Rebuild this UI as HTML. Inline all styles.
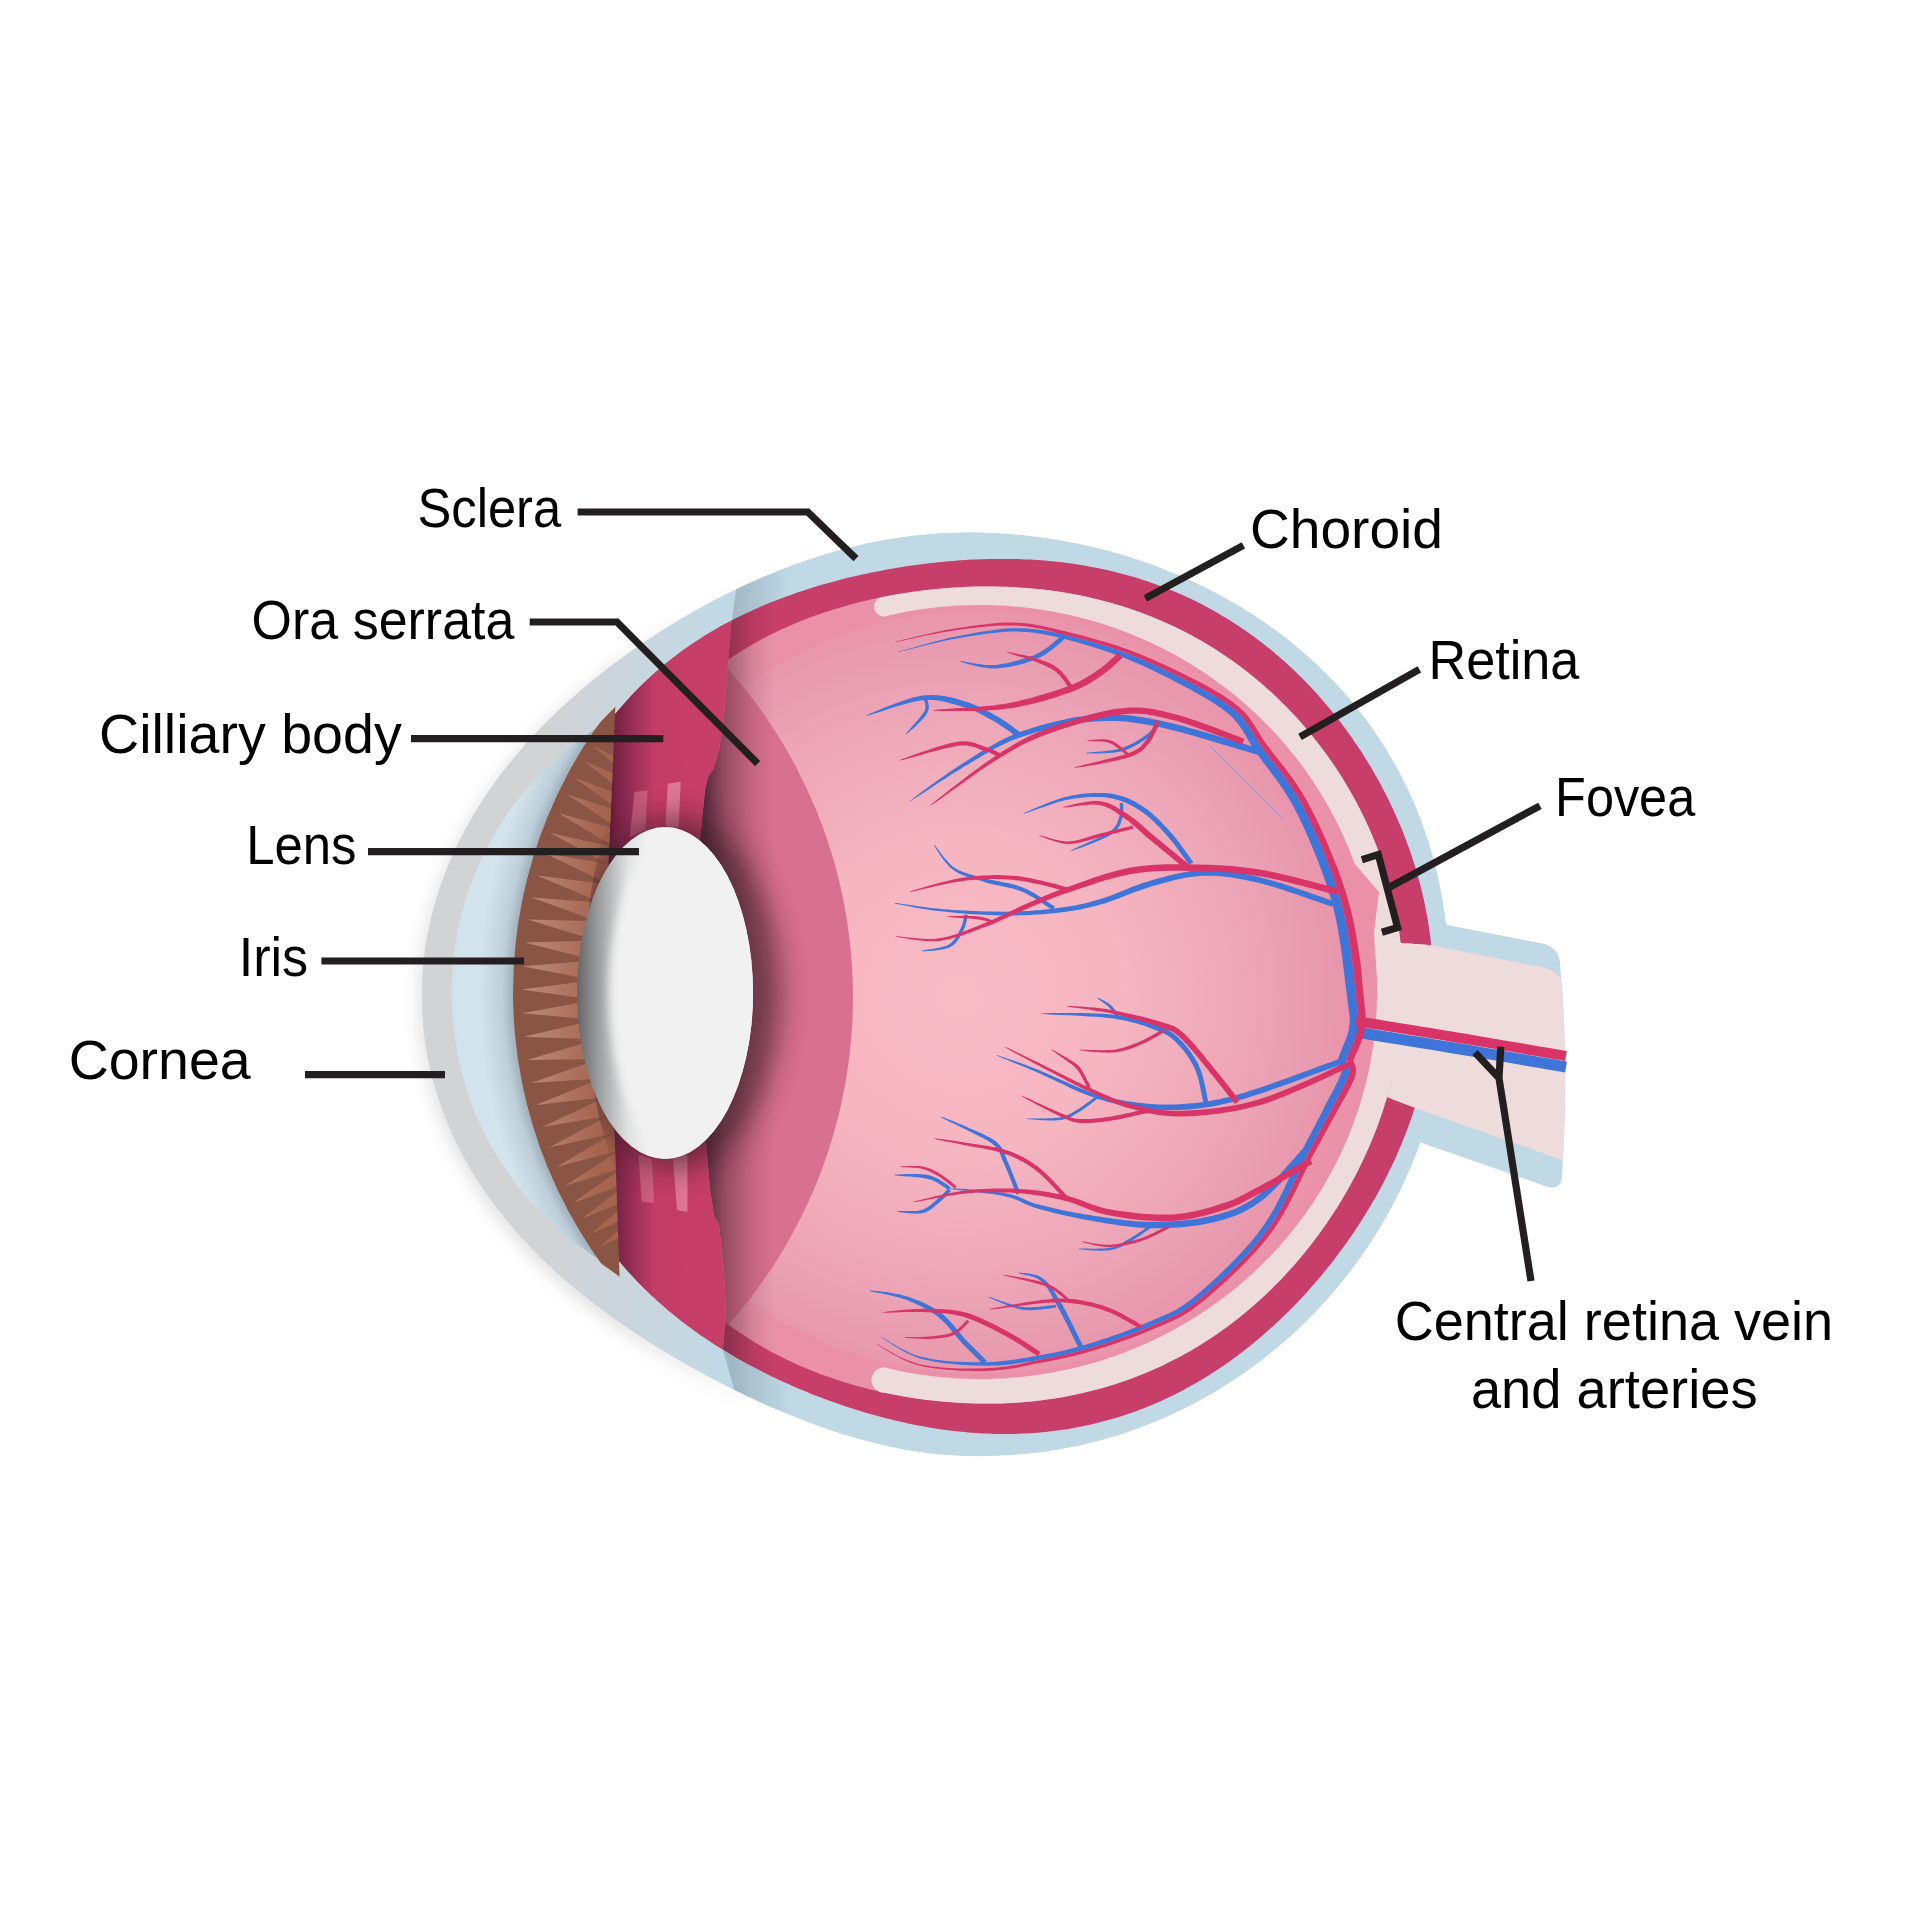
<!DOCTYPE html>
<html><head><meta charset="utf-8">
<style>
html,body{margin:0;padding:0;background:#fff;width:1920px;height:1920px;overflow:hidden}
svg{display:block}
text{font-family:"Liberation Sans",sans-serif;fill:#000}
</style></head>
<body>
<svg width="1920" height="1920" viewBox="0 0 1920 1920" xmlns="http://www.w3.org/2000/svg">
<defs>
<filter id="blur14" x="-40%" y="-40%" width="180%" height="180%"><feGaussianBlur stdDeviation="14"/></filter>
<filter id="blur8" x="-30%" y="-30%" width="160%" height="160%"><feGaussianBlur stdDeviation="9"/></filter>
<filter id="blur5" x="-30%" y="-30%" width="160%" height="160%"><feGaussianBlur stdDeviation="5"/></filter>
<filter id="blur3" x="-30%" y="-30%" width="160%" height="160%"><feGaussianBlur stdDeviation="3"/></filter>
<linearGradient id="corneaG" x1="400" y1="0" x2="760" y2="0" gradientUnits="userSpaceOnUse">
  <stop offset="0" stop-color="#D2D3D5"/><stop offset="0.4" stop-color="#D2D3D5"/><stop offset="0.55" stop-color="#CDD4DA"/><stop offset="0.9" stop-color="#C1D9E5"/><stop offset="1" stop-color="#C1D9E5"/>
</linearGradient>
<radialGradient id="acG" cx="975" cy="992" r="540" gradientUnits="userSpaceOnUse">
  <stop offset="0.855" stop-color="#9EB0BC"/><stop offset="0.875" stop-color="#BFCFDA"/><stop offset="0.92" stop-color="#D4E4EC"/><stop offset="0.96" stop-color="#D2E3EC"/><stop offset="1" stop-color="#C3D9E5"/>
</radialGradient>
<radialGradient id="vitG" cx="960" cy="997" r="400" gradientUnits="userSpaceOnUse">
  <stop offset="0" stop-color="#F8BBC6"/><stop offset="0.4" stop-color="#F5B5C1"/><stop offset="0.72" stop-color="#EDA6B7"/><stop offset="0.9" stop-color="#E89AAF"/><stop offset="1" stop-color="#EA92A9"/>
</radialGradient>
<linearGradient id="ciliG" x1="606" y1="0" x2="720" y2="0" gradientUnits="userSpaceOnUse">
  <stop offset="0" stop-color="#5A1530"/><stop offset="0.1" stop-color="#7A2446"/><stop offset="0.42" stop-color="#C23C67"/><stop offset="1" stop-color="#C83E6A"/>
</linearGradient>
<linearGradient id="shadR" x1="705" y1="0" x2="775" y2="0" gradientUnits="userSpaceOnUse">
  <stop offset="0" stop-color="#3A1A28" stop-opacity="0.8"/><stop offset="0.3" stop-color="#4A2030" stop-opacity="0.45"/><stop offset="0.7" stop-color="#4A2030" stop-opacity="0.12"/><stop offset="1" stop-color="#4A2030" stop-opacity="0"/>
</linearGradient>
<linearGradient id="shadS" x1="733" y1="0" x2="790" y2="0" gradientUnits="userSpaceOnUse">
  <stop offset="0" stop-color="#50606C" stop-opacity="0.28"/><stop offset="1" stop-color="#50606C" stop-opacity="0"/>
</linearGradient>
<linearGradient id="lensG" x1="577" y1="0" x2="650" y2="0" gradientUnits="userSpaceOnUse">
  <stop offset="0" stop-color="#666668"/><stop offset="0.35" stop-color="#A5A6A8"/><stop offset="0.7" stop-color="#E0E1E1"/><stop offset="1" stop-color="#F0F1F0"/>
</linearGradient>
<clipPath id="clipScl"><path d="M1448.8 994.0 L1448.7 998.1 L1448.5 1002.2 L1448.3 1006.3 L1448.0 1010.3 L1447.7 1014.4 L1447.4 1018.5 L1447.0 1022.6 L1446.6 1026.6 L1446.2 1030.7 L1445.7 1034.7 L1445.2 1038.8 L1444.7 1042.8 L1444.1 1046.9 L1443.5 1050.9 L1442.9 1054.9 L1442.2 1059.0 L1441.5 1063.0 L1440.8 1067.0 L1440.0 1071.0 L1439.2 1075.0 L1438.4 1079.0 L1437.6 1082.9 L1436.7 1086.9 L1435.7 1090.9 L1434.8 1094.8 L1433.8 1098.8 L1432.7 1102.7 L1431.7 1106.6 L1430.6 1110.5 L1429.5 1114.4 L1428.3 1118.3 L1427.1 1122.2 L1425.9 1126.1 L1424.7 1129.9 L1423.4 1133.8 L1422.1 1137.6 L1420.7 1141.5 L1419.3 1145.3 L1417.9 1149.1 L1416.5 1152.9 L1415.0 1156.6 L1413.5 1160.4 L1412.0 1164.2 L1410.4 1167.9 L1408.8 1171.6 L1407.2 1175.3 L1405.5 1179.0 L1403.8 1182.7 L1402.1 1186.4 L1400.4 1190.0 L1398.6 1193.7 L1396.8 1197.3 L1394.9 1200.9 L1393.1 1204.5 L1391.2 1208.0 L1389.2 1211.6 L1387.3 1215.1 L1385.3 1218.6 L1383.3 1222.1 L1381.2 1225.6 L1379.1 1229.1 L1377.0 1232.5 L1374.9 1236.0 L1372.7 1239.4 L1370.5 1242.8 L1368.3 1246.2 L1366.0 1249.5 L1363.8 1252.8 L1361.4 1256.2 L1359.1 1259.5 L1356.7 1262.7 L1354.4 1266.0 L1351.9 1269.2 L1349.5 1272.4 L1347.0 1275.6 L1344.5 1278.8 L1342.0 1281.9 L1339.4 1285.1 L1336.8 1288.2 L1334.2 1291.2 L1331.6 1294.3 L1329.0 1297.3 L1326.3 1300.4 L1323.6 1303.3 L1320.8 1306.3 L1318.1 1309.3 L1315.3 1312.2 L1312.5 1315.1 L1309.6 1317.9 L1306.8 1320.8 L1303.9 1323.6 L1301.0 1326.4 L1298.1 1329.2 L1295.1 1331.9 L1292.2 1334.7 L1289.2 1337.4 L1286.1 1340.0 L1283.1 1342.7 L1280.0 1345.3 L1277.0 1347.9 L1273.8 1350.5 L1270.7 1353.0 L1267.6 1355.5 L1264.4 1358.0 L1261.2 1360.5 L1258.0 1362.9 L1254.8 1365.3 L1251.5 1367.7 L1248.2 1370.0 L1244.9 1372.4 L1241.6 1374.7 L1238.3 1376.9 L1234.9 1379.2 L1231.6 1381.4 L1228.2 1383.6 L1224.8 1385.7 L1221.4 1387.9 L1217.9 1390.0 L1214.5 1392.0 L1211.0 1394.1 L1207.5 1396.1 L1204.0 1398.1 L1200.4 1400.0 L1196.9 1401.9 L1193.3 1403.8 L1189.8 1405.7 L1186.2 1407.5 L1182.6 1409.3 L1178.9 1411.1 L1175.3 1412.8 L1171.6 1414.5 L1168.0 1416.2 L1164.3 1417.8 L1160.6 1419.4 L1156.9 1421.0 L1153.1 1422.5 L1149.4 1424.0 L1145.6 1425.5 L1141.9 1426.9 L1138.1 1428.4 L1134.3 1429.7 L1130.5 1431.1 L1126.7 1432.4 L1122.9 1433.7 L1119.0 1434.9 L1115.2 1436.1 L1111.3 1437.3 L1107.4 1438.4 L1103.5 1439.5 L1099.7 1440.6 L1095.8 1441.6 L1091.8 1442.6 L1087.9 1443.6 L1084.0 1444.5 L1080.1 1445.4 L1076.1 1446.2 L1072.2 1447.0 L1068.2 1447.8 L1064.2 1448.6 L1060.3 1449.3 L1056.3 1449.9 L1052.3 1450.6 L1048.3 1451.2 L1044.3 1451.7 L1040.3 1452.3 L1036.3 1452.8 L1032.3 1453.2 L1028.3 1453.6 L1024.3 1454.0 L1020.3 1454.3 L1016.3 1454.6 L1012.2 1454.9 L1008.2 1455.1 L1004.2 1455.3 L1000.1 1455.5 L996.1 1455.6 L992.1 1455.7 L988.1 1455.7 L984.0 1455.7 L980.0 1455.7 L976.0 1455.6 L971.9 1455.5 L967.9 1455.4 L963.9 1455.2 L959.9 1455.0 L955.9 1454.7 L951.8 1454.5 L947.8 1454.1 L943.8 1453.8 L939.8 1453.4 L935.8 1453.0 L931.8 1452.5 L927.8 1452.0 L923.8 1451.5 L919.8 1451.0 L915.9 1450.4 L911.9 1449.7 L907.9 1449.1 L904.0 1448.4 L900.0 1447.7 L896.1 1446.9 L892.1 1446.1 L888.2 1445.3 L884.3 1444.5 L880.3 1443.6 L876.4 1442.7 L872.5 1441.7 L868.6 1440.8 L864.7 1439.8 L860.8 1438.7 L857.0 1437.7 L853.1 1436.6 L849.2 1435.5 L845.4 1434.3 L841.5 1433.2 L837.7 1432.0 L833.9 1430.8 L830.0 1429.5 L826.2 1428.3 L822.4 1427.0 L818.6 1425.7 L814.8 1424.3 L811.0 1422.9 L807.3 1421.6 L803.5 1420.1 L799.7 1418.7 L796.0 1417.3 L792.2 1415.8 L788.5 1414.3 L784.7 1412.7 L781.0 1411.2 L777.3 1409.6 L773.6 1408.0 L769.9 1406.4 L766.1 1404.8 L762.4 1403.2 L758.8 1401.5 L755.1 1399.8 L751.4 1398.1 L747.7 1396.4 L744.0 1394.6 L740.3 1392.8 L736.7 1391.1 L733.0 1389.3 L729.4 1387.4 L725.7 1385.6 L722.1 1383.7 L718.4 1381.8 L714.8 1379.9 L711.1 1378.0 L707.5 1376.1 L703.8 1374.1 L700.2 1372.1 L696.6 1370.1 L693.0 1368.1 L689.3 1366.0 L685.7 1364.0 L682.1 1361.9 L678.5 1359.8 L674.8 1357.7 L671.2 1355.5 L667.6 1353.4 L664.0 1351.2 L660.4 1349.0 L656.8 1346.7 L653.2 1344.5 L649.6 1342.2 L646.0 1339.9 L642.4 1337.5 L638.8 1335.2 L635.2 1332.8 L631.6 1330.4 L628.1 1328.0 L624.5 1325.5 L620.9 1323.0 L617.4 1320.5 L613.8 1318.0 L610.2 1315.4 L606.7 1312.8 L603.2 1310.2 L599.6 1307.6 L596.1 1304.9 L592.6 1302.2 L589.1 1299.4 L585.6 1296.7 L582.1 1293.8 L578.6 1291.0 L575.1 1288.1 L571.7 1285.2 L568.3 1282.3 L564.8 1279.3 L561.4 1276.3 L558.0 1273.3 L554.7 1270.2 L551.3 1267.1 L548.0 1264.0 L544.6 1260.8 L541.3 1257.6 L538.1 1254.3 L534.8 1251.0 L531.6 1247.7 L528.4 1244.4 L525.2 1241.0 L522.0 1237.5 L518.9 1234.0 L515.8 1230.5 L512.7 1227.0 L509.7 1223.4 L506.7 1219.8 L503.7 1216.1 L500.8 1212.4 L497.9 1208.7 L495.0 1204.9 L492.2 1201.1 L489.4 1197.2 L486.6 1193.3 L483.9 1189.4 L481.3 1185.4 L478.7 1181.4 L476.1 1177.4 L473.6 1173.3 L471.1 1169.2 L468.6 1165.1 L466.3 1160.9 L463.9 1156.7 L461.7 1152.5 L459.4 1148.2 L457.3 1143.9 L455.2 1139.5 L453.1 1135.2 L451.1 1130.8 L449.2 1126.3 L447.3 1121.9 L445.5 1117.4 L443.7 1112.9 L442.0 1108.3 L440.4 1103.8 L438.8 1099.2 L437.3 1094.6 L435.9 1089.9 L434.5 1085.3 L433.2 1080.6 L432.0 1075.9 L430.8 1071.2 L429.7 1066.4 L428.7 1061.7 L427.8 1056.9 L426.9 1052.1 L426.1 1047.3 L425.3 1042.5 L424.6 1037.7 L424.0 1032.9 L423.5 1028.0 L423.1 1023.2 L422.7 1018.3 L422.4 1013.5 L422.1 1008.6 L422.0 1003.7 L421.9 998.9 L421.9 994.0 L421.9 989.1 L422.1 984.3 L422.3 979.4 L422.6 974.5 L422.9 969.7 L423.3 964.8 L423.8 960.0 L424.4 955.1 L425.0 950.3 L425.7 945.5 L426.5 940.7 L427.4 935.9 L428.3 931.1 L429.3 926.4 L430.3 921.6 L431.5 916.9 L432.6 912.2 L433.9 907.5 L435.2 902.8 L436.6 898.2 L438.0 893.6 L439.6 888.9 L441.1 884.4 L442.8 879.8 L444.4 875.3 L446.2 870.8 L448.0 866.3 L449.9 861.8 L451.8 857.4 L453.8 853.0 L455.8 848.6 L457.9 844.3 L460.0 840.0 L462.2 835.7 L464.4 831.4 L466.7 827.2 L469.1 823.0 L471.4 818.9 L473.9 814.8 L476.3 810.7 L478.8 806.6 L481.4 802.6 L484.0 798.6 L486.6 794.7 L489.3 790.7 L492.0 786.9 L494.8 783.0 L497.5 779.2 L500.4 775.4 L503.2 771.7 L506.1 768.0 L509.0 764.3 L512.0 760.6 L514.9 757.0 L517.9 753.5 L521.0 749.9 L524.0 746.4 L527.1 743.0 L530.2 739.5 L533.3 736.1 L536.5 732.8 L539.7 729.4 L542.9 726.1 L546.1 722.9 L549.3 719.6 L552.6 716.4 L555.9 713.3 L559.1 710.1 L562.4 707.0 L565.8 704.0 L569.1 700.9 L572.5 697.9 L575.8 694.9 L579.2 692.0 L582.6 689.1 L586.0 686.2 L589.4 683.3 L592.9 680.5 L596.3 677.7 L599.8 674.9 L603.2 672.2 L606.7 669.5 L610.2 666.8 L613.7 664.1 L617.2 661.5 L620.7 658.9 L624.2 656.3 L627.7 653.8 L631.2 651.3 L634.8 648.8 L638.3 646.3 L641.9 643.9 L645.4 641.4 L649.0 639.1 L652.6 636.7 L656.2 634.3 L659.8 632.0 L663.4 629.7 L667.0 627.5 L670.6 625.2 L674.2 623.0 L677.8 620.8 L681.4 618.7 L685.1 616.5 L688.7 614.4 L692.4 612.3 L696.0 610.2 L699.7 608.2 L703.4 606.2 L707.0 604.2 L710.7 602.2 L714.4 600.2 L718.1 598.3 L721.8 596.4 L725.5 594.5 L729.2 592.7 L732.9 590.9 L736.7 589.0 L740.4 587.3 L744.2 585.5 L747.9 583.8 L751.7 582.1 L755.4 580.4 L759.2 578.8 L763.0 577.1 L766.8 575.5 L770.6 574.0 L774.4 572.4 L778.2 570.9 L782.0 569.4 L785.8 567.9 L789.7 566.5 L793.5 565.1 L797.4 563.7 L801.2 562.4 L805.1 561.0 L808.9 559.7 L812.8 558.5 L816.7 557.2 L820.6 556.0 L824.5 554.8 L828.4 553.7 L832.3 552.5 L836.2 551.4 L840.1 550.4 L844.1 549.3 L848.0 548.3 L851.9 547.4 L855.9 546.4 L859.8 545.5 L863.8 544.6 L867.7 543.8 L871.7 542.9 L875.7 542.1 L879.7 541.4 L883.6 540.7 L887.6 540.0 L891.6 539.3 L895.6 538.7 L899.6 538.1 L903.6 537.5 L907.6 536.9 L911.6 536.4 L915.6 536.0 L919.6 535.5 L923.7 535.1 L927.7 534.7 L931.7 534.4 L935.7 534.1 L939.7 533.8 L943.8 533.6 L947.8 533.3 L951.8 533.2 L955.8 533.0 L959.9 532.9 L963.9 532.8 L967.9 532.8 L971.9 532.7 L976.0 532.7 L980.0 532.8 L984.0 532.9 L988.0 533.0 L992.1 533.1 L996.1 533.3 L1000.1 533.5 L1004.1 533.7 L1008.1 534.0 L1012.1 534.3 L1016.2 534.6 L1020.2 535.0 L1024.2 535.3 L1028.2 535.8 L1032.2 536.2 L1036.2 536.7 L1040.1 537.2 L1044.1 537.8 L1048.1 538.3 L1052.1 538.9 L1056.0 539.6 L1060.0 540.2 L1064.0 540.9 L1067.9 541.7 L1071.9 542.4 L1075.8 543.2 L1079.8 544.0 L1083.7 544.9 L1087.6 545.7 L1091.5 546.6 L1095.5 547.6 L1099.4 548.5 L1103.3 549.5 L1107.2 550.6 L1111.0 551.6 L1114.9 552.7 L1118.8 553.8 L1122.7 554.9 L1126.5 556.1 L1130.4 557.3 L1134.2 558.5 L1138.0 559.8 L1141.9 561.1 L1145.7 562.4 L1149.5 563.8 L1153.3 565.1 L1157.1 566.5 L1160.8 568.0 L1164.6 569.4 L1168.4 570.9 L1172.1 572.5 L1175.8 574.0 L1179.6 575.6 L1183.3 577.2 L1187.0 578.9 L1190.7 580.5 L1194.3 582.2 L1198.0 584.0 L1201.7 585.7 L1205.3 587.5 L1208.9 589.3 L1212.6 591.2 L1216.2 593.1 L1219.7 595.0 L1223.3 596.9 L1226.9 598.9 L1230.4 600.9 L1233.9 603.0 L1237.5 605.0 L1241.0 607.1 L1244.4 609.2 L1247.9 611.4 L1251.3 613.6 L1254.8 615.8 L1258.2 618.1 L1261.6 620.3 L1265.0 622.6 L1268.3 625.0 L1271.6 627.4 L1275.0 629.8 L1278.3 632.2 L1281.5 634.7 L1284.8 637.1 L1288.0 639.7 L1291.2 642.2 L1294.4 644.8 L1297.6 647.4 L1300.7 650.1 L1303.8 652.8 L1306.9 655.5 L1310.0 658.2 L1313.0 661.0 L1316.1 663.8 L1319.1 666.6 L1322.0 669.4 L1325.0 672.3 L1327.9 675.2 L1330.8 678.2 L1333.6 681.1 L1336.4 684.1 L1339.2 687.2 L1342.0 690.2 L1344.8 693.3 L1347.5 696.4 L1350.1 699.6 L1352.8 702.7 L1355.4 705.9 L1358.0 709.2 L1360.6 712.4 L1363.1 715.7 L1365.6 719.0 L1368.0 722.3 L1370.5 725.6 L1372.9 729.0 L1375.2 732.4 L1377.5 735.8 L1379.8 739.3 L1382.1 742.8 L1384.3 746.2 L1386.5 749.8 L1388.6 753.3 L1390.7 756.9 L1392.8 760.4 L1394.9 764.0 L1396.9 767.7 L1398.8 771.3 L1400.8 775.0 L1402.7 778.6 L1404.5 782.3 L1406.3 786.1 L1408.1 789.8 L1409.9 793.6 L1411.6 797.3 L1413.2 801.1 L1414.9 804.9 L1416.5 808.7 L1418.0 812.6 L1419.5 816.4 L1421.0 820.3 L1422.4 824.2 L1423.8 828.1 L1425.2 832.0 L1426.5 835.9 L1427.8 839.8 L1429.1 843.7 L1430.3 847.7 L1431.5 851.7 L1432.6 855.6 L1433.7 859.6 L1434.7 863.6 L1435.8 867.6 L1436.7 871.6 L1437.7 875.6 L1438.6 879.7 L1439.4 883.7 L1440.3 887.7 L1441.1 891.8 L1441.8 895.8 L1442.5 899.9 L1443.2 904.0 L1443.8 908.0 L1444.4 912.1 L1445.0 916.2 L1445.5 920.3 L1446.0 924.4 L1446.5 928.4 L1446.9 932.5 L1447.3 936.6 L1447.6 940.7 L1447.9 944.8 L1448.2 948.9 L1448.4 953.0 L1448.6 957.1 L1448.8 961.2 L1448.9 965.3 L1449.0 969.4 L1449.1 973.5 L1449.1 977.6 L1449.1 981.7 L1449.0 985.8 L1448.9 989.9 L1448.8 994.0 Z" fill="#000" /></clipPath><clipPath id="clipCho"><path d="M1433.4 994.0 L1433.3 998.0 L1433.1 1001.9 L1433.0 1005.9 L1432.8 1009.8 L1432.5 1013.8 L1432.2 1017.7 L1431.9 1021.6 L1431.5 1025.6 L1431.1 1029.5 L1430.7 1033.4 L1430.2 1037.3 L1429.7 1041.3 L1429.1 1045.2 L1428.5 1049.1 L1427.9 1053.0 L1427.2 1056.8 L1426.5 1060.7 L1425.7 1064.6 L1424.9 1068.5 L1424.1 1072.3 L1423.3 1076.2 L1422.4 1080.0 L1421.4 1083.8 L1420.4 1087.6 L1419.4 1091.4 L1418.4 1095.2 L1417.3 1099.0 L1416.2 1102.8 L1415.1 1106.5 L1413.9 1110.3 L1412.7 1114.0 L1411.4 1117.7 L1410.1 1121.4 L1408.8 1125.1 L1407.5 1128.8 L1406.1 1132.4 L1404.7 1136.1 L1403.2 1139.7 L1401.8 1143.4 L1400.3 1147.0 L1398.7 1150.6 L1397.2 1154.1 L1395.6 1157.7 L1394.0 1161.3 L1392.3 1164.8 L1390.6 1168.3 L1388.9 1171.8 L1387.2 1175.3 L1385.5 1178.8 L1383.7 1182.2 L1381.9 1185.7 L1380.0 1189.1 L1378.1 1192.5 L1376.3 1195.9 L1374.3 1199.3 L1372.4 1202.6 L1370.4 1206.0 L1368.4 1209.3 L1366.4 1212.6 L1364.4 1215.9 L1362.3 1219.2 L1360.2 1222.5 L1358.1 1225.7 L1356.0 1229.0 L1353.9 1232.2 L1351.7 1235.4 L1349.5 1238.6 L1347.3 1241.7 L1345.0 1244.9 L1342.7 1248.0 L1340.5 1251.1 L1338.1 1254.2 L1335.8 1257.3 L1333.5 1260.4 L1331.1 1263.4 L1328.7 1266.4 L1326.3 1269.4 L1323.8 1272.4 L1321.4 1275.4 L1318.9 1278.4 L1316.4 1281.3 L1313.9 1284.2 L1311.3 1287.1 L1308.8 1290.0 L1306.2 1292.9 L1303.6 1295.7 L1300.9 1298.6 L1298.3 1301.4 L1295.6 1304.2 L1292.9 1306.9 L1290.2 1309.7 L1287.5 1312.4 L1284.7 1315.1 L1281.9 1317.8 L1279.1 1320.5 L1276.3 1323.1 L1273.5 1325.7 L1270.6 1328.3 L1267.7 1330.9 L1264.8 1333.5 L1261.9 1336.0 L1259.0 1338.5 L1256.0 1341.0 L1253.0 1343.5 L1250.0 1345.9 L1247.0 1348.3 L1243.9 1350.7 L1240.9 1353.1 L1237.8 1355.4 L1234.7 1357.7 L1231.5 1360.0 L1228.4 1362.2 L1225.2 1364.5 L1222.0 1366.7 L1218.8 1368.8 L1215.6 1371.0 L1212.3 1373.1 L1209.0 1375.2 L1205.7 1377.2 L1202.4 1379.2 L1199.1 1381.2 L1195.7 1383.2 L1192.3 1385.1 L1188.9 1387.0 L1185.5 1388.8 L1182.1 1390.7 L1178.7 1392.4 L1175.2 1394.2 L1171.7 1395.9 L1168.2 1397.6 L1164.7 1399.3 L1161.2 1400.9 L1157.6 1402.5 L1154.0 1404.0 L1150.5 1405.5 L1146.9 1407.0 L1143.2 1408.4 L1139.6 1409.8 L1136.0 1411.2 L1132.3 1412.5 L1128.6 1413.8 L1125.0 1415.0 L1121.3 1416.2 L1117.6 1417.4 L1113.8 1418.5 L1110.1 1419.6 L1106.4 1420.6 L1102.6 1421.6 L1098.9 1422.6 L1095.1 1423.5 L1091.3 1424.4 L1087.5 1425.3 L1083.7 1426.1 L1079.9 1426.8 L1076.1 1427.6 L1072.3 1428.2 L1068.5 1428.9 L1064.7 1429.5 L1060.8 1430.1 L1057.0 1430.6 L1053.1 1431.1 L1049.3 1431.5 L1045.5 1432.0 L1041.6 1432.3 L1037.8 1432.7 L1033.9 1433.0 L1030.0 1433.2 L1026.2 1433.4 L1022.3 1433.6 L1018.5 1433.8 L1014.6 1433.9 L1010.8 1434.0 L1006.9 1434.0 L1003.1 1434.0 L999.2 1434.0 L995.4 1433.9 L991.5 1433.8 L987.7 1433.6 L983.8 1433.5 L980.0 1433.3 L976.2 1433.0 L972.3 1432.7 L968.5 1432.4 L964.7 1432.1 L960.9 1431.7 L957.1 1431.3 L953.3 1430.9 L949.5 1430.4 L945.7 1429.9 L941.9 1429.4 L938.1 1428.9 L934.4 1428.3 L930.6 1427.7 L926.8 1427.0 L923.1 1426.3 L919.3 1425.7 L915.6 1424.9 L911.9 1424.2 L908.1 1423.4 L904.4 1422.6 L900.7 1421.8 L897.0 1420.9 L893.3 1420.1 L889.6 1419.1 L886.0 1418.2 L882.3 1417.3 L878.6 1416.3 L875.0 1415.3 L871.3 1414.3 L867.7 1413.2 L864.0 1412.2 L860.4 1411.1 L856.8 1410.0 L853.2 1408.8 L849.6 1407.7 L846.0 1406.5 L842.4 1405.3 L838.8 1404.1 L835.2 1402.8 L831.7 1401.6 L828.1 1400.3 L824.6 1399.0 L821.0 1397.6 L817.5 1396.3 L813.9 1394.9 L810.4 1393.5 L806.9 1392.1 L803.4 1390.6 L799.9 1389.2 L796.4 1387.7 L792.9 1386.2 L789.5 1384.6 L786.0 1383.1 L782.5 1381.5 L779.1 1379.9 L775.7 1378.3 L772.2 1376.7 L768.8 1375.0 L765.4 1373.3 L762.0 1371.6 L758.6 1369.8 L755.2 1368.1 L751.9 1366.3 L748.5 1364.5 L745.1 1362.7 L741.8 1360.8 L738.5 1358.9 L735.1 1357.0 L731.8 1355.1 L728.5 1353.1 L725.3 1351.1 L722.0 1349.1 L718.7 1347.1 L715.5 1345.0 L712.3 1342.9 L709.1 1340.8 L705.9 1338.6 L702.7 1336.5 L699.5 1334.3 L696.4 1332.0 L693.2 1329.8 L690.1 1327.5 L687.0 1325.2 L683.9 1322.8 L680.8 1320.5 L677.8 1318.1 L674.8 1315.6 L671.8 1313.2 L668.8 1310.7 L665.8 1308.2 L662.9 1305.6 L659.9 1303.1 L657.0 1300.5 L654.2 1297.8 L651.3 1295.2 L648.5 1292.5 L645.7 1289.8 L642.9 1287.0 L640.2 1284.3 L637.4 1281.5 L634.7 1278.6 L632.1 1275.8 L629.4 1272.9 L626.8 1270.0 L624.2 1267.0 L621.6 1264.0 L619.1 1261.0 L616.6 1258.0 L614.1 1255.0 L611.7 1251.9 L609.3 1248.8 L606.9 1245.6 L604.6 1242.5 L602.3 1239.3 L600.0 1236.1 L597.7 1232.9 L595.5 1229.6 L593.3 1226.3 L591.2 1223.0 L589.1 1219.7 L587.0 1216.3 L585.0 1213.0 L583.0 1209.6 L581.0 1206.2 L579.0 1202.7 L577.1 1199.3 L575.3 1195.8 L573.4 1192.3 L571.6 1188.8 L569.9 1185.2 L568.2 1181.7 L566.5 1178.1 L564.8 1174.5 L563.2 1170.9 L561.6 1167.3 L560.1 1163.6 L558.6 1160.0 L557.1 1156.3 L555.7 1152.6 L554.3 1148.9 L552.9 1145.2 L551.6 1141.5 L550.3 1137.8 L549.1 1134.0 L547.9 1130.3 L546.7 1126.5 L545.5 1122.7 L544.4 1118.9 L543.4 1115.1 L542.3 1111.3 L541.3 1107.5 L540.3 1103.6 L539.4 1099.8 L538.5 1095.9 L537.6 1092.1 L536.8 1088.2 L536.0 1084.3 L535.3 1080.5 L534.5 1076.6 L533.8 1072.7 L533.2 1068.8 L532.5 1064.9 L531.9 1061.0 L531.4 1057.1 L530.8 1053.1 L530.3 1049.2 L529.8 1045.3 L529.4 1041.4 L529.0 1037.4 L528.6 1033.5 L528.3 1029.6 L528.0 1025.6 L527.7 1021.7 L527.4 1017.7 L527.2 1013.8 L527.0 1009.8 L526.8 1005.9 L526.7 1001.9 L526.6 998.0 L526.5 994.0 L526.5 990.0 L526.5 986.1 L526.5 982.1 L526.5 978.2 L526.6 974.2 L526.7 970.2 L526.9 966.3 L527.0 962.3 L527.2 958.4 L527.5 954.4 L527.7 950.5 L528.0 946.5 L528.3 942.5 L528.7 938.6 L529.1 934.6 L529.5 930.7 L529.9 926.7 L530.4 922.8 L530.9 918.8 L531.4 914.9 L532.0 911.0 L532.6 907.0 L533.2 903.1 L533.9 899.2 L534.6 895.3 L535.3 891.3 L536.1 887.4 L536.9 883.5 L537.7 879.6 L538.6 875.7 L539.5 871.8 L540.4 868.0 L541.4 864.1 L542.4 860.2 L543.4 856.3 L544.5 852.5 L545.6 848.6 L546.7 844.8 L547.9 841.0 L549.1 837.2 L550.4 833.4 L551.7 829.6 L553.0 825.8 L554.3 822.0 L555.7 818.3 L557.2 814.5 L558.6 810.8 L560.1 807.1 L561.7 803.4 L563.3 799.7 L564.9 796.0 L566.5 792.3 L568.2 788.7 L570.0 785.1 L571.8 781.5 L573.6 777.9 L575.4 774.3 L577.3 770.8 L579.2 767.3 L581.2 763.7 L583.2 760.3 L585.2 756.8 L587.3 753.4 L589.4 749.9 L591.6 746.6 L593.8 743.2 L596.0 739.8 L598.3 736.5 L600.6 733.2 L602.9 730.0 L605.3 726.7 L607.7 723.5 L610.2 720.3 L612.7 717.2 L615.2 714.1 L617.7 711.0 L620.3 707.9 L623.0 704.9 L625.6 701.9 L628.3 698.9 L631.0 696.0 L633.8 693.0 L636.6 690.2 L639.4 687.3 L642.3 684.5 L645.1 681.7 L648.1 679.0 L651.0 676.3 L654.0 673.6 L657.0 671.0 L660.0 668.4 L663.1 665.8 L666.1 663.3 L669.3 660.8 L672.4 658.3 L675.6 655.9 L678.7 653.5 L681.9 651.1 L685.2 648.8 L688.4 646.5 L691.7 644.3 L695.0 642.1 L698.3 639.9 L701.7 637.7 L705.0 635.6 L708.4 633.6 L711.8 631.5 L715.2 629.5 L718.6 627.6 L722.1 625.6 L725.5 623.7 L729.0 621.9 L732.5 620.0 L736.0 618.2 L739.5 616.5 L743.0 614.8 L746.6 613.1 L750.1 611.4 L753.7 609.8 L757.2 608.2 L760.8 606.6 L764.4 605.1 L768.0 603.6 L771.6 602.1 L775.2 600.7 L778.9 599.2 L782.5 597.9 L786.1 596.5 L789.8 595.2 L793.4 593.9 L797.1 592.6 L800.7 591.4 L804.4 590.2 L808.1 589.0 L811.8 587.8 L815.4 586.7 L819.1 585.6 L822.8 584.5 L826.5 583.5 L830.2 582.4 L833.9 581.4 L837.6 580.4 L841.3 579.5 L845.0 578.5 L848.7 577.6 L852.4 576.7 L856.1 575.9 L859.9 575.0 L863.6 574.2 L867.3 573.4 L871.0 572.6 L874.8 571.9 L878.5 571.2 L882.2 570.4 L885.9 569.7 L889.7 569.1 L893.4 568.4 L897.2 567.8 L900.9 567.2 L904.6 566.6 L908.4 566.0 L912.1 565.5 L915.9 565.0 L919.6 564.5 L923.4 564.0 L927.1 563.5 L930.9 563.1 L934.7 562.7 L938.4 562.3 L942.2 561.9 L946.0 561.5 L949.7 561.2 L953.5 560.9 L957.3 560.6 L961.1 560.3 L964.8 560.1 L968.6 559.8 L972.4 559.6 L976.2 559.5 L980.0 559.3 L983.8 559.2 L987.6 559.1 L991.4 559.0 L995.2 558.9 L999.0 558.9 L1002.8 558.9 L1006.6 558.9 L1010.4 559.0 L1014.2 559.0 L1018.0 559.1 L1021.9 559.3 L1025.7 559.4 L1029.5 559.6 L1033.3 559.8 L1037.1 560.1 L1040.9 560.3 L1044.8 560.6 L1048.6 561.0 L1052.4 561.3 L1056.2 561.7 L1060.0 562.1 L1063.9 562.6 L1067.7 563.1 L1071.5 563.6 L1075.3 564.1 L1079.1 564.7 L1082.9 565.3 L1086.7 566.0 L1090.5 566.7 L1094.3 567.4 L1098.1 568.1 L1101.9 568.9 L1105.7 569.7 L1109.4 570.6 L1113.2 571.5 L1117.0 572.4 L1120.7 573.4 L1124.5 574.4 L1128.2 575.4 L1132.0 576.5 L1135.7 577.6 L1139.4 578.7 L1143.1 579.9 L1146.8 581.1 L1150.5 582.4 L1154.2 583.7 L1157.8 585.0 L1161.5 586.4 L1165.1 587.8 L1168.8 589.2 L1172.4 590.7 L1176.0 592.2 L1179.6 593.8 L1183.1 595.3 L1186.7 597.0 L1190.2 598.6 L1193.8 600.3 L1197.3 602.0 L1200.8 603.8 L1204.2 605.6 L1207.7 607.5 L1211.1 609.3 L1214.6 611.2 L1218.0 613.2 L1221.3 615.2 L1224.7 617.2 L1228.1 619.2 L1231.4 621.3 L1234.7 623.4 L1238.0 625.6 L1241.2 627.8 L1244.5 630.0 L1247.7 632.2 L1250.9 634.5 L1254.1 636.8 L1257.2 639.2 L1260.4 641.5 L1263.5 643.9 L1266.6 646.4 L1269.6 648.8 L1272.7 651.3 L1275.7 653.9 L1278.7 656.4 L1281.6 659.0 L1284.6 661.6 L1287.5 664.2 L1290.4 666.9 L1293.3 669.6 L1296.1 672.3 L1298.9 675.1 L1301.7 677.8 L1304.5 680.6 L1307.2 683.5 L1310.0 686.3 L1312.7 689.2 L1315.3 692.1 L1318.0 695.0 L1320.6 697.9 L1323.2 700.9 L1325.7 703.9 L1328.3 706.9 L1330.8 709.9 L1333.3 713.0 L1335.7 716.1 L1338.2 719.2 L1340.6 722.3 L1342.9 725.4 L1345.3 728.6 L1347.6 731.8 L1349.9 735.0 L1352.2 738.2 L1354.4 741.4 L1356.6 744.7 L1358.8 748.0 L1361.0 751.3 L1363.1 754.6 L1365.2 757.9 L1367.3 761.3 L1369.4 764.7 L1371.4 768.0 L1373.4 771.4 L1375.3 774.9 L1377.3 778.3 L1379.2 781.8 L1381.1 785.2 L1382.9 788.7 L1384.7 792.2 L1386.5 795.7 L1388.3 799.3 L1390.0 802.8 L1391.7 806.4 L1393.4 810.0 L1395.0 813.5 L1396.6 817.2 L1398.2 820.8 L1399.8 824.4 L1401.3 828.1 L1402.8 831.7 L1404.2 835.4 L1405.6 839.1 L1407.0 842.8 L1408.4 846.5 L1409.7 850.2 L1411.0 854.0 L1412.2 857.7 L1413.5 861.5 L1414.7 865.3 L1415.8 869.0 L1416.9 872.8 L1418.0 876.6 L1419.1 880.5 L1420.1 884.3 L1421.1 888.1 L1422.0 892.0 L1422.9 895.8 L1423.8 899.7 L1424.6 903.5 L1425.4 907.4 L1426.2 911.3 L1426.9 915.2 L1427.6 919.1 L1428.3 923.0 L1428.9 926.9 L1429.4 930.8 L1430.0 934.8 L1430.5 938.7 L1430.9 942.6 L1431.4 946.6 L1431.7 950.5 L1432.1 954.4 L1432.4 958.4 L1432.7 962.3 L1432.9 966.3 L1433.1 970.3 L1433.2 974.2 L1433.3 978.2 L1433.4 982.1 L1433.4 986.1 L1433.4 990.0 L1433.4 994.0 Z" fill="#000" /></clipPath><clipPath id="clipChi"><path d="M1403.0 994.0 L1402.9 997.7 L1402.8 1001.4 L1402.7 1005.1 L1402.5 1008.8 L1402.2 1012.4 L1402.0 1016.1 L1401.7 1019.8 L1401.3 1023.5 L1400.9 1027.1 L1400.5 1030.8 L1400.1 1034.5 L1399.6 1038.1 L1399.1 1041.8 L1398.6 1045.4 L1398.0 1049.0 L1397.4 1052.7 L1396.7 1056.3 L1396.1 1059.9 L1395.3 1063.5 L1394.6 1067.1 L1393.8 1070.7 L1393.0 1074.3 L1392.2 1077.9 L1391.3 1081.4 L1390.4 1085.0 L1389.5 1088.5 L1388.5 1092.1 L1387.5 1095.6 L1386.5 1099.1 L1385.4 1102.6 L1384.3 1106.1 L1383.2 1109.6 L1382.0 1113.1 L1380.8 1116.5 L1379.6 1120.0 L1378.4 1123.4 L1377.1 1126.9 L1375.8 1130.3 L1374.5 1133.7 L1373.1 1137.1 L1371.7 1140.5 L1370.3 1143.8 L1368.9 1147.2 L1367.4 1150.5 L1365.9 1153.9 L1364.4 1157.2 L1362.9 1160.5 L1361.3 1163.8 L1359.7 1167.0 L1358.1 1170.3 L1356.4 1173.5 L1354.7 1176.8 L1353.0 1180.0 L1351.3 1183.2 L1349.5 1186.4 L1347.8 1189.5 L1345.9 1192.7 L1344.1 1195.8 L1342.3 1199.0 L1340.4 1202.1 L1338.5 1205.2 L1336.6 1208.2 L1334.6 1211.3 L1332.6 1214.3 L1330.6 1217.4 L1328.6 1220.4 L1326.6 1223.4 L1324.5 1226.4 L1322.4 1229.3 L1320.3 1232.3 L1318.1 1235.2 L1316.0 1238.1 L1313.8 1241.0 L1311.6 1243.9 L1309.4 1246.7 L1307.1 1249.6 L1304.8 1252.4 L1302.5 1255.2 L1300.2 1258.0 L1297.9 1260.7 L1295.5 1263.5 L1293.1 1266.2 L1290.7 1268.9 L1288.3 1271.6 L1285.8 1274.2 L1283.3 1276.9 L1280.9 1279.5 L1278.3 1282.1 L1275.8 1284.7 L1273.2 1287.2 L1270.7 1289.8 L1268.1 1292.3 L1265.4 1294.8 L1262.8 1297.3 L1260.1 1299.7 L1257.4 1302.1 L1254.7 1304.5 L1252.0 1306.9 L1249.3 1309.3 L1246.5 1311.6 L1243.7 1313.9 L1240.9 1316.2 L1238.1 1318.4 L1235.2 1320.7 L1232.3 1322.9 L1229.5 1325.0 L1226.5 1327.2 L1223.6 1329.3 L1220.7 1331.4 L1217.7 1333.5 L1214.7 1335.5 L1211.7 1337.6 L1208.7 1339.5 L1205.7 1341.5 L1202.6 1343.4 L1199.6 1345.4 L1196.5 1347.2 L1193.4 1349.1 L1190.2 1350.9 L1187.1 1352.7 L1183.9 1354.5 L1180.8 1356.2 L1177.6 1357.9 L1174.4 1359.6 L1171.2 1361.2 L1167.9 1362.8 L1164.7 1364.4 L1161.4 1365.9 L1158.1 1367.5 L1154.8 1369.0 L1151.5 1370.4 L1148.2 1371.8 L1144.9 1373.2 L1141.6 1374.6 L1138.2 1375.9 L1134.8 1377.2 L1131.5 1378.5 L1128.1 1379.7 L1124.7 1380.9 L1121.3 1382.1 L1117.8 1383.3 L1114.4 1384.4 L1111.0 1385.4 L1107.5 1386.5 L1104.1 1387.5 L1100.6 1388.5 L1097.1 1389.4 L1093.7 1390.3 L1090.2 1391.2 L1086.7 1392.1 L1083.2 1392.9 L1079.7 1393.7 L1076.1 1394.5 L1072.6 1395.2 L1069.1 1395.9 L1065.6 1396.6 L1062.0 1397.2 L1058.5 1397.8 L1054.9 1398.4 L1051.4 1398.9 L1047.8 1399.4 L1044.3 1399.9 L1040.7 1400.4 L1037.2 1400.8 L1033.6 1401.2 L1030.0 1401.5 L1026.5 1401.9 L1022.9 1402.2 L1019.3 1402.4 L1015.8 1402.7 L1012.2 1402.9 L1008.6 1403.1 L1005.0 1403.2 L1001.5 1403.4 L997.9 1403.5 L994.3 1403.6 L990.7 1403.6 L987.1 1403.6 L983.6 1403.6 L980.0 1403.6 L976.4 1403.5 L972.9 1403.4 L969.3 1403.3 L965.7 1403.2 L962.1 1403.0 L958.6 1402.8 L955.0 1402.6 L951.4 1402.3 L947.9 1402.0 L944.3 1401.7 L940.8 1401.4 L937.2 1401.1 L933.7 1400.7 L930.1 1400.3 L926.6 1399.8 L923.0 1399.4 L919.5 1398.9 L916.0 1398.4 L912.4 1397.9 L908.9 1397.3 L905.4 1396.7 L901.8 1396.1 L898.3 1395.5 L894.8 1394.8 L891.3 1394.1 L887.8 1393.4 L884.3 1392.6 L880.8 1391.9 L877.3 1391.1 L873.8 1390.3 L870.3 1389.4 L866.9 1388.5 L863.4 1387.6 L859.9 1386.7 L856.5 1385.8 L853.0 1384.8 L849.6 1383.8 L846.1 1382.7 L842.7 1381.7 L839.3 1380.6 L835.9 1379.5 L832.5 1378.3 L829.1 1377.1 L825.7 1375.9 L822.3 1374.7 L818.9 1373.4 L815.6 1372.1 L812.2 1370.8 L808.9 1369.5 L805.6 1368.1 L802.2 1366.7 L798.9 1365.3 L795.6 1363.8 L792.3 1362.3 L789.1 1360.8 L785.8 1359.2 L782.6 1357.6 L779.3 1356.0 L776.1 1354.3 L772.9 1352.7 L769.7 1350.9 L766.6 1349.2 L763.4 1347.4 L760.3 1345.6 L757.2 1343.8 L754.1 1341.9 L751.0 1340.0 L747.9 1338.1 L744.9 1336.1 L741.9 1334.1 L738.9 1332.1 L735.9 1330.0 L732.9 1327.9 L730.0 1325.8 L727.1 1323.6 L724.2 1321.5 L721.3 1319.2 L718.4 1317.0 L715.6 1314.7 L712.8 1312.4 L710.1 1310.1 L707.3 1307.7 L704.6 1305.3 L701.9 1302.8 L699.3 1300.4 L696.6 1297.9 L694.0 1295.4 L691.4 1292.8 L688.9 1290.2 L686.4 1287.6 L683.9 1285.0 L681.4 1282.3 L679.0 1279.6 L676.6 1276.9 L674.2 1274.2 L671.9 1271.4 L669.6 1268.6 L667.3 1265.8 L665.1 1262.9 L662.9 1260.1 L660.7 1257.2 L658.6 1254.3 L656.5 1251.3 L654.4 1248.4 L652.4 1245.4 L650.4 1242.4 L648.5 1239.3 L646.5 1236.3 L644.6 1233.2 L642.8 1230.1 L640.9 1227.0 L639.2 1223.9 L637.4 1220.8 L635.7 1217.6 L634.0 1214.4 L632.4 1211.2 L630.7 1208.0 L629.2 1204.8 L627.6 1201.6 L626.1 1198.3 L624.6 1195.1 L623.2 1191.8 L621.8 1188.5 L620.4 1185.2 L619.0 1181.9 L617.7 1178.6 L616.5 1175.3 L615.2 1171.9 L614.0 1168.6 L612.8 1165.2 L611.7 1161.9 L610.5 1158.5 L609.4 1155.1 L608.4 1151.7 L607.4 1148.4 L606.4 1145.0 L605.4 1141.6 L604.4 1138.2 L603.5 1134.8 L602.6 1131.3 L601.8 1127.9 L601.0 1124.5 L600.2 1121.1 L599.4 1117.7 L598.6 1114.2 L597.9 1110.8 L597.2 1107.4 L596.5 1104.0 L595.9 1100.5 L595.2 1097.1 L594.6 1093.7 L594.0 1090.2 L593.5 1086.8 L592.9 1083.4 L592.4 1079.9 L591.9 1076.5 L591.4 1073.1 L591.0 1069.6 L590.5 1066.2 L590.1 1062.7 L589.7 1059.3 L589.3 1055.9 L589.0 1052.4 L588.6 1049.0 L588.3 1045.6 L588.0 1042.1 L587.7 1038.7 L587.4 1035.3 L587.2 1031.8 L586.9 1028.4 L586.7 1025.0 L586.5 1021.5 L586.3 1018.1 L586.1 1014.6 L586.0 1011.2 L585.8 1007.8 L585.7 1004.3 L585.6 1000.9 L585.5 997.4 L585.4 994.0 L585.4 990.6 L585.3 987.1 L585.3 983.7 L585.3 980.2 L585.3 976.8 L585.3 973.3 L585.3 969.9 L585.4 966.4 L585.5 962.9 L585.5 959.5 L585.6 956.0 L585.8 952.6 L585.9 949.1 L586.1 945.6 L586.3 942.2 L586.5 938.7 L586.7 935.2 L586.9 931.7 L587.2 928.3 L587.5 924.8 L587.8 921.3 L588.1 917.8 L588.5 914.3 L588.8 910.9 L589.2 907.4 L589.6 903.9 L590.1 900.4 L590.5 896.9 L591.0 893.4 L591.6 889.9 L592.1 886.4 L592.7 882.9 L593.3 879.4 L593.9 876.0 L594.5 872.5 L595.2 869.0 L595.9 865.5 L596.7 862.0 L597.5 858.5 L598.3 855.1 L599.1 851.6 L599.9 848.1 L600.8 844.6 L601.8 841.2 L602.7 837.7 L603.7 834.3 L604.8 830.8 L605.8 827.4 L606.9 824.0 L608.0 820.6 L609.2 817.1 L610.4 813.7 L611.6 810.3 L612.9 807.0 L614.2 803.6 L615.6 800.2 L616.9 796.9 L618.4 793.5 L619.8 790.2 L621.3 786.9 L622.8 783.6 L624.4 780.3 L626.0 777.1 L627.6 773.8 L629.3 770.6 L631.0 767.4 L632.8 764.2 L634.6 761.0 L636.4 757.9 L638.3 754.7 L640.2 751.6 L642.1 748.5 L644.1 745.5 L646.1 742.4 L648.2 739.4 L650.3 736.4 L652.4 733.4 L654.6 730.5 L656.8 727.5 L659.0 724.6 L661.3 721.8 L663.6 718.9 L665.9 716.1 L668.3 713.3 L670.7 710.6 L673.1 707.8 L675.6 705.1 L678.1 702.4 L680.6 699.8 L683.2 697.2 L685.8 694.6 L688.4 692.1 L691.1 689.5 L693.8 687.1 L696.5 684.6 L699.2 682.2 L702.0 679.8 L704.8 677.4 L707.6 675.1 L710.5 672.8 L713.4 670.5 L716.3 668.3 L719.2 666.1 L722.1 664.0 L725.1 661.8 L728.1 659.7 L731.1 657.7 L734.2 655.6 L737.2 653.7 L740.3 651.7 L743.4 649.8 L746.5 647.9 L749.7 646.0 L752.8 644.2 L756.0 642.4 L759.2 640.6 L762.4 638.9 L765.6 637.2 L768.9 635.5 L772.1 633.9 L775.4 632.3 L778.6 630.7 L781.9 629.2 L785.2 627.7 L788.6 626.2 L791.9 624.8 L795.2 623.4 L798.6 622.0 L801.9 620.6 L805.3 619.3 L808.7 618.0 L812.0 616.8 L815.4 615.5 L818.8 614.3 L822.3 613.2 L825.7 612.0 L829.1 610.9 L832.5 609.8 L836.0 608.7 L839.4 607.7 L842.8 606.7 L846.3 605.7 L849.8 604.8 L853.2 603.8 L856.7 602.9 L860.2 602.0 L863.6 601.2 L867.1 600.4 L870.6 599.6 L874.1 598.8 L877.6 598.0 L881.1 597.3 L884.6 596.6 L888.1 595.9 L891.6 595.3 L895.1 594.6 L898.6 594.0 L902.1 593.5 L905.7 592.9 L909.2 592.4 L912.7 591.9 L916.2 591.4 L919.8 590.9 L923.3 590.5 L926.8 590.0 L930.4 589.6 L933.9 589.3 L937.4 588.9 L941.0 588.6 L944.5 588.3 L948.0 588.0 L951.6 587.8 L955.1 587.5 L958.7 587.3 L962.2 587.1 L965.8 587.0 L969.3 586.8 L972.9 586.7 L976.4 586.6 L980.0 586.6 L983.6 586.5 L987.1 586.5 L990.7 586.5 L994.2 586.5 L997.8 586.6 L1001.3 586.7 L1004.9 586.8 L1008.5 586.9 L1012.0 587.1 L1015.6 587.3 L1019.1 587.5 L1022.7 587.7 L1026.3 588.0 L1029.8 588.3 L1033.4 588.6 L1036.9 588.9 L1040.5 589.3 L1044.0 589.7 L1047.6 590.2 L1051.1 590.6 L1054.7 591.1 L1058.2 591.6 L1061.8 592.2 L1065.3 592.7 L1068.8 593.3 L1072.4 594.0 L1075.9 594.6 L1079.4 595.3 L1082.9 596.0 L1086.4 596.8 L1089.9 597.5 L1093.5 598.4 L1096.9 599.2 L1100.4 600.1 L1103.9 601.0 L1107.4 601.9 L1110.9 602.9 L1114.3 603.8 L1117.8 604.9 L1121.2 605.9 L1124.7 607.0 L1128.1 608.1 L1131.5 609.3 L1135.0 610.5 L1138.4 611.7 L1141.8 612.9 L1145.2 614.2 L1148.5 615.5 L1151.9 616.8 L1155.2 618.2 L1158.6 619.6 L1161.9 621.0 L1165.2 622.5 L1168.5 624.0 L1171.8 625.5 L1175.1 627.0 L1178.4 628.6 L1181.6 630.2 L1184.9 631.9 L1188.1 633.6 L1191.3 635.3 L1194.5 637.0 L1197.7 638.8 L1200.8 640.6 L1204.0 642.4 L1207.1 644.3 L1210.2 646.2 L1213.3 648.1 L1216.4 650.0 L1219.5 652.0 L1222.5 654.0 L1225.5 656.1 L1228.5 658.1 L1231.5 660.2 L1234.5 662.3 L1237.5 664.5 L1240.4 666.6 L1243.3 668.9 L1246.2 671.1 L1249.1 673.3 L1251.9 675.6 L1254.8 677.9 L1257.6 680.3 L1260.4 682.6 L1263.1 685.0 L1265.9 687.4 L1268.6 689.9 L1271.3 692.3 L1274.0 694.8 L1276.7 697.3 L1279.3 699.9 L1281.9 702.4 L1284.5 705.0 L1287.1 707.6 L1289.6 710.3 L1292.2 712.9 L1294.7 715.6 L1297.1 718.3 L1299.6 721.0 L1302.0 723.8 L1304.4 726.5 L1306.8 729.3 L1309.2 732.2 L1311.5 735.0 L1313.8 737.8 L1316.1 740.7 L1318.4 743.6 L1320.6 746.5 L1322.8 749.5 L1325.0 752.4 L1327.2 755.4 L1329.3 758.4 L1331.4 761.4 L1333.5 764.4 L1335.5 767.5 L1337.6 770.6 L1339.6 773.7 L1341.5 776.8 L1343.5 779.9 L1345.4 783.0 L1347.3 786.2 L1349.2 789.4 L1351.0 792.6 L1352.8 795.8 L1354.6 799.0 L1356.3 802.3 L1358.0 805.5 L1359.7 808.8 L1361.4 812.1 L1363.0 815.4 L1364.6 818.7 L1366.2 822.0 L1367.8 825.4 L1369.3 828.8 L1370.7 832.1 L1372.2 835.5 L1373.6 838.9 L1375.0 842.4 L1376.4 845.8 L1377.7 849.3 L1379.0 852.7 L1380.3 856.2 L1381.5 859.7 L1382.7 863.2 L1383.9 866.7 L1385.0 870.2 L1386.1 873.7 L1387.2 877.2 L1388.2 880.8 L1389.2 884.4 L1390.2 887.9 L1391.1 891.5 L1392.0 895.1 L1392.9 898.7 L1393.7 902.3 L1394.5 905.9 L1395.3 909.5 L1396.0 913.1 L1396.7 916.8 L1397.3 920.4 L1398.0 924.1 L1398.5 927.7 L1399.1 931.4 L1399.6 935.0 L1400.1 938.7 L1400.5 942.4 L1400.9 946.0 L1401.3 949.7 L1401.7 953.4 L1402.0 957.1 L1402.2 960.8 L1402.5 964.5 L1402.7 968.1 L1402.8 971.8 L1402.9 975.5 L1403.0 979.2 L1403.1 982.9 L1403.1 986.6 L1403.1 990.3 L1403.0 994.0 Z" fill="#000" /></clipPath><clipPath id="clipLens"><ellipse cx="665" cy="993" rx="88" ry="166" transform="rotate(0.00 665 993)" fill="#000" /></clipPath><clipPath id="clipIris"><circle cx="975" cy="992" r="462"/></clipPath><clipPath id="clipAC"><circle cx="766" cy="993" r="314.6"/></clipPath><clipPath id="clipCor"><rect x="0" y="0" width="700" height="1920"/></clipPath><clipPath id="clipLeft"><rect x="0" y="0" width="640" height="1920"/></clipPath><linearGradient id="shMaskG" x1="400" y1="0" x2="760" y2="0" gradientUnits="userSpaceOnUse"><stop offset="0" stop-color="#fff"/><stop offset="0.6" stop-color="#fff"/><stop offset="1" stop-color="#000"/></linearGradient><mask id="shMask"><rect x="0" y="0" width="1920" height="1920" fill="url(#shMaskG)"/></mask><linearGradient id="sclG" x1="540" y1="0" x2="720" y2="0" gradientUnits="userSpaceOnUse"><stop offset="0" stop-color="#CDD4DA"/><stop offset="1" stop-color="#C1D9E5"/></linearGradient><mask id="mBand"><rect x="0" y="0" width="1920" height="1920" fill="#fff"/><path d="M1433.4 994.0 L1433.3 998.0 L1433.1 1001.9 L1433.0 1005.9 L1432.8 1009.8 L1432.5 1013.8 L1432.2 1017.7 L1431.9 1021.6 L1431.5 1025.6 L1431.1 1029.5 L1430.7 1033.4 L1430.2 1037.3 L1429.7 1041.3 L1429.1 1045.2 L1428.5 1049.1 L1427.9 1053.0 L1427.2 1056.8 L1426.5 1060.7 L1425.7 1064.6 L1424.9 1068.5 L1424.1 1072.3 L1423.3 1076.2 L1422.4 1080.0 L1421.4 1083.8 L1420.4 1087.6 L1419.4 1091.4 L1418.4 1095.2 L1417.3 1099.0 L1416.2 1102.8 L1415.1 1106.5 L1413.9 1110.3 L1412.7 1114.0 L1411.4 1117.7 L1410.1 1121.4 L1408.8 1125.1 L1407.5 1128.8 L1406.1 1132.4 L1404.7 1136.1 L1403.2 1139.7 L1401.8 1143.4 L1400.3 1147.0 L1398.7 1150.6 L1397.2 1154.1 L1395.6 1157.7 L1394.0 1161.3 L1392.3 1164.8 L1390.6 1168.3 L1388.9 1171.8 L1387.2 1175.3 L1385.5 1178.8 L1383.7 1182.2 L1381.9 1185.7 L1380.0 1189.1 L1378.1 1192.5 L1376.3 1195.9 L1374.3 1199.3 L1372.4 1202.6 L1370.4 1206.0 L1368.4 1209.3 L1366.4 1212.6 L1364.4 1215.9 L1362.3 1219.2 L1360.2 1222.5 L1358.1 1225.7 L1356.0 1229.0 L1353.9 1232.2 L1351.7 1235.4 L1349.5 1238.6 L1347.3 1241.7 L1345.0 1244.9 L1342.7 1248.0 L1340.5 1251.1 L1338.1 1254.2 L1335.8 1257.3 L1333.5 1260.4 L1331.1 1263.4 L1328.7 1266.4 L1326.3 1269.4 L1323.8 1272.4 L1321.4 1275.4 L1318.9 1278.4 L1316.4 1281.3 L1313.9 1284.2 L1311.3 1287.1 L1308.8 1290.0 L1306.2 1292.9 L1303.6 1295.7 L1300.9 1298.6 L1298.3 1301.4 L1295.6 1304.2 L1292.9 1306.9 L1290.2 1309.7 L1287.5 1312.4 L1284.7 1315.1 L1281.9 1317.8 L1279.1 1320.5 L1276.3 1323.1 L1273.5 1325.7 L1270.6 1328.3 L1267.7 1330.9 L1264.8 1333.5 L1261.9 1336.0 L1259.0 1338.5 L1256.0 1341.0 L1253.0 1343.5 L1250.0 1345.9 L1247.0 1348.3 L1243.9 1350.7 L1240.9 1353.1 L1237.8 1355.4 L1234.7 1357.7 L1231.5 1360.0 L1228.4 1362.2 L1225.2 1364.5 L1222.0 1366.7 L1218.8 1368.8 L1215.6 1371.0 L1212.3 1373.1 L1209.0 1375.2 L1205.7 1377.2 L1202.4 1379.2 L1199.1 1381.2 L1195.7 1383.2 L1192.3 1385.1 L1188.9 1387.0 L1185.5 1388.8 L1182.1 1390.7 L1178.7 1392.4 L1175.2 1394.2 L1171.7 1395.9 L1168.2 1397.6 L1164.7 1399.3 L1161.2 1400.9 L1157.6 1402.5 L1154.0 1404.0 L1150.5 1405.5 L1146.9 1407.0 L1143.2 1408.4 L1139.6 1409.8 L1136.0 1411.2 L1132.3 1412.5 L1128.6 1413.8 L1125.0 1415.0 L1121.3 1416.2 L1117.6 1417.4 L1113.8 1418.5 L1110.1 1419.6 L1106.4 1420.6 L1102.6 1421.6 L1098.9 1422.6 L1095.1 1423.5 L1091.3 1424.4 L1087.5 1425.3 L1083.7 1426.1 L1079.9 1426.8 L1076.1 1427.6 L1072.3 1428.2 L1068.5 1428.9 L1064.7 1429.5 L1060.8 1430.1 L1057.0 1430.6 L1053.1 1431.1 L1049.3 1431.5 L1045.5 1432.0 L1041.6 1432.3 L1037.8 1432.7 L1033.9 1433.0 L1030.0 1433.2 L1026.2 1433.4 L1022.3 1433.6 L1018.5 1433.8 L1014.6 1433.9 L1010.8 1434.0 L1006.9 1434.0 L1003.1 1434.0 L999.2 1434.0 L995.4 1433.9 L991.5 1433.8 L987.7 1433.6 L983.8 1433.5 L980.0 1433.3 L976.2 1433.0 L972.3 1432.7 L968.5 1432.4 L964.7 1432.1 L960.9 1431.7 L957.1 1431.3 L953.3 1430.9 L949.5 1430.4 L945.7 1429.9 L941.9 1429.4 L938.1 1428.9 L934.4 1428.3 L930.6 1427.7 L926.8 1427.0 L923.1 1426.3 L919.3 1425.7 L915.6 1424.9 L911.9 1424.2 L908.1 1423.4 L904.4 1422.6 L900.7 1421.8 L897.0 1420.9 L893.3 1420.1 L889.6 1419.1 L886.0 1418.2 L882.3 1417.3 L878.6 1416.3 L875.0 1415.3 L871.3 1414.3 L867.7 1413.2 L864.0 1412.2 L860.4 1411.1 L856.8 1410.0 L853.2 1408.8 L849.6 1407.7 L846.0 1406.5 L842.4 1405.3 L838.8 1404.1 L835.2 1402.8 L831.7 1401.6 L828.1 1400.3 L824.6 1399.0 L821.0 1397.6 L817.5 1396.3 L813.9 1394.9 L810.4 1393.5 L806.9 1392.1 L803.4 1390.6 L799.9 1389.2 L796.4 1387.7 L792.9 1386.2 L789.5 1384.6 L786.0 1383.1 L782.5 1381.5 L779.1 1379.9 L775.7 1378.3 L772.2 1376.7 L768.8 1375.0 L765.4 1373.3 L762.0 1371.6 L758.6 1369.8 L755.2 1368.1 L751.9 1366.3 L748.5 1364.5 L745.1 1362.7 L741.8 1360.8 L738.5 1358.9 L735.1 1357.0 L731.8 1355.1 L728.5 1353.1 L725.3 1351.1 L722.0 1349.1 L718.7 1347.1 L715.5 1345.0 L712.3 1342.9 L709.1 1340.8 L705.9 1338.6 L702.7 1336.5 L699.5 1334.3 L696.4 1332.0 L693.2 1329.8 L690.1 1327.5 L687.0 1325.2 L683.9 1322.8 L680.8 1320.5 L677.8 1318.1 L674.8 1315.6 L671.8 1313.2 L668.8 1310.7 L665.8 1308.2 L662.9 1305.6 L659.9 1303.1 L657.0 1300.5 L654.2 1297.8 L651.3 1295.2 L648.5 1292.5 L645.7 1289.8 L642.9 1287.0 L640.2 1284.3 L637.4 1281.5 L634.7 1278.6 L632.1 1275.8 L629.4 1272.9 L626.8 1270.0 L624.2 1267.0 L621.6 1264.0 L619.1 1261.0 L616.6 1258.0 L614.1 1255.0 L611.7 1251.9 L609.3 1248.8 L606.9 1245.6 L604.6 1242.5 L602.3 1239.3 L600.0 1236.1 L597.7 1232.9 L595.5 1229.6 L593.3 1226.3 L591.2 1223.0 L589.1 1219.7 L587.0 1216.3 L585.0 1213.0 L583.0 1209.6 L581.0 1206.2 L579.0 1202.7 L577.1 1199.3 L575.3 1195.8 L573.4 1192.3 L571.6 1188.8 L569.9 1185.2 L568.2 1181.7 L566.5 1178.1 L564.8 1174.5 L563.2 1170.9 L561.6 1167.3 L560.1 1163.6 L558.6 1160.0 L557.1 1156.3 L555.7 1152.6 L554.3 1148.9 L552.9 1145.2 L551.6 1141.5 L550.3 1137.8 L549.1 1134.0 L547.9 1130.3 L546.7 1126.5 L545.5 1122.7 L544.4 1118.9 L543.4 1115.1 L542.3 1111.3 L541.3 1107.5 L540.3 1103.6 L539.4 1099.8 L538.5 1095.9 L537.6 1092.1 L536.8 1088.2 L536.0 1084.3 L535.3 1080.5 L534.5 1076.6 L533.8 1072.7 L533.2 1068.8 L532.5 1064.9 L531.9 1061.0 L531.4 1057.1 L530.8 1053.1 L530.3 1049.2 L529.8 1045.3 L529.4 1041.4 L529.0 1037.4 L528.6 1033.5 L528.3 1029.6 L528.0 1025.6 L527.7 1021.7 L527.4 1017.7 L527.2 1013.8 L527.0 1009.8 L526.8 1005.9 L526.7 1001.9 L526.6 998.0 L526.5 994.0 L526.5 990.0 L526.5 986.1 L526.5 982.1 L526.5 978.2 L526.6 974.2 L526.7 970.2 L526.9 966.3 L527.0 962.3 L527.2 958.4 L527.5 954.4 L527.7 950.5 L528.0 946.5 L528.3 942.5 L528.7 938.6 L529.1 934.6 L529.5 930.7 L529.9 926.7 L530.4 922.8 L530.9 918.8 L531.4 914.9 L532.0 911.0 L532.6 907.0 L533.2 903.1 L533.9 899.2 L534.6 895.3 L535.3 891.3 L536.1 887.4 L536.9 883.5 L537.7 879.6 L538.6 875.7 L539.5 871.8 L540.4 868.0 L541.4 864.1 L542.4 860.2 L543.4 856.3 L544.5 852.5 L545.6 848.6 L546.7 844.8 L547.9 841.0 L549.1 837.2 L550.4 833.4 L551.7 829.6 L553.0 825.8 L554.3 822.0 L555.7 818.3 L557.2 814.5 L558.6 810.8 L560.1 807.1 L561.7 803.4 L563.3 799.7 L564.9 796.0 L566.5 792.3 L568.2 788.7 L570.0 785.1 L571.8 781.5 L573.6 777.9 L575.4 774.3 L577.3 770.8 L579.2 767.3 L581.2 763.7 L583.2 760.3 L585.2 756.8 L587.3 753.4 L589.4 749.9 L591.6 746.6 L593.8 743.2 L596.0 739.8 L598.3 736.5 L600.6 733.2 L602.9 730.0 L605.3 726.7 L607.7 723.5 L610.2 720.3 L612.7 717.2 L615.2 714.1 L617.7 711.0 L620.3 707.9 L623.0 704.9 L625.6 701.9 L628.3 698.9 L631.0 696.0 L633.8 693.0 L636.6 690.2 L639.4 687.3 L642.3 684.5 L645.1 681.7 L648.1 679.0 L651.0 676.3 L654.0 673.6 L657.0 671.0 L660.0 668.4 L663.1 665.8 L666.1 663.3 L669.3 660.8 L672.4 658.3 L675.6 655.9 L678.7 653.5 L681.9 651.1 L685.2 648.8 L688.4 646.5 L691.7 644.3 L695.0 642.1 L698.3 639.9 L701.7 637.7 L705.0 635.6 L708.4 633.6 L711.8 631.5 L715.2 629.5 L718.6 627.6 L722.1 625.6 L725.5 623.7 L729.0 621.9 L732.5 620.0 L736.0 618.2 L739.5 616.5 L743.0 614.8 L746.6 613.1 L750.1 611.4 L753.7 609.8 L757.2 608.2 L760.8 606.6 L764.4 605.1 L768.0 603.6 L771.6 602.1 L775.2 600.7 L778.9 599.2 L782.5 597.9 L786.1 596.5 L789.8 595.2 L793.4 593.9 L797.1 592.6 L800.7 591.4 L804.4 590.2 L808.1 589.0 L811.8 587.8 L815.4 586.7 L819.1 585.6 L822.8 584.5 L826.5 583.5 L830.2 582.4 L833.9 581.4 L837.6 580.4 L841.3 579.5 L845.0 578.5 L848.7 577.6 L852.4 576.7 L856.1 575.9 L859.9 575.0 L863.6 574.2 L867.3 573.4 L871.0 572.6 L874.8 571.9 L878.5 571.2 L882.2 570.4 L885.9 569.7 L889.7 569.1 L893.4 568.4 L897.2 567.8 L900.9 567.2 L904.6 566.6 L908.4 566.0 L912.1 565.5 L915.9 565.0 L919.6 564.5 L923.4 564.0 L927.1 563.5 L930.9 563.1 L934.7 562.7 L938.4 562.3 L942.2 561.9 L946.0 561.5 L949.7 561.2 L953.5 560.9 L957.3 560.6 L961.1 560.3 L964.8 560.1 L968.6 559.8 L972.4 559.6 L976.2 559.5 L980.0 559.3 L983.8 559.2 L987.6 559.1 L991.4 559.0 L995.2 558.9 L999.0 558.9 L1002.8 558.9 L1006.6 558.9 L1010.4 559.0 L1014.2 559.0 L1018.0 559.1 L1021.9 559.3 L1025.7 559.4 L1029.5 559.6 L1033.3 559.8 L1037.1 560.1 L1040.9 560.3 L1044.8 560.6 L1048.6 561.0 L1052.4 561.3 L1056.2 561.7 L1060.0 562.1 L1063.9 562.6 L1067.7 563.1 L1071.5 563.6 L1075.3 564.1 L1079.1 564.7 L1082.9 565.3 L1086.7 566.0 L1090.5 566.7 L1094.3 567.4 L1098.1 568.1 L1101.9 568.9 L1105.7 569.7 L1109.4 570.6 L1113.2 571.5 L1117.0 572.4 L1120.7 573.4 L1124.5 574.4 L1128.2 575.4 L1132.0 576.5 L1135.7 577.6 L1139.4 578.7 L1143.1 579.9 L1146.8 581.1 L1150.5 582.4 L1154.2 583.7 L1157.8 585.0 L1161.5 586.4 L1165.1 587.8 L1168.8 589.2 L1172.4 590.7 L1176.0 592.2 L1179.6 593.8 L1183.1 595.3 L1186.7 597.0 L1190.2 598.6 L1193.8 600.3 L1197.3 602.0 L1200.8 603.8 L1204.2 605.6 L1207.7 607.5 L1211.1 609.3 L1214.6 611.2 L1218.0 613.2 L1221.3 615.2 L1224.7 617.2 L1228.1 619.2 L1231.4 621.3 L1234.7 623.4 L1238.0 625.6 L1241.2 627.8 L1244.5 630.0 L1247.7 632.2 L1250.9 634.5 L1254.1 636.8 L1257.2 639.2 L1260.4 641.5 L1263.5 643.9 L1266.6 646.4 L1269.6 648.8 L1272.7 651.3 L1275.7 653.9 L1278.7 656.4 L1281.6 659.0 L1284.6 661.6 L1287.5 664.2 L1290.4 666.9 L1293.3 669.6 L1296.1 672.3 L1298.9 675.1 L1301.7 677.8 L1304.5 680.6 L1307.2 683.5 L1310.0 686.3 L1312.7 689.2 L1315.3 692.1 L1318.0 695.0 L1320.6 697.9 L1323.2 700.9 L1325.7 703.9 L1328.3 706.9 L1330.8 709.9 L1333.3 713.0 L1335.7 716.1 L1338.2 719.2 L1340.6 722.3 L1342.9 725.4 L1345.3 728.6 L1347.6 731.8 L1349.9 735.0 L1352.2 738.2 L1354.4 741.4 L1356.6 744.7 L1358.8 748.0 L1361.0 751.3 L1363.1 754.6 L1365.2 757.9 L1367.3 761.3 L1369.4 764.7 L1371.4 768.0 L1373.4 771.4 L1375.3 774.9 L1377.3 778.3 L1379.2 781.8 L1381.1 785.2 L1382.9 788.7 L1384.7 792.2 L1386.5 795.7 L1388.3 799.3 L1390.0 802.8 L1391.7 806.4 L1393.4 810.0 L1395.0 813.5 L1396.6 817.2 L1398.2 820.8 L1399.8 824.4 L1401.3 828.1 L1402.8 831.7 L1404.2 835.4 L1405.6 839.1 L1407.0 842.8 L1408.4 846.5 L1409.7 850.2 L1411.0 854.0 L1412.2 857.7 L1413.5 861.5 L1414.7 865.3 L1415.8 869.0 L1416.9 872.8 L1418.0 876.6 L1419.1 880.5 L1420.1 884.3 L1421.1 888.1 L1422.0 892.0 L1422.9 895.8 L1423.8 899.7 L1424.6 903.5 L1425.4 907.4 L1426.2 911.3 L1426.9 915.2 L1427.6 919.1 L1428.3 923.0 L1428.9 926.9 L1429.4 930.8 L1430.0 934.8 L1430.5 938.7 L1430.9 942.6 L1431.4 946.6 L1431.7 950.5 L1432.1 954.4 L1432.4 958.4 L1432.7 962.3 L1432.9 966.3 L1433.1 970.3 L1433.2 974.2 L1433.3 978.2 L1433.4 982.1 L1433.4 986.1 L1433.4 990.0 L1433.4 994.0 Z" fill="#000" /></mask><mask id="mNoIris"><rect x="0" y="0" width="1920" height="1920" fill="#fff"/><circle cx="975" cy="992" r="462" fill="#000"/></mask><clipPath id="clipIrisR"><path d="M400 690 L616 690 L614 740 L608.6 860 L596 990 L614.6 1135 L620 1290 L400 1290 Z"/></clipPath><clipPath id="clipIrisTop"><path d="M400 742 L590 733 Q610 712 622 700 L650 690 L650 1300 L624 1280 Q608 1268 590 1256 L400 1256 Z"/></clipPath><linearGradient id="spG" x1="0" y1="0" x2="1" y2="0"><stop offset="0" stop-color="#C99A8A"/><stop offset="1" stop-color="#A0604A" stop-opacity="0.6"/></linearGradient><linearGradient id="spG2" x1="515" y1="0" x2="600" y2="0" gradientUnits="userSpaceOnUse"><stop offset="0" stop-color="#BF8F80"/><stop offset="1" stop-color="#A5644E"/></linearGradient></defs>
<rect width="1920" height="1920" fill="#fff"/>
<g mask="url(#shMask)"><g filter="url(#blur8)" opacity="0.14"><path d="M1000.1 533.5 L992.7 533.1 L985.2 532.8 L977.8 532.6 L970.3 532.5 L962.9 532.5 L955.4 532.7 L948.0 532.9 L940.5 533.3 L933.1 533.8 L925.6 534.4 L918.2 535.2 L910.7 536.0 L903.3 537.0 L895.9 538.1 L888.5 539.3 L881.1 540.6 L873.8 542.0 L866.4 543.6 L859.1 545.2 L851.8 547.0 L844.5 548.9 L837.3 550.8 L830.1 552.9 L822.9 555.1 L815.7 557.4 L808.5 559.8 L801.4 562.2 L794.3 564.8 L787.2 567.5 L780.1 570.2 L773.1 573.0 L766.1 576.0 L759.1 579.0 L752.1 582.1 L745.2 585.3 L738.3 588.5 L731.4 591.9 L724.5 595.3 L717.7 598.8 L710.9 602.4 L704.1 606.1 L697.3 609.8 L690.5 613.7 L683.8 617.6 L677.1 621.6 L670.4 625.6 L663.7 629.8 L657.0 634.0 L650.4 638.4 L643.8 642.8 L637.2 647.3 L630.6 651.8 L624.1 656.5 L617.5 661.3 L611.1 666.1 L604.6 671.1 L598.2 676.2 L591.8 681.3 L585.4 686.6 L579.1 691.9 L572.9 697.4 L566.7 703.0 L560.5 708.6 L554.4 714.4 L548.3 720.3 L542.4 726.3 L536.5 732.5 L530.6 738.7 L524.9 745.1 L519.3 751.6 L513.7 758.2 L508.2 764.9 L502.9 771.8 L497.7 778.7 L492.5 785.8 L487.5 793.0 L482.7 800.4 L478.0 807.8 L473.4 815.4 L469.0 823.0 L464.7 830.8 L460.6 838.7 L456.7 846.7 L453.0 854.8 L449.4 862.9 L446.1 871.2 L442.9 879.6 L440.0 888.1 L437.2 896.6 L434.7 905.2 L432.4 913.9 L430.3 922.6 L428.5 931.4 L426.8 940.2 L425.5 949.1 L424.3 958.1 L423.4 967.0 L422.7 976.0 L422.3 985.0 L422.1 994.0 L422.2 1003.0 L422.5 1012.0 L423.1 1021.0 L423.9 1030.0 L425.0 1038.9 L426.3 1047.8 L427.9 1056.7 L429.7 1065.5 L431.7 1074.2 L433.9 1082.9 L436.4 1091.6 L439.2 1100.1 L442.1 1108.6 L445.3 1117.0 L448.6 1125.3 L452.2 1133.5 L456.0 1141.5 L459.9 1149.5 L464.1 1157.4 L468.4 1165.2 L472.9 1172.8 L477.6 1180.3 L482.4 1187.7 L487.4 1195.0 L492.6 1202.2 L497.8 1209.2 L503.2 1216.1 L508.7 1222.8 L514.4 1229.5 L520.1 1236.0 L526.0 1242.3 L531.9 1248.6 L537.9 1254.7 L544.0 1260.7 L550.2 1266.5 L556.4 1272.2 L562.7 1277.8 L569.1 1283.3 L575.5 1288.7 L581.9 1294.0 L588.4 1299.1 L595.0 1304.1 L601.5 1309.1 L608.1 1313.9 L614.7 1318.6 L621.3 1323.2 L628.0 1327.8 L634.6 1332.2 L641.3 1336.6 L648.0 1340.9 L654.6 1345.1 L661.3 1349.2 L668.0 1353.2 L674.7 1357.2 L681.4 1361.1 L688.1 1364.9 L694.8 1368.7 L701.6 1372.4 L708.3 1376.0 L715.0 1379.6 L721.7 1383.1 L728.5 1386.5 L735.2 1389.9 L742.0 1393.2 L748.8 1396.5 L755.6 1399.7 L762.4 1402.9 L769.2 1405.9 L776.0 1409.0 L782.9 1411.9 L789.8 1414.8 L796.7 1417.6 L803.6 1420.3 L810.6 1423.0 L817.6 1425.6 L824.6 1428.1 L831.6 1430.5 L838.7 1432.9 L845.8 1435.1 L852.9 1437.2 L860.1 1439.3 L867.2 1441.3 L874.5 1443.1 L881.7 1444.8 L889.0 1446.5 L896.3 1448.0 L903.6 1449.4 L910.9 1450.7 L918.3 1451.8 L925.7 1452.8 L933.1 1453.7 L940.5 1454.5 L948.0 1455.1 L955.4 1455.6 L962.9 1455.9 L970.3 1456.1 L977.8 1456.2 L985.2 1456.1 L992.7 1455.8 L1000.1 1455.5 Z" fill="#222" transform="translate(-3,5)"/></g></g>
<path d="M1425 860 L1447 925 L1545 944 Q1558 948 1560 962 Q1568 1070 1562 1178 Q1560 1190 1548 1187 L1422 1143 L1370 1130 Z" fill="#C1D9E5"/>
<path d="M1000.1 533.5 L992.7 533.1 L985.2 532.8 L977.8 532.6 L970.3 532.5 L962.9 532.5 L955.4 532.7 L948.0 532.9 L940.5 533.3 L933.1 533.8 L925.6 534.4 L918.2 535.2 L910.7 536.0 L903.3 537.0 L895.9 538.1 L888.5 539.3 L881.1 540.6 L873.8 542.0 L866.4 543.6 L859.1 545.2 L851.8 547.0 L844.5 548.9 L837.3 550.8 L830.1 552.9 L822.9 555.1 L815.7 557.4 L808.5 559.8 L801.4 562.2 L794.3 564.8 L787.2 567.5 L780.1 570.2 L773.1 573.0 L766.1 576.0 L759.1 579.0 L752.1 582.1 L745.2 585.3 L738.3 588.5 L731.4 591.9 L724.5 595.3 L717.7 598.8 L710.9 602.4 L704.1 606.1 L697.3 609.8 L690.5 613.7 L683.8 617.6 L677.1 621.6 L670.4 625.6 L663.7 629.8 L657.0 634.0 L650.4 638.4 L643.8 642.8 L637.2 647.3 L630.6 651.8 L624.1 656.5 L617.5 661.3 L611.1 666.1 L604.6 671.1 L598.2 676.2 L591.8 681.3 L585.4 686.6 L579.1 691.9 L572.9 697.4 L566.7 703.0 L560.5 708.6 L554.4 714.4 L548.3 720.3 L542.4 726.3 L536.5 732.5 L530.6 738.7 L524.9 745.1 L519.3 751.6 L513.7 758.2 L508.2 764.9 L502.9 771.8 L497.7 778.7 L492.5 785.8 L487.5 793.0 L482.7 800.4 L478.0 807.8 L473.4 815.4 L469.0 823.0 L464.7 830.8 L460.6 838.7 L456.7 846.7 L453.0 854.8 L449.4 862.9 L446.1 871.2 L442.9 879.6 L440.0 888.1 L437.2 896.6 L434.7 905.2 L432.4 913.9 L430.3 922.6 L428.5 931.4 L426.8 940.2 L425.5 949.1 L424.3 958.1 L423.4 967.0 L422.7 976.0 L422.3 985.0 L422.1 994.0 L422.2 1003.0 L422.5 1012.0 L423.1 1021.0 L423.9 1030.0 L425.0 1038.9 L426.3 1047.8 L427.9 1056.7 L429.7 1065.5 L431.7 1074.2 L433.9 1082.9 L436.4 1091.6 L439.2 1100.1 L442.1 1108.6 L445.3 1117.0 L448.6 1125.3 L452.2 1133.5 L456.0 1141.5 L459.9 1149.5 L464.1 1157.4 L468.4 1165.2 L472.9 1172.8 L477.6 1180.3 L482.4 1187.7 L487.4 1195.0 L492.6 1202.2 L497.8 1209.2 L503.2 1216.1 L508.7 1222.8 L514.4 1229.5 L520.1 1236.0 L526.0 1242.3 L531.9 1248.6 L537.9 1254.7 L544.0 1260.7 L550.2 1266.5 L556.4 1272.2 L562.7 1277.8 L569.1 1283.3 L575.5 1288.7 L581.9 1294.0 L588.4 1299.1 L595.0 1304.1 L601.5 1309.1 L608.1 1313.9 L614.7 1318.6 L621.3 1323.2 L628.0 1327.8 L634.6 1332.2 L641.3 1336.6 L648.0 1340.9 L654.6 1345.1 L661.3 1349.2 L668.0 1353.2 L674.7 1357.2 L681.4 1361.1 L688.1 1364.9 L694.8 1368.7 L701.6 1372.4 L708.3 1376.0 L715.0 1379.6 L721.7 1383.1 L728.5 1386.5 L735.2 1389.9 L742.0 1393.2 L748.8 1396.5 L755.6 1399.7 L762.4 1402.9 L769.2 1405.9 L776.0 1409.0 L782.9 1411.9 L789.8 1414.8 L796.7 1417.6 L803.6 1420.3 L810.6 1423.0 L817.6 1425.6 L824.6 1428.1 L831.6 1430.5 L838.7 1432.9 L845.8 1435.1 L852.9 1437.2 L860.1 1439.3 L867.2 1441.3 L874.5 1443.1 L881.7 1444.8 L889.0 1446.5 L896.3 1448.0 L903.6 1449.4 L910.9 1450.7 L918.3 1451.8 L925.7 1452.8 L933.1 1453.7 L940.5 1454.5 L948.0 1455.1 L955.4 1455.6 L962.9 1455.9 L970.3 1456.1 L977.8 1456.2 L985.2 1456.1 L992.7 1455.8 L1000.1 1455.5 Z" fill="url(#corneaG)"/>
<path d="M1448.8 994.0 L1448.7 998.1 L1448.5 1002.2 L1448.3 1006.3 L1448.0 1010.3 L1447.7 1014.4 L1447.4 1018.5 L1447.0 1022.6 L1446.6 1026.6 L1446.2 1030.7 L1445.7 1034.7 L1445.2 1038.8 L1444.7 1042.8 L1444.1 1046.9 L1443.5 1050.9 L1442.9 1054.9 L1442.2 1059.0 L1441.5 1063.0 L1440.8 1067.0 L1440.0 1071.0 L1439.2 1075.0 L1438.4 1079.0 L1437.6 1082.9 L1436.7 1086.9 L1435.7 1090.9 L1434.8 1094.8 L1433.8 1098.8 L1432.7 1102.7 L1431.7 1106.6 L1430.6 1110.5 L1429.5 1114.4 L1428.3 1118.3 L1427.1 1122.2 L1425.9 1126.1 L1424.7 1129.9 L1423.4 1133.8 L1422.1 1137.6 L1420.7 1141.5 L1419.3 1145.3 L1417.9 1149.1 L1416.5 1152.9 L1415.0 1156.6 L1413.5 1160.4 L1412.0 1164.2 L1410.4 1167.9 L1408.8 1171.6 L1407.2 1175.3 L1405.5 1179.0 L1403.8 1182.7 L1402.1 1186.4 L1400.4 1190.0 L1398.6 1193.7 L1396.8 1197.3 L1394.9 1200.9 L1393.1 1204.5 L1391.2 1208.0 L1389.2 1211.6 L1387.3 1215.1 L1385.3 1218.6 L1383.3 1222.1 L1381.2 1225.6 L1379.1 1229.1 L1377.0 1232.5 L1374.9 1236.0 L1372.7 1239.4 L1370.5 1242.8 L1368.3 1246.2 L1366.0 1249.5 L1363.8 1252.8 L1361.4 1256.2 L1359.1 1259.5 L1356.7 1262.7 L1354.4 1266.0 L1351.9 1269.2 L1349.5 1272.4 L1347.0 1275.6 L1344.5 1278.8 L1342.0 1281.9 L1339.4 1285.1 L1336.8 1288.2 L1334.2 1291.2 L1331.6 1294.3 L1329.0 1297.3 L1326.3 1300.4 L1323.6 1303.3 L1320.8 1306.3 L1318.1 1309.3 L1315.3 1312.2 L1312.5 1315.1 L1309.6 1317.9 L1306.8 1320.8 L1303.9 1323.6 L1301.0 1326.4 L1298.1 1329.2 L1295.1 1331.9 L1292.2 1334.7 L1289.2 1337.4 L1286.1 1340.0 L1283.1 1342.7 L1280.0 1345.3 L1277.0 1347.9 L1273.8 1350.5 L1270.7 1353.0 L1267.6 1355.5 L1264.4 1358.0 L1261.2 1360.5 L1258.0 1362.9 L1254.8 1365.3 L1251.5 1367.7 L1248.2 1370.0 L1244.9 1372.4 L1241.6 1374.7 L1238.3 1376.9 L1234.9 1379.2 L1231.6 1381.4 L1228.2 1383.6 L1224.8 1385.7 L1221.4 1387.9 L1217.9 1390.0 L1214.5 1392.0 L1211.0 1394.1 L1207.5 1396.1 L1204.0 1398.1 L1200.4 1400.0 L1196.9 1401.9 L1193.3 1403.8 L1189.8 1405.7 L1186.2 1407.5 L1182.6 1409.3 L1178.9 1411.1 L1175.3 1412.8 L1171.6 1414.5 L1168.0 1416.2 L1164.3 1417.8 L1160.6 1419.4 L1156.9 1421.0 L1153.1 1422.5 L1149.4 1424.0 L1145.6 1425.5 L1141.9 1426.9 L1138.1 1428.4 L1134.3 1429.7 L1130.5 1431.1 L1126.7 1432.4 L1122.9 1433.7 L1119.0 1434.9 L1115.2 1436.1 L1111.3 1437.3 L1107.4 1438.4 L1103.5 1439.5 L1099.7 1440.6 L1095.8 1441.6 L1091.8 1442.6 L1087.9 1443.6 L1084.0 1444.5 L1080.1 1445.4 L1076.1 1446.2 L1072.2 1447.0 L1068.2 1447.8 L1064.2 1448.6 L1060.3 1449.3 L1056.3 1449.9 L1052.3 1450.6 L1048.3 1451.2 L1044.3 1451.7 L1040.3 1452.3 L1036.3 1452.8 L1032.3 1453.2 L1028.3 1453.6 L1024.3 1454.0 L1020.3 1454.3 L1016.3 1454.6 L1012.2 1454.9 L1008.2 1455.1 L1004.2 1455.3 L1000.1 1455.5 L996.1 1455.6 L992.1 1455.7 L988.1 1455.7 L984.0 1455.7 L980.0 1455.7 L976.0 1455.6 L971.9 1455.5 L967.9 1455.4 L963.9 1455.2 L959.9 1455.0 L955.9 1454.7 L951.8 1454.5 L947.8 1454.1 L943.8 1453.8 L939.8 1453.4 L935.8 1453.0 L931.8 1452.5 L927.8 1452.0 L923.8 1451.5 L919.8 1451.0 L915.9 1450.4 L911.9 1449.7 L907.9 1449.1 L904.0 1448.4 L900.0 1447.7 L896.1 1446.9 L892.1 1446.1 L888.2 1445.3 L884.3 1444.5 L880.3 1443.6 L876.4 1442.7 L872.5 1441.7 L868.6 1440.8 L864.7 1439.8 L860.8 1438.7 L857.0 1437.7 L853.1 1436.6 L849.2 1435.5 L845.4 1434.3 L841.5 1433.2 L837.7 1432.0 L833.9 1430.8 L830.0 1429.5 L826.2 1428.3 L822.4 1427.0 L818.6 1425.7 L814.8 1424.3 L811.0 1422.9 L807.3 1421.6 L803.5 1420.1 L799.7 1418.7 L796.0 1417.3 L792.2 1415.8 L788.5 1414.3 L784.7 1412.7 L781.0 1411.2 L777.3 1409.6 L773.6 1408.0 L769.9 1406.4 L766.1 1404.8 L762.4 1403.2 L758.8 1401.5 L755.1 1399.8 L751.4 1398.1 L747.7 1396.4 L744.0 1394.6 L740.3 1392.8 L736.7 1391.1 L733.0 1389.3 L729.4 1387.4 L725.7 1385.6 L722.1 1383.7 L718.4 1381.8 L714.8 1379.9 L711.1 1378.0 L707.5 1376.1 L703.8 1374.1 L700.2 1372.1 L696.6 1370.1 L693.0 1368.1 L689.3 1366.0 L685.7 1364.0 L682.1 1361.9 L678.5 1359.8 L674.8 1357.7 L671.2 1355.5 L667.6 1353.4 L664.0 1351.2 L660.4 1349.0 L656.8 1346.7 L653.2 1344.5 L649.6 1342.2 L646.0 1339.9 L642.4 1337.5 L638.8 1335.2 L635.2 1332.8 L631.6 1330.4 L628.1 1328.0 L624.5 1325.5 L620.9 1323.0 L617.4 1320.5 L613.8 1318.0 L610.2 1315.4 L606.7 1312.8 L603.2 1310.2 L599.6 1307.6 L596.1 1304.9 L592.6 1302.2 L589.1 1299.4 L585.6 1296.7 L582.1 1293.8 L578.6 1291.0 L575.1 1288.1 L571.7 1285.2 L568.3 1282.3 L564.8 1279.3 L561.4 1276.3 L558.0 1273.3 L554.7 1270.2 L551.3 1267.1 L548.0 1264.0 L544.6 1260.8 L541.3 1257.6 L538.1 1254.3 L534.8 1251.0 L531.6 1247.7 L528.4 1244.4 L525.2 1241.0 L522.0 1237.5 L518.9 1234.0 L515.8 1230.5 L512.7 1227.0 L509.7 1223.4 L506.7 1219.8 L503.7 1216.1 L500.8 1212.4 L497.9 1208.7 L495.0 1204.9 L492.2 1201.1 L489.4 1197.2 L486.6 1193.3 L483.9 1189.4 L481.3 1185.4 L478.7 1181.4 L476.1 1177.4 L473.6 1173.3 L471.1 1169.2 L468.6 1165.1 L466.3 1160.9 L463.9 1156.7 L461.7 1152.5 L459.4 1148.2 L457.3 1143.9 L455.2 1139.5 L453.1 1135.2 L451.1 1130.8 L449.2 1126.3 L447.3 1121.9 L445.5 1117.4 L443.7 1112.9 L442.0 1108.3 L440.4 1103.8 L438.8 1099.2 L437.3 1094.6 L435.9 1089.9 L434.5 1085.3 L433.2 1080.6 L432.0 1075.9 L430.8 1071.2 L429.7 1066.4 L428.7 1061.7 L427.8 1056.9 L426.9 1052.1 L426.1 1047.3 L425.3 1042.5 L424.6 1037.7 L424.0 1032.9 L423.5 1028.0 L423.1 1023.2 L422.7 1018.3 L422.4 1013.5 L422.1 1008.6 L422.0 1003.7 L421.9 998.9 L421.9 994.0 L421.9 989.1 L422.1 984.3 L422.3 979.4 L422.6 974.5 L422.9 969.7 L423.3 964.8 L423.8 960.0 L424.4 955.1 L425.0 950.3 L425.7 945.5 L426.5 940.7 L427.4 935.9 L428.3 931.1 L429.3 926.4 L430.3 921.6 L431.5 916.9 L432.6 912.2 L433.9 907.5 L435.2 902.8 L436.6 898.2 L438.0 893.6 L439.6 888.9 L441.1 884.4 L442.8 879.8 L444.4 875.3 L446.2 870.8 L448.0 866.3 L449.9 861.8 L451.8 857.4 L453.8 853.0 L455.8 848.6 L457.9 844.3 L460.0 840.0 L462.2 835.7 L464.4 831.4 L466.7 827.2 L469.1 823.0 L471.4 818.9 L473.9 814.8 L476.3 810.7 L478.8 806.6 L481.4 802.6 L484.0 798.6 L486.6 794.7 L489.3 790.7 L492.0 786.9 L494.8 783.0 L497.5 779.2 L500.4 775.4 L503.2 771.7 L506.1 768.0 L509.0 764.3 L512.0 760.6 L514.9 757.0 L517.9 753.5 L521.0 749.9 L524.0 746.4 L527.1 743.0 L530.2 739.5 L533.3 736.1 L536.5 732.8 L539.7 729.4 L542.9 726.1 L546.1 722.9 L549.3 719.6 L552.6 716.4 L555.9 713.3 L559.1 710.1 L562.4 707.0 L565.8 704.0 L569.1 700.9 L572.5 697.9 L575.8 694.9 L579.2 692.0 L582.6 689.1 L586.0 686.2 L589.4 683.3 L592.9 680.5 L596.3 677.7 L599.8 674.9 L603.2 672.2 L606.7 669.5 L610.2 666.8 L613.7 664.1 L617.2 661.5 L620.7 658.9 L624.2 656.3 L627.7 653.8 L631.2 651.3 L634.8 648.8 L638.3 646.3 L641.9 643.9 L645.4 641.4 L649.0 639.1 L652.6 636.7 L656.2 634.3 L659.8 632.0 L663.4 629.7 L667.0 627.5 L670.6 625.2 L674.2 623.0 L677.8 620.8 L681.4 618.7 L685.1 616.5 L688.7 614.4 L692.4 612.3 L696.0 610.2 L699.7 608.2 L703.4 606.2 L707.0 604.2 L710.7 602.2 L714.4 600.2 L718.1 598.3 L721.8 596.4 L725.5 594.5 L729.2 592.7 L732.9 590.9 L736.7 589.0 L740.4 587.3 L744.2 585.5 L747.9 583.8 L751.7 582.1 L755.4 580.4 L759.2 578.8 L763.0 577.1 L766.8 575.5 L770.6 574.0 L774.4 572.4 L778.2 570.9 L782.0 569.4 L785.8 567.9 L789.7 566.5 L793.5 565.1 L797.4 563.7 L801.2 562.4 L805.1 561.0 L808.9 559.7 L812.8 558.5 L816.7 557.2 L820.6 556.0 L824.5 554.8 L828.4 553.7 L832.3 552.5 L836.2 551.4 L840.1 550.4 L844.1 549.3 L848.0 548.3 L851.9 547.4 L855.9 546.4 L859.8 545.5 L863.8 544.6 L867.7 543.8 L871.7 542.9 L875.7 542.1 L879.7 541.4 L883.6 540.7 L887.6 540.0 L891.6 539.3 L895.6 538.7 L899.6 538.1 L903.6 537.5 L907.6 536.9 L911.6 536.4 L915.6 536.0 L919.6 535.5 L923.7 535.1 L927.7 534.7 L931.7 534.4 L935.7 534.1 L939.7 533.8 L943.8 533.6 L947.8 533.3 L951.8 533.2 L955.8 533.0 L959.9 532.9 L963.9 532.8 L967.9 532.8 L971.9 532.7 L976.0 532.7 L980.0 532.8 L984.0 532.9 L988.0 533.0 L992.1 533.1 L996.1 533.3 L1000.1 533.5 L1004.1 533.7 L1008.1 534.0 L1012.1 534.3 L1016.2 534.6 L1020.2 535.0 L1024.2 535.3 L1028.2 535.8 L1032.2 536.2 L1036.2 536.7 L1040.1 537.2 L1044.1 537.8 L1048.1 538.3 L1052.1 538.9 L1056.0 539.6 L1060.0 540.2 L1064.0 540.9 L1067.9 541.7 L1071.9 542.4 L1075.8 543.2 L1079.8 544.0 L1083.7 544.9 L1087.6 545.7 L1091.5 546.6 L1095.5 547.6 L1099.4 548.5 L1103.3 549.5 L1107.2 550.6 L1111.0 551.6 L1114.9 552.7 L1118.8 553.8 L1122.7 554.9 L1126.5 556.1 L1130.4 557.3 L1134.2 558.5 L1138.0 559.8 L1141.9 561.1 L1145.7 562.4 L1149.5 563.8 L1153.3 565.1 L1157.1 566.5 L1160.8 568.0 L1164.6 569.4 L1168.4 570.9 L1172.1 572.5 L1175.8 574.0 L1179.6 575.6 L1183.3 577.2 L1187.0 578.9 L1190.7 580.5 L1194.3 582.2 L1198.0 584.0 L1201.7 585.7 L1205.3 587.5 L1208.9 589.3 L1212.6 591.2 L1216.2 593.1 L1219.7 595.0 L1223.3 596.9 L1226.9 598.9 L1230.4 600.9 L1233.9 603.0 L1237.5 605.0 L1241.0 607.1 L1244.4 609.2 L1247.9 611.4 L1251.3 613.6 L1254.8 615.8 L1258.2 618.1 L1261.6 620.3 L1265.0 622.6 L1268.3 625.0 L1271.6 627.4 L1275.0 629.8 L1278.3 632.2 L1281.5 634.7 L1284.8 637.1 L1288.0 639.7 L1291.2 642.2 L1294.4 644.8 L1297.6 647.4 L1300.7 650.1 L1303.8 652.8 L1306.9 655.5 L1310.0 658.2 L1313.0 661.0 L1316.1 663.8 L1319.1 666.6 L1322.0 669.4 L1325.0 672.3 L1327.9 675.2 L1330.8 678.2 L1333.6 681.1 L1336.4 684.1 L1339.2 687.2 L1342.0 690.2 L1344.8 693.3 L1347.5 696.4 L1350.1 699.6 L1352.8 702.7 L1355.4 705.9 L1358.0 709.2 L1360.6 712.4 L1363.1 715.7 L1365.6 719.0 L1368.0 722.3 L1370.5 725.6 L1372.9 729.0 L1375.2 732.4 L1377.5 735.8 L1379.8 739.3 L1382.1 742.8 L1384.3 746.2 L1386.5 749.8 L1388.6 753.3 L1390.7 756.9 L1392.8 760.4 L1394.9 764.0 L1396.9 767.7 L1398.8 771.3 L1400.8 775.0 L1402.7 778.6 L1404.5 782.3 L1406.3 786.1 L1408.1 789.8 L1409.9 793.6 L1411.6 797.3 L1413.2 801.1 L1414.9 804.9 L1416.5 808.7 L1418.0 812.6 L1419.5 816.4 L1421.0 820.3 L1422.4 824.2 L1423.8 828.1 L1425.2 832.0 L1426.5 835.9 L1427.8 839.8 L1429.1 843.7 L1430.3 847.7 L1431.5 851.7 L1432.6 855.6 L1433.7 859.6 L1434.7 863.6 L1435.8 867.6 L1436.7 871.6 L1437.7 875.6 L1438.6 879.7 L1439.4 883.7 L1440.3 887.7 L1441.1 891.8 L1441.8 895.8 L1442.5 899.9 L1443.2 904.0 L1443.8 908.0 L1444.4 912.1 L1445.0 916.2 L1445.5 920.3 L1446.0 924.4 L1446.5 928.4 L1446.9 932.5 L1447.3 936.6 L1447.6 940.7 L1447.9 944.8 L1448.2 948.9 L1448.4 953.0 L1448.6 957.1 L1448.8 961.2 L1448.9 965.3 L1449.0 969.4 L1449.1 973.5 L1449.1 977.6 L1449.1 981.7 L1449.0 985.8 L1448.9 989.9 L1448.8 994.0 Z" fill="url(#corneaG)" />
<path d="M1433.4 994.0 L1433.3 998.0 L1433.1 1001.9 L1433.0 1005.9 L1432.8 1009.8 L1432.5 1013.8 L1432.2 1017.7 L1431.9 1021.6 L1431.5 1025.6 L1431.1 1029.5 L1430.7 1033.4 L1430.2 1037.3 L1429.7 1041.3 L1429.1 1045.2 L1428.5 1049.1 L1427.9 1053.0 L1427.2 1056.8 L1426.5 1060.7 L1425.7 1064.6 L1424.9 1068.5 L1424.1 1072.3 L1423.3 1076.2 L1422.4 1080.0 L1421.4 1083.8 L1420.4 1087.6 L1419.4 1091.4 L1418.4 1095.2 L1417.3 1099.0 L1416.2 1102.8 L1415.1 1106.5 L1413.9 1110.3 L1412.7 1114.0 L1411.4 1117.7 L1410.1 1121.4 L1408.8 1125.1 L1407.5 1128.8 L1406.1 1132.4 L1404.7 1136.1 L1403.2 1139.7 L1401.8 1143.4 L1400.3 1147.0 L1398.7 1150.6 L1397.2 1154.1 L1395.6 1157.7 L1394.0 1161.3 L1392.3 1164.8 L1390.6 1168.3 L1388.9 1171.8 L1387.2 1175.3 L1385.5 1178.8 L1383.7 1182.2 L1381.9 1185.7 L1380.0 1189.1 L1378.1 1192.5 L1376.3 1195.9 L1374.3 1199.3 L1372.4 1202.6 L1370.4 1206.0 L1368.4 1209.3 L1366.4 1212.6 L1364.4 1215.9 L1362.3 1219.2 L1360.2 1222.5 L1358.1 1225.7 L1356.0 1229.0 L1353.9 1232.2 L1351.7 1235.4 L1349.5 1238.6 L1347.3 1241.7 L1345.0 1244.9 L1342.7 1248.0 L1340.5 1251.1 L1338.1 1254.2 L1335.8 1257.3 L1333.5 1260.4 L1331.1 1263.4 L1328.7 1266.4 L1326.3 1269.4 L1323.8 1272.4 L1321.4 1275.4 L1318.9 1278.4 L1316.4 1281.3 L1313.9 1284.2 L1311.3 1287.1 L1308.8 1290.0 L1306.2 1292.9 L1303.6 1295.7 L1300.9 1298.6 L1298.3 1301.4 L1295.6 1304.2 L1292.9 1306.9 L1290.2 1309.7 L1287.5 1312.4 L1284.7 1315.1 L1281.9 1317.8 L1279.1 1320.5 L1276.3 1323.1 L1273.5 1325.7 L1270.6 1328.3 L1267.7 1330.9 L1264.8 1333.5 L1261.9 1336.0 L1259.0 1338.5 L1256.0 1341.0 L1253.0 1343.5 L1250.0 1345.9 L1247.0 1348.3 L1243.9 1350.7 L1240.9 1353.1 L1237.8 1355.4 L1234.7 1357.7 L1231.5 1360.0 L1228.4 1362.2 L1225.2 1364.5 L1222.0 1366.7 L1218.8 1368.8 L1215.6 1371.0 L1212.3 1373.1 L1209.0 1375.2 L1205.7 1377.2 L1202.4 1379.2 L1199.1 1381.2 L1195.7 1383.2 L1192.3 1385.1 L1188.9 1387.0 L1185.5 1388.8 L1182.1 1390.7 L1178.7 1392.4 L1175.2 1394.2 L1171.7 1395.9 L1168.2 1397.6 L1164.7 1399.3 L1161.2 1400.9 L1157.6 1402.5 L1154.0 1404.0 L1150.5 1405.5 L1146.9 1407.0 L1143.2 1408.4 L1139.6 1409.8 L1136.0 1411.2 L1132.3 1412.5 L1128.6 1413.8 L1125.0 1415.0 L1121.3 1416.2 L1117.6 1417.4 L1113.8 1418.5 L1110.1 1419.6 L1106.4 1420.6 L1102.6 1421.6 L1098.9 1422.6 L1095.1 1423.5 L1091.3 1424.4 L1087.5 1425.3 L1083.7 1426.1 L1079.9 1426.8 L1076.1 1427.6 L1072.3 1428.2 L1068.5 1428.9 L1064.7 1429.5 L1060.8 1430.1 L1057.0 1430.6 L1053.1 1431.1 L1049.3 1431.5 L1045.5 1432.0 L1041.6 1432.3 L1037.8 1432.7 L1033.9 1433.0 L1030.0 1433.2 L1026.2 1433.4 L1022.3 1433.6 L1018.5 1433.8 L1014.6 1433.9 L1010.8 1434.0 L1006.9 1434.0 L1003.1 1434.0 L999.2 1434.0 L995.4 1433.9 L991.5 1433.8 L987.7 1433.6 L983.8 1433.5 L980.0 1433.3 L976.2 1433.0 L972.3 1432.7 L968.5 1432.4 L964.7 1432.1 L960.9 1431.7 L957.1 1431.3 L953.3 1430.9 L949.5 1430.4 L945.7 1429.9 L941.9 1429.4 L938.1 1428.9 L934.4 1428.3 L930.6 1427.7 L926.8 1427.0 L923.1 1426.3 L919.3 1425.7 L915.6 1424.9 L911.9 1424.2 L908.1 1423.4 L904.4 1422.6 L900.7 1421.8 L897.0 1420.9 L893.3 1420.1 L889.6 1419.1 L886.0 1418.2 L882.3 1417.3 L878.6 1416.3 L875.0 1415.3 L871.3 1414.3 L867.7 1413.2 L864.0 1412.2 L860.4 1411.1 L856.8 1410.0 L853.2 1408.8 L849.6 1407.7 L846.0 1406.5 L842.4 1405.3 L838.8 1404.1 L835.2 1402.8 L831.7 1401.6 L828.1 1400.3 L824.6 1399.0 L821.0 1397.6 L817.5 1396.3 L813.9 1394.9 L810.4 1393.5 L806.9 1392.1 L803.4 1390.6 L799.9 1389.2 L796.4 1387.7 L792.9 1386.2 L789.5 1384.6 L786.0 1383.1 L782.5 1381.5 L779.1 1379.9 L775.7 1378.3 L772.2 1376.7 L768.8 1375.0 L765.4 1373.3 L762.0 1371.6 L758.6 1369.8 L755.2 1368.1 L751.9 1366.3 L748.5 1364.5 L745.1 1362.7 L741.8 1360.8 L738.5 1358.9 L735.1 1357.0 L731.8 1355.1 L728.5 1353.1 L725.3 1351.1 L722.0 1349.1 L718.7 1347.1 L715.5 1345.0 L712.3 1342.9 L709.1 1340.8 L705.9 1338.6 L702.7 1336.5 L699.5 1334.3 L696.4 1332.0 L693.2 1329.8 L690.1 1327.5 L687.0 1325.2 L683.9 1322.8 L680.8 1320.5 L677.8 1318.1 L674.8 1315.6 L671.8 1313.2 L668.8 1310.7 L665.8 1308.2 L662.9 1305.6 L659.9 1303.1 L657.0 1300.5 L654.2 1297.8 L651.3 1295.2 L648.5 1292.5 L645.7 1289.8 L642.9 1287.0 L640.2 1284.3 L637.4 1281.5 L634.7 1278.6 L632.1 1275.8 L629.4 1272.9 L626.8 1270.0 L624.2 1267.0 L621.6 1264.0 L619.1 1261.0 L616.6 1258.0 L614.1 1255.0 L611.7 1251.9 L609.3 1248.8 L606.9 1245.6 L604.6 1242.5 L602.3 1239.3 L600.0 1236.1 L597.7 1232.9 L595.5 1229.6 L593.3 1226.3 L591.2 1223.0 L589.1 1219.7 L587.0 1216.3 L585.0 1213.0 L583.0 1209.6 L581.0 1206.2 L579.0 1202.7 L577.1 1199.3 L575.3 1195.8 L573.4 1192.3 L571.6 1188.8 L569.9 1185.2 L568.2 1181.7 L566.5 1178.1 L564.8 1174.5 L563.2 1170.9 L561.6 1167.3 L560.1 1163.6 L558.6 1160.0 L557.1 1156.3 L555.7 1152.6 L554.3 1148.9 L552.9 1145.2 L551.6 1141.5 L550.3 1137.8 L549.1 1134.0 L547.9 1130.3 L546.7 1126.5 L545.5 1122.7 L544.4 1118.9 L543.4 1115.1 L542.3 1111.3 L541.3 1107.5 L540.3 1103.6 L539.4 1099.8 L538.5 1095.9 L537.6 1092.1 L536.8 1088.2 L536.0 1084.3 L535.3 1080.5 L534.5 1076.6 L533.8 1072.7 L533.2 1068.8 L532.5 1064.9 L531.9 1061.0 L531.4 1057.1 L530.8 1053.1 L530.3 1049.2 L529.8 1045.3 L529.4 1041.4 L529.0 1037.4 L528.6 1033.5 L528.3 1029.6 L528.0 1025.6 L527.7 1021.7 L527.4 1017.7 L527.2 1013.8 L527.0 1009.8 L526.8 1005.9 L526.7 1001.9 L526.6 998.0 L526.5 994.0 L526.5 990.0 L526.5 986.1 L526.5 982.1 L526.5 978.2 L526.6 974.2 L526.7 970.2 L526.9 966.3 L527.0 962.3 L527.2 958.4 L527.5 954.4 L527.7 950.5 L528.0 946.5 L528.3 942.5 L528.7 938.6 L529.1 934.6 L529.5 930.7 L529.9 926.7 L530.4 922.8 L530.9 918.8 L531.4 914.9 L532.0 911.0 L532.6 907.0 L533.2 903.1 L533.9 899.2 L534.6 895.3 L535.3 891.3 L536.1 887.4 L536.9 883.5 L537.7 879.6 L538.6 875.7 L539.5 871.8 L540.4 868.0 L541.4 864.1 L542.4 860.2 L543.4 856.3 L544.5 852.5 L545.6 848.6 L546.7 844.8 L547.9 841.0 L549.1 837.2 L550.4 833.4 L551.7 829.6 L553.0 825.8 L554.3 822.0 L555.7 818.3 L557.2 814.5 L558.6 810.8 L560.1 807.1 L561.7 803.4 L563.3 799.7 L564.9 796.0 L566.5 792.3 L568.2 788.7 L570.0 785.1 L571.8 781.5 L573.6 777.9 L575.4 774.3 L577.3 770.8 L579.2 767.3 L581.2 763.7 L583.2 760.3 L585.2 756.8 L587.3 753.4 L589.4 749.9 L591.6 746.6 L593.8 743.2 L596.0 739.8 L598.3 736.5 L600.6 733.2 L602.9 730.0 L605.3 726.7 L607.7 723.5 L610.2 720.3 L612.7 717.2 L615.2 714.1 L617.7 711.0 L620.3 707.9 L623.0 704.9 L625.6 701.9 L628.3 698.9 L631.0 696.0 L633.8 693.0 L636.6 690.2 L639.4 687.3 L642.3 684.5 L645.1 681.7 L648.1 679.0 L651.0 676.3 L654.0 673.6 L657.0 671.0 L660.0 668.4 L663.1 665.8 L666.1 663.3 L669.3 660.8 L672.4 658.3 L675.6 655.9 L678.7 653.5 L681.9 651.1 L685.2 648.8 L688.4 646.5 L691.7 644.3 L695.0 642.1 L698.3 639.9 L701.7 637.7 L705.0 635.6 L708.4 633.6 L711.8 631.5 L715.2 629.5 L718.6 627.6 L722.1 625.6 L725.5 623.7 L729.0 621.9 L732.5 620.0 L736.0 618.2 L739.5 616.5 L743.0 614.8 L746.6 613.1 L750.1 611.4 L753.7 609.8 L757.2 608.2 L760.8 606.6 L764.4 605.1 L768.0 603.6 L771.6 602.1 L775.2 600.7 L778.9 599.2 L782.5 597.9 L786.1 596.5 L789.8 595.2 L793.4 593.9 L797.1 592.6 L800.7 591.4 L804.4 590.2 L808.1 589.0 L811.8 587.8 L815.4 586.7 L819.1 585.6 L822.8 584.5 L826.5 583.5 L830.2 582.4 L833.9 581.4 L837.6 580.4 L841.3 579.5 L845.0 578.5 L848.7 577.6 L852.4 576.7 L856.1 575.9 L859.9 575.0 L863.6 574.2 L867.3 573.4 L871.0 572.6 L874.8 571.9 L878.5 571.2 L882.2 570.4 L885.9 569.7 L889.7 569.1 L893.4 568.4 L897.2 567.8 L900.9 567.2 L904.6 566.6 L908.4 566.0 L912.1 565.5 L915.9 565.0 L919.6 564.5 L923.4 564.0 L927.1 563.5 L930.9 563.1 L934.7 562.7 L938.4 562.3 L942.2 561.9 L946.0 561.5 L949.7 561.2 L953.5 560.9 L957.3 560.6 L961.1 560.3 L964.8 560.1 L968.6 559.8 L972.4 559.6 L976.2 559.5 L980.0 559.3 L983.8 559.2 L987.6 559.1 L991.4 559.0 L995.2 558.9 L999.0 558.9 L1002.8 558.9 L1006.6 558.9 L1010.4 559.0 L1014.2 559.0 L1018.0 559.1 L1021.9 559.3 L1025.7 559.4 L1029.5 559.6 L1033.3 559.8 L1037.1 560.1 L1040.9 560.3 L1044.8 560.6 L1048.6 561.0 L1052.4 561.3 L1056.2 561.7 L1060.0 562.1 L1063.9 562.6 L1067.7 563.1 L1071.5 563.6 L1075.3 564.1 L1079.1 564.7 L1082.9 565.3 L1086.7 566.0 L1090.5 566.7 L1094.3 567.4 L1098.1 568.1 L1101.9 568.9 L1105.7 569.7 L1109.4 570.6 L1113.2 571.5 L1117.0 572.4 L1120.7 573.4 L1124.5 574.4 L1128.2 575.4 L1132.0 576.5 L1135.7 577.6 L1139.4 578.7 L1143.1 579.9 L1146.8 581.1 L1150.5 582.4 L1154.2 583.7 L1157.8 585.0 L1161.5 586.4 L1165.1 587.8 L1168.8 589.2 L1172.4 590.7 L1176.0 592.2 L1179.6 593.8 L1183.1 595.3 L1186.7 597.0 L1190.2 598.6 L1193.8 600.3 L1197.3 602.0 L1200.8 603.8 L1204.2 605.6 L1207.7 607.5 L1211.1 609.3 L1214.6 611.2 L1218.0 613.2 L1221.3 615.2 L1224.7 617.2 L1228.1 619.2 L1231.4 621.3 L1234.7 623.4 L1238.0 625.6 L1241.2 627.8 L1244.5 630.0 L1247.7 632.2 L1250.9 634.5 L1254.1 636.8 L1257.2 639.2 L1260.4 641.5 L1263.5 643.9 L1266.6 646.4 L1269.6 648.8 L1272.7 651.3 L1275.7 653.9 L1278.7 656.4 L1281.6 659.0 L1284.6 661.6 L1287.5 664.2 L1290.4 666.9 L1293.3 669.6 L1296.1 672.3 L1298.9 675.1 L1301.7 677.8 L1304.5 680.6 L1307.2 683.5 L1310.0 686.3 L1312.7 689.2 L1315.3 692.1 L1318.0 695.0 L1320.6 697.9 L1323.2 700.9 L1325.7 703.9 L1328.3 706.9 L1330.8 709.9 L1333.3 713.0 L1335.7 716.1 L1338.2 719.2 L1340.6 722.3 L1342.9 725.4 L1345.3 728.6 L1347.6 731.8 L1349.9 735.0 L1352.2 738.2 L1354.4 741.4 L1356.6 744.7 L1358.8 748.0 L1361.0 751.3 L1363.1 754.6 L1365.2 757.9 L1367.3 761.3 L1369.4 764.7 L1371.4 768.0 L1373.4 771.4 L1375.3 774.9 L1377.3 778.3 L1379.2 781.8 L1381.1 785.2 L1382.9 788.7 L1384.7 792.2 L1386.5 795.7 L1388.3 799.3 L1390.0 802.8 L1391.7 806.4 L1393.4 810.0 L1395.0 813.5 L1396.6 817.2 L1398.2 820.8 L1399.8 824.4 L1401.3 828.1 L1402.8 831.7 L1404.2 835.4 L1405.6 839.1 L1407.0 842.8 L1408.4 846.5 L1409.7 850.2 L1411.0 854.0 L1412.2 857.7 L1413.5 861.5 L1414.7 865.3 L1415.8 869.0 L1416.9 872.8 L1418.0 876.6 L1419.1 880.5 L1420.1 884.3 L1421.1 888.1 L1422.0 892.0 L1422.9 895.8 L1423.8 899.7 L1424.6 903.5 L1425.4 907.4 L1426.2 911.3 L1426.9 915.2 L1427.6 919.1 L1428.3 923.0 L1428.9 926.9 L1429.4 930.8 L1430.0 934.8 L1430.5 938.7 L1430.9 942.6 L1431.4 946.6 L1431.7 950.5 L1432.1 954.4 L1432.4 958.4 L1432.7 962.3 L1432.9 966.3 L1433.1 970.3 L1433.2 974.2 L1433.3 978.2 L1433.4 982.1 L1433.4 986.1 L1433.4 990.0 L1433.4 994.0 Z" fill="#C73E6A" />
<path d="M1300 935 L1401.7 943 L1429 945 L1545 968 Q1560 972 1562 985 Q1568 1070 1563 1160 L1413 1107 L1386.7 1097 L1300 1090 Z" fill="#EDDCDB"/>
<path d="M1403.0 994.0 L1402.9 997.7 L1402.8 1001.4 L1402.7 1005.1 L1402.5 1008.8 L1402.2 1012.4 L1402.0 1016.1 L1401.7 1019.8 L1401.3 1023.5 L1400.9 1027.1 L1400.5 1030.8 L1400.1 1034.5 L1399.6 1038.1 L1399.1 1041.8 L1398.6 1045.4 L1398.0 1049.0 L1397.4 1052.7 L1396.7 1056.3 L1396.1 1059.9 L1395.3 1063.5 L1394.6 1067.1 L1393.8 1070.7 L1393.0 1074.3 L1392.2 1077.9 L1391.3 1081.4 L1390.4 1085.0 L1389.5 1088.5 L1388.5 1092.1 L1387.5 1095.6 L1386.5 1099.1 L1385.4 1102.6 L1384.3 1106.1 L1383.2 1109.6 L1382.0 1113.1 L1380.8 1116.5 L1379.6 1120.0 L1378.4 1123.4 L1377.1 1126.9 L1375.8 1130.3 L1374.5 1133.7 L1373.1 1137.1 L1371.7 1140.5 L1370.3 1143.8 L1368.9 1147.2 L1367.4 1150.5 L1365.9 1153.9 L1364.4 1157.2 L1362.9 1160.5 L1361.3 1163.8 L1359.7 1167.0 L1358.1 1170.3 L1356.4 1173.5 L1354.7 1176.8 L1353.0 1180.0 L1351.3 1183.2 L1349.5 1186.4 L1347.8 1189.5 L1345.9 1192.7 L1344.1 1195.8 L1342.3 1199.0 L1340.4 1202.1 L1338.5 1205.2 L1336.6 1208.2 L1334.6 1211.3 L1332.6 1214.3 L1330.6 1217.4 L1328.6 1220.4 L1326.6 1223.4 L1324.5 1226.4 L1322.4 1229.3 L1320.3 1232.3 L1318.1 1235.2 L1316.0 1238.1 L1313.8 1241.0 L1311.6 1243.9 L1309.4 1246.7 L1307.1 1249.6 L1304.8 1252.4 L1302.5 1255.2 L1300.2 1258.0 L1297.9 1260.7 L1295.5 1263.5 L1293.1 1266.2 L1290.7 1268.9 L1288.3 1271.6 L1285.8 1274.2 L1283.3 1276.9 L1280.9 1279.5 L1278.3 1282.1 L1275.8 1284.7 L1273.2 1287.2 L1270.7 1289.8 L1268.1 1292.3 L1265.4 1294.8 L1262.8 1297.3 L1260.1 1299.7 L1257.4 1302.1 L1254.7 1304.5 L1252.0 1306.9 L1249.3 1309.3 L1246.5 1311.6 L1243.7 1313.9 L1240.9 1316.2 L1238.1 1318.4 L1235.2 1320.7 L1232.3 1322.9 L1229.5 1325.0 L1226.5 1327.2 L1223.6 1329.3 L1220.7 1331.4 L1217.7 1333.5 L1214.7 1335.5 L1211.7 1337.6 L1208.7 1339.5 L1205.7 1341.5 L1202.6 1343.4 L1199.6 1345.4 L1196.5 1347.2 L1193.4 1349.1 L1190.2 1350.9 L1187.1 1352.7 L1183.9 1354.5 L1180.8 1356.2 L1177.6 1357.9 L1174.4 1359.6 L1171.2 1361.2 L1167.9 1362.8 L1164.7 1364.4 L1161.4 1365.9 L1158.1 1367.5 L1154.8 1369.0 L1151.5 1370.4 L1148.2 1371.8 L1144.9 1373.2 L1141.6 1374.6 L1138.2 1375.9 L1134.8 1377.2 L1131.5 1378.5 L1128.1 1379.7 L1124.7 1380.9 L1121.3 1382.1 L1117.8 1383.3 L1114.4 1384.4 L1111.0 1385.4 L1107.5 1386.5 L1104.1 1387.5 L1100.6 1388.5 L1097.1 1389.4 L1093.7 1390.3 L1090.2 1391.2 L1086.7 1392.1 L1083.2 1392.9 L1079.7 1393.7 L1076.1 1394.5 L1072.6 1395.2 L1069.1 1395.9 L1065.6 1396.6 L1062.0 1397.2 L1058.5 1397.8 L1054.9 1398.4 L1051.4 1398.9 L1047.8 1399.4 L1044.3 1399.9 L1040.7 1400.4 L1037.2 1400.8 L1033.6 1401.2 L1030.0 1401.5 L1026.5 1401.9 L1022.9 1402.2 L1019.3 1402.4 L1015.8 1402.7 L1012.2 1402.9 L1008.6 1403.1 L1005.0 1403.2 L1001.5 1403.4 L997.9 1403.5 L994.3 1403.6 L990.7 1403.6 L987.1 1403.6 L983.6 1403.6 L980.0 1403.6 L976.4 1403.5 L972.9 1403.4 L969.3 1403.3 L965.7 1403.2 L962.1 1403.0 L958.6 1402.8 L955.0 1402.6 L951.4 1402.3 L947.9 1402.0 L944.3 1401.7 L940.8 1401.4 L937.2 1401.1 L933.7 1400.7 L930.1 1400.3 L926.6 1399.8 L923.0 1399.4 L919.5 1398.9 L916.0 1398.4 L912.4 1397.9 L908.9 1397.3 L905.4 1396.7 L901.8 1396.1 L898.3 1395.5 L894.8 1394.8 L891.3 1394.1 L887.8 1393.4 L884.3 1392.6 L880.8 1391.9 L877.3 1391.1 L873.8 1390.3 L870.3 1389.4 L866.9 1388.5 L863.4 1387.6 L859.9 1386.7 L856.5 1385.8 L853.0 1384.8 L849.6 1383.8 L846.1 1382.7 L842.7 1381.7 L839.3 1380.6 L835.9 1379.5 L832.5 1378.3 L829.1 1377.1 L825.7 1375.9 L822.3 1374.7 L818.9 1373.4 L815.6 1372.1 L812.2 1370.8 L808.9 1369.5 L805.6 1368.1 L802.2 1366.7 L798.9 1365.3 L795.6 1363.8 L792.3 1362.3 L789.1 1360.8 L785.8 1359.2 L782.6 1357.6 L779.3 1356.0 L776.1 1354.3 L772.9 1352.7 L769.7 1350.9 L766.6 1349.2 L763.4 1347.4 L760.3 1345.6 L757.2 1343.8 L754.1 1341.9 L751.0 1340.0 L747.9 1338.1 L744.9 1336.1 L741.9 1334.1 L738.9 1332.1 L735.9 1330.0 L732.9 1327.9 L730.0 1325.8 L727.1 1323.6 L724.2 1321.5 L721.3 1319.2 L718.4 1317.0 L715.6 1314.7 L712.8 1312.4 L710.1 1310.1 L707.3 1307.7 L704.6 1305.3 L701.9 1302.8 L699.3 1300.4 L696.6 1297.9 L694.0 1295.4 L691.4 1292.8 L688.9 1290.2 L686.4 1287.6 L683.9 1285.0 L681.4 1282.3 L679.0 1279.6 L676.6 1276.9 L674.2 1274.2 L671.9 1271.4 L669.6 1268.6 L667.3 1265.8 L665.1 1262.9 L662.9 1260.1 L660.7 1257.2 L658.6 1254.3 L656.5 1251.3 L654.4 1248.4 L652.4 1245.4 L650.4 1242.4 L648.5 1239.3 L646.5 1236.3 L644.6 1233.2 L642.8 1230.1 L640.9 1227.0 L639.2 1223.9 L637.4 1220.8 L635.7 1217.6 L634.0 1214.4 L632.4 1211.2 L630.7 1208.0 L629.2 1204.8 L627.6 1201.6 L626.1 1198.3 L624.6 1195.1 L623.2 1191.8 L621.8 1188.5 L620.4 1185.2 L619.0 1181.9 L617.7 1178.6 L616.5 1175.3 L615.2 1171.9 L614.0 1168.6 L612.8 1165.2 L611.7 1161.9 L610.5 1158.5 L609.4 1155.1 L608.4 1151.7 L607.4 1148.4 L606.4 1145.0 L605.4 1141.6 L604.4 1138.2 L603.5 1134.8 L602.6 1131.3 L601.8 1127.9 L601.0 1124.5 L600.2 1121.1 L599.4 1117.7 L598.6 1114.2 L597.9 1110.8 L597.2 1107.4 L596.5 1104.0 L595.9 1100.5 L595.2 1097.1 L594.6 1093.7 L594.0 1090.2 L593.5 1086.8 L592.9 1083.4 L592.4 1079.9 L591.9 1076.5 L591.4 1073.1 L591.0 1069.6 L590.5 1066.2 L590.1 1062.7 L589.7 1059.3 L589.3 1055.9 L589.0 1052.4 L588.6 1049.0 L588.3 1045.6 L588.0 1042.1 L587.7 1038.7 L587.4 1035.3 L587.2 1031.8 L586.9 1028.4 L586.7 1025.0 L586.5 1021.5 L586.3 1018.1 L586.1 1014.6 L586.0 1011.2 L585.8 1007.8 L585.7 1004.3 L585.6 1000.9 L585.5 997.4 L585.4 994.0 L585.4 990.6 L585.3 987.1 L585.3 983.7 L585.3 980.2 L585.3 976.8 L585.3 973.3 L585.3 969.9 L585.4 966.4 L585.5 962.9 L585.5 959.5 L585.6 956.0 L585.8 952.6 L585.9 949.1 L586.1 945.6 L586.3 942.2 L586.5 938.7 L586.7 935.2 L586.9 931.7 L587.2 928.3 L587.5 924.8 L587.8 921.3 L588.1 917.8 L588.5 914.3 L588.8 910.9 L589.2 907.4 L589.6 903.9 L590.1 900.4 L590.5 896.9 L591.0 893.4 L591.6 889.9 L592.1 886.4 L592.7 882.9 L593.3 879.4 L593.9 876.0 L594.5 872.5 L595.2 869.0 L595.9 865.5 L596.7 862.0 L597.5 858.5 L598.3 855.1 L599.1 851.6 L599.9 848.1 L600.8 844.6 L601.8 841.2 L602.7 837.7 L603.7 834.3 L604.8 830.8 L605.8 827.4 L606.9 824.0 L608.0 820.6 L609.2 817.1 L610.4 813.7 L611.6 810.3 L612.9 807.0 L614.2 803.6 L615.6 800.2 L616.9 796.9 L618.4 793.5 L619.8 790.2 L621.3 786.9 L622.8 783.6 L624.4 780.3 L626.0 777.1 L627.6 773.8 L629.3 770.6 L631.0 767.4 L632.8 764.2 L634.6 761.0 L636.4 757.9 L638.3 754.7 L640.2 751.6 L642.1 748.5 L644.1 745.5 L646.1 742.4 L648.2 739.4 L650.3 736.4 L652.4 733.4 L654.6 730.5 L656.8 727.5 L659.0 724.6 L661.3 721.8 L663.6 718.9 L665.9 716.1 L668.3 713.3 L670.7 710.6 L673.1 707.8 L675.6 705.1 L678.1 702.4 L680.6 699.8 L683.2 697.2 L685.8 694.6 L688.4 692.1 L691.1 689.5 L693.8 687.1 L696.5 684.6 L699.2 682.2 L702.0 679.8 L704.8 677.4 L707.6 675.1 L710.5 672.8 L713.4 670.5 L716.3 668.3 L719.2 666.1 L722.1 664.0 L725.1 661.8 L728.1 659.7 L731.1 657.7 L734.2 655.6 L737.2 653.7 L740.3 651.7 L743.4 649.8 L746.5 647.9 L749.7 646.0 L752.8 644.2 L756.0 642.4 L759.2 640.6 L762.4 638.9 L765.6 637.2 L768.9 635.5 L772.1 633.9 L775.4 632.3 L778.6 630.7 L781.9 629.2 L785.2 627.7 L788.6 626.2 L791.9 624.8 L795.2 623.4 L798.6 622.0 L801.9 620.6 L805.3 619.3 L808.7 618.0 L812.0 616.8 L815.4 615.5 L818.8 614.3 L822.3 613.2 L825.7 612.0 L829.1 610.9 L832.5 609.8 L836.0 608.7 L839.4 607.7 L842.8 606.7 L846.3 605.7 L849.8 604.8 L853.2 603.8 L856.7 602.9 L860.2 602.0 L863.6 601.2 L867.1 600.4 L870.6 599.6 L874.1 598.8 L877.6 598.0 L881.1 597.3 L884.6 596.6 L888.1 595.9 L891.6 595.3 L895.1 594.6 L898.6 594.0 L902.1 593.5 L905.7 592.9 L909.2 592.4 L912.7 591.9 L916.2 591.4 L919.8 590.9 L923.3 590.5 L926.8 590.0 L930.4 589.6 L933.9 589.3 L937.4 588.9 L941.0 588.6 L944.5 588.3 L948.0 588.0 L951.6 587.8 L955.1 587.5 L958.7 587.3 L962.2 587.1 L965.8 587.0 L969.3 586.8 L972.9 586.7 L976.4 586.6 L980.0 586.6 L983.6 586.5 L987.1 586.5 L990.7 586.5 L994.2 586.5 L997.8 586.6 L1001.3 586.7 L1004.9 586.8 L1008.5 586.9 L1012.0 587.1 L1015.6 587.3 L1019.1 587.5 L1022.7 587.7 L1026.3 588.0 L1029.8 588.3 L1033.4 588.6 L1036.9 588.9 L1040.5 589.3 L1044.0 589.7 L1047.6 590.2 L1051.1 590.6 L1054.7 591.1 L1058.2 591.6 L1061.8 592.2 L1065.3 592.7 L1068.8 593.3 L1072.4 594.0 L1075.9 594.6 L1079.4 595.3 L1082.9 596.0 L1086.4 596.8 L1089.9 597.5 L1093.5 598.4 L1096.9 599.2 L1100.4 600.1 L1103.9 601.0 L1107.4 601.9 L1110.9 602.9 L1114.3 603.8 L1117.8 604.9 L1121.2 605.9 L1124.7 607.0 L1128.1 608.1 L1131.5 609.3 L1135.0 610.5 L1138.4 611.7 L1141.8 612.9 L1145.2 614.2 L1148.5 615.5 L1151.9 616.8 L1155.2 618.2 L1158.6 619.6 L1161.9 621.0 L1165.2 622.5 L1168.5 624.0 L1171.8 625.5 L1175.1 627.0 L1178.4 628.6 L1181.6 630.2 L1184.9 631.9 L1188.1 633.6 L1191.3 635.3 L1194.5 637.0 L1197.7 638.8 L1200.8 640.6 L1204.0 642.4 L1207.1 644.3 L1210.2 646.2 L1213.3 648.1 L1216.4 650.0 L1219.5 652.0 L1222.5 654.0 L1225.5 656.1 L1228.5 658.1 L1231.5 660.2 L1234.5 662.3 L1237.5 664.5 L1240.4 666.6 L1243.3 668.9 L1246.2 671.1 L1249.1 673.3 L1251.9 675.6 L1254.8 677.9 L1257.6 680.3 L1260.4 682.6 L1263.1 685.0 L1265.9 687.4 L1268.6 689.9 L1271.3 692.3 L1274.0 694.8 L1276.7 697.3 L1279.3 699.9 L1281.9 702.4 L1284.5 705.0 L1287.1 707.6 L1289.6 710.3 L1292.2 712.9 L1294.7 715.6 L1297.1 718.3 L1299.6 721.0 L1302.0 723.8 L1304.4 726.5 L1306.8 729.3 L1309.2 732.2 L1311.5 735.0 L1313.8 737.8 L1316.1 740.7 L1318.4 743.6 L1320.6 746.5 L1322.8 749.5 L1325.0 752.4 L1327.2 755.4 L1329.3 758.4 L1331.4 761.4 L1333.5 764.4 L1335.5 767.5 L1337.6 770.6 L1339.6 773.7 L1341.5 776.8 L1343.5 779.9 L1345.4 783.0 L1347.3 786.2 L1349.2 789.4 L1351.0 792.6 L1352.8 795.8 L1354.6 799.0 L1356.3 802.3 L1358.0 805.5 L1359.7 808.8 L1361.4 812.1 L1363.0 815.4 L1364.6 818.7 L1366.2 822.0 L1367.8 825.4 L1369.3 828.8 L1370.7 832.1 L1372.2 835.5 L1373.6 838.9 L1375.0 842.4 L1376.4 845.8 L1377.7 849.3 L1379.0 852.7 L1380.3 856.2 L1381.5 859.7 L1382.7 863.2 L1383.9 866.7 L1385.0 870.2 L1386.1 873.7 L1387.2 877.2 L1388.2 880.8 L1389.2 884.4 L1390.2 887.9 L1391.1 891.5 L1392.0 895.1 L1392.9 898.7 L1393.7 902.3 L1394.5 905.9 L1395.3 909.5 L1396.0 913.1 L1396.7 916.8 L1397.3 920.4 L1398.0 924.1 L1398.5 927.7 L1399.1 931.4 L1399.6 935.0 L1400.1 938.7 L1400.5 942.4 L1400.9 946.0 L1401.3 949.7 L1401.7 953.4 L1402.0 957.1 L1402.2 960.8 L1402.5 964.5 L1402.7 968.1 L1402.8 971.8 L1402.9 975.5 L1403.0 979.2 L1403.1 982.9 L1403.1 986.6 L1403.1 990.3 L1403.0 994.0 Z" fill="#EA91A9" />
<path d="M884.0 596.7 L890.0 595.6 L896.1 594.5 L902.1 593.5 L908.2 592.5 L914.3 591.6 L920.4 590.8 L926.5 590.1 L932.6 589.4 L938.7 588.8 L944.8 588.3 L950.9 587.8 L957.0 587.4 L963.1 587.1 L969.3 586.8 L975.4 586.6 L981.5 586.5 L987.7 586.5 L993.8 586.5 L1000.0 586.7 L1006.1 586.8 L1012.2 587.1 L1018.4 587.4 L1024.5 587.9 L1030.7 588.4 L1036.8 588.9 L1042.9 589.6 L1049.1 590.3 L1055.2 591.2 L1061.3 592.1 L1067.4 593.1 L1073.5 594.2 L1079.6 595.3 L1085.6 596.6 L1091.7 597.9 L1097.7 599.4 L1103.7 600.9 L1109.7 602.5 L1115.7 604.2 L1121.7 606.1 L1127.6 608.0 L1133.5 609.9 L1139.4 612.0 L1145.2 614.2 L1151.1 616.5 L1156.8 618.9 L1162.6 621.3 L1168.3 623.9 L1174.0 626.5 L1179.6 629.2 L1185.2 632.1 L1190.8 635.0 L1196.3 638.0 L1201.7 641.1 L1207.1 644.3 L1212.5 647.6 L1217.8 650.9 L1223.1 654.4 L1228.3 657.9 L1233.4 661.6 L1238.5 665.3 L1243.6 669.1 L1248.5 672.9 L1253.5 676.9 L1258.3 680.9 L1263.1 685.0 L1267.8 689.2 L1272.5 693.4 L1277.1 697.8 L1281.6 702.2 L1286.1 706.6 L1290.5 711.2 L1294.9 715.8 L1299.1 720.5 L1303.3 725.2 L1307.4 730.0 L1311.5 734.9 L1315.4 739.9 L1319.3 744.9 L1323.2 749.9 L1326.9 755.0 L1330.6 760.2 L1334.2 765.5 L1337.7 770.7 L1341.1 776.1 L1344.5 781.5 L1347.7 786.9 L1350.9 792.4 L1354.0 798.0 L1357.0 803.6 L1360.0 809.2 L1362.8 814.9 L1365.6 820.7 L1368.2 826.5 L1370.8 832.3 L1373.3 838.2 L1375.7 844.1 L1378.0 850.0 L1380.2 856.0 L1382.3 862.0 L1384.3 868.1 L1386.2 874.1 L1388.0 880.3 L1389.7 886.4 L1391.4 892.6 L1392.9 898.8 L1394.3 905.0 L1395.6 911.2 L1396.8 917.5 L1397.9 923.8 L1398.9 930.1 L1399.8 936.4 L1400.6 942.7 L1401.3 949.1 L1401.8 955.4 L1402.3 961.8 L1402.7 968.2 L1402.9 974.5 L1403.1 980.9 L1403.1 987.3 L1403.0 993.7 L1402.9 1000.0 L1402.6 1006.4 L1402.2 1012.8 L1401.7 1019.1 L1401.1 1025.4 L1400.4 1031.8 L1399.6 1038.1 L1398.7 1044.4 L1397.7 1050.6 L1396.6 1056.9 L1395.4 1063.1 L1394.1 1069.3 L1392.7 1075.5 L1391.2 1081.7 L1389.6 1087.8 L1388.0 1093.9 L1386.2 1100.0 L1384.3 1106.0 L1382.4 1112.0 L1380.3 1118.0 L1378.2 1124.0 L1376.0 1129.9 L1373.7 1135.7 L1371.3 1141.6 L1368.8 1147.4 L1366.3 1153.1 L1363.6 1158.8 L1360.9 1164.5 L1358.1 1170.2 L1355.3 1175.7 L1352.3 1181.3 L1349.3 1186.8 L1346.2 1192.3 L1343.0 1197.7 L1339.8 1203.0 L1336.5 1208.4 L1333.1 1213.6 L1329.6 1218.8 L1326.1 1224.0 L1322.5 1229.1 L1318.9 1234.2 L1315.1 1239.2 L1311.3 1244.2 L1307.5 1249.1 L1303.5 1254.0 L1299.5 1258.8 L1295.5 1263.5 L1291.3 1268.2 L1287.1 1272.8 L1282.9 1277.4 L1278.5 1281.9 L1274.1 1286.3 L1269.7 1290.7 L1265.2 1295.0 L1260.6 1299.3 L1255.9 1303.5 L1251.2 1307.6 L1246.5 1311.6 L1241.6 1315.6 L1236.8 1319.4 L1231.8 1323.3 L1226.8 1327.0 L1221.8 1330.6 L1216.6 1334.2 L1211.5 1337.7 L1206.3 1341.1 L1201.0 1344.5 L1195.7 1347.7 L1190.3 1350.9 L1184.8 1354.0 L1179.4 1356.9 L1173.8 1359.8 L1168.3 1362.6 L1162.7 1365.4 L1157.0 1368.0 L1151.3 1370.5 L1145.6 1372.9 L1139.8 1375.3 L1134.0 1377.5 L1128.2 1379.7 L1122.3 1381.8 L1116.4 1383.7 L1110.5 1385.6 L1104.5 1387.4 L1098.5 1389.1 L1092.5 1390.6 L1086.5 1392.1 L1080.4 1393.5 L1074.4 1394.8 L1068.3 1396.0 L1062.2 1397.2 L1056.1 1398.2 L1050.0 1399.1 L1043.8 1400.0 L1037.7 1400.7 L1031.5 1401.4 L1025.4 1402.0 L1019.2 1402.4 L1013.0 1402.9 L1006.9 1403.2 L1000.7 1403.4 L994.5 1403.6 L988.4 1403.6 L982.2 1403.6 L976.0 1403.5 L969.9 1403.3 L963.7 1403.1 L957.5 1402.7 L951.4 1402.3 L945.2 1401.8 L939.1 1401.3 L933.0 1400.6 L926.9 1399.9 L920.7 1399.1 L914.6 1398.2 L908.5 1397.2 L902.5 1396.2 L896.4 1395.1 L890.3 1393.9 L884.3 1392.6 L883.8 1367.5 L889.7 1368.8 L895.5 1370.1 L901.4 1371.3 L907.3 1372.5 L913.2 1373.5 L919.1 1374.4 L925.1 1375.3 L931.0 1376.0 L937.0 1376.7 L943.0 1377.3 L949.0 1377.8 L954.9 1378.2 L960.9 1378.6 L966.9 1378.8 L972.9 1378.9 L979.0 1379.0 L985.0 1379.0 L991.0 1378.9 L997.0 1378.6 L1003.0 1378.4 L1009.0 1378.0 L1014.9 1377.5 L1020.9 1376.9 L1026.9 1376.3 L1032.8 1375.6 L1038.8 1374.7 L1044.7 1373.8 L1050.6 1372.8 L1056.5 1371.7 L1062.4 1370.6 L1068.3 1369.3 L1074.1 1368.0 L1080.0 1366.5 L1085.8 1365.0 L1091.5 1363.4 L1097.3 1361.7 L1103.0 1359.9 L1108.7 1358.1 L1114.4 1356.2 L1120.0 1354.1 L1125.6 1352.0 L1131.2 1349.8 L1136.7 1347.6 L1142.2 1345.2 L1147.7 1342.8 L1153.1 1340.3 L1158.5 1337.7 L1163.9 1335.0 L1169.2 1332.2 L1174.4 1329.4 L1179.6 1326.5 L1184.8 1323.5 L1189.9 1320.5 L1195.0 1317.3 L1200.0 1314.1 L1205.0 1310.9 L1209.9 1307.5 L1214.8 1304.1 L1219.6 1300.6 L1224.4 1297.0 L1229.1 1293.4 L1233.7 1289.7 L1238.3 1285.9 L1242.8 1282.0 L1247.3 1278.1 L1251.7 1274.2 L1256.1 1270.1 L1260.3 1266.0 L1264.6 1261.8 L1268.7 1257.6 L1272.8 1253.3 L1276.8 1249.0 L1280.8 1244.6 L1284.7 1240.1 L1288.5 1235.6 L1292.2 1231.0 L1295.9 1226.4 L1299.5 1221.7 L1303.0 1217.0 L1306.5 1212.2 L1309.9 1207.3 L1313.2 1202.4 L1316.4 1197.5 L1319.6 1192.5 L1322.6 1187.5 L1325.6 1182.4 L1328.5 1177.3 L1331.4 1172.1 L1334.1 1166.9 L1336.8 1161.7 L1339.4 1156.4 L1341.9 1151.1 L1344.3 1145.7 L1346.7 1140.3 L1348.9 1134.9 L1351.1 1129.5 L1353.2 1124.0 L1355.2 1118.4 L1357.1 1112.9 L1359.0 1107.3 L1360.7 1101.7 L1362.4 1096.1 L1363.9 1090.4 L1365.4 1084.8 L1366.8 1079.1 L1368.1 1073.4 L1369.3 1067.6 L1370.5 1061.9 L1371.5 1056.1 L1372.5 1050.3 L1373.3 1044.5 L1374.1 1038.7 L1374.8 1032.9 L1375.4 1027.1 L1375.9 1021.2 L1376.3 1015.4 L1376.6 1009.6 L1376.8 1003.7 L1377.0 997.9 L1377.0 992.0 L1377.0 986.1 L1376.8 980.3 L1376.6 974.4 L1376.3 968.6 L1375.9 962.8 L1375.4 956.9 L1374.8 951.1 L1374.1 945.3 L1373.3 939.5 L1372.5 933.7 L1371.5 927.9 L1370.5 922.1 L1369.3 916.4 L1368.1 910.6 L1366.8 904.9 L1365.4 899.2 L1363.9 893.6 L1362.4 887.9 L1360.7 882.3 L1359.0 876.7 L1357.1 871.1 L1355.2 865.6 L1353.2 860.0 L1351.1 854.5 L1348.9 849.1 L1346.7 843.7 L1344.3 838.3 L1341.9 832.9 L1339.4 827.6 L1336.8 822.3 L1334.1 817.1 L1331.4 811.9 L1328.5 806.7 L1325.6 801.6 L1322.6 796.5 L1319.6 791.5 L1316.4 786.5 L1313.2 781.6 L1309.9 776.7 L1306.5 771.8 L1303.0 767.0 L1299.5 762.3 L1295.9 757.6 L1292.2 753.0 L1288.5 748.4 L1284.7 743.9 L1280.8 739.4 L1276.8 735.0 L1272.8 730.7 L1268.7 726.4 L1264.6 722.2 L1260.3 718.0 L1256.1 713.9 L1251.7 709.8 L1247.3 705.9 L1242.8 702.0 L1238.3 698.1 L1233.7 694.3 L1229.1 690.6 L1224.4 687.0 L1219.6 683.4 L1214.8 679.9 L1209.9 676.5 L1205.0 673.1 L1200.0 669.9 L1195.0 666.7 L1189.9 663.5 L1184.8 660.5 L1179.6 657.5 L1174.4 654.6 L1169.2 651.8 L1163.9 649.0 L1158.5 646.3 L1153.1 643.7 L1147.7 641.2 L1142.2 638.8 L1136.7 636.4 L1131.2 634.2 L1125.6 632.0 L1120.0 629.9 L1114.4 627.8 L1108.7 625.9 L1103.0 624.1 L1097.3 622.3 L1091.5 620.6 L1085.8 619.0 L1080.0 617.5 L1074.1 616.0 L1068.3 614.7 L1062.4 613.4 L1056.5 612.3 L1050.6 611.2 L1044.7 610.2 L1038.8 609.3 L1032.8 608.4 L1026.9 607.7 L1020.9 607.1 L1014.9 606.5 L1009.0 606.0 L1003.0 605.6 L997.0 605.4 L991.0 605.1 L985.0 605.0 L979.0 605.0 L972.9 605.1 L966.9 605.2 L960.9 605.4 L954.9 605.8 L949.0 606.2 L943.0 606.7 L937.0 607.3 L931.0 608.0 L925.1 608.7 L919.1 609.6 L913.2 610.5 L907.3 611.5 L901.4 612.7 L895.5 613.9 L889.7 615.2 L883.8 616.5 Z" fill="#EDDCDB"/>
<circle cx="883.9" cy="606.6" r="9.9" fill="#EDDCDB"/>
<circle cx="884.1" cy="1380.1" r="12.6" fill="#EDDCDB"/>
<path d="M1392 941 L1401.7 943 L1429 945 L1545 968 Q1560 972 1562 985 Q1568 1070 1563 1160 L1413 1107 L1392 1099 Z" fill="#EDDCDB"/>
<ellipse cx="980" cy="992" rx="392" ry="382" transform="rotate(0.00 980 992)" fill="url(#vitG)" />
<g clip-path="url(#clipChi)"><path d="M600 480 L642.8 593.2 A493 493 0 0 1 642.8 1400.8 L600 1510 Z" fill="#D87090"/></g>
<g clip-path="url(#clipCho)"><path d="M737 585 L731 627 L724 716 L719 750 L713 770 L708 777 L705 790 L700 839 L706 1143 L710 1189 L714 1216 L719 1225 L724 1272 L726 1314 L723 1350 L740 1410 L800 1450 L800 560 Z" fill="url(#shadR)"/></g>
<g clip-path="url(#clipScl)"><path d="M737 560 L737 585 L731 627 L724 716 L719 750 L713 770 L708 777 L705 790 L700 839 L706 1143 L710 1189 L714 1216 L719 1225 L724 1272 L726 1314 L723 1350 L740 1410 L745 1440 L800 1440 L800 560 Z" fill="url(#shadS)" mask="url(#mBand)"/></g>
<g clip-path="url(#clipLeft)" mask="url(#mNoIris)"><circle cx="766" cy="993" r="314.6" fill="url(#acG)"/></g>
<g clip-path="url(#clipIris)"><g clip-path="url(#clipCho)"><path d="M600 560 L737 585 L731 627 L724 716 L719 750 L713 770 L708 777 L705 790 L700 839 L706 1143 L710 1189 L714 1216 L719 1225 L724 1272 L726 1314 L723 1350 L740 1410 L600 1420 Z" fill="url(#ciliG)"/></g></g>
<g clip-path="url(#clipIris)"><g clip-path="url(#clipIrisTop)"><path d="M400 690 L616 690 L614 740 L608.6 860 L596 990 L614.6 1135 L620 1290 L400 1290 Z" fill="#8A5545"/></g></g>
<g clip-path="url(#clipIrisR)"><g clip-path="url(#clipIris)"><g clip-path="url(#clipIrisTop)" fill="url(#spG2)"><path d="M592.9 746.0 L654.2 798.6 L666.2 780.1 Z"/><path d="M583.9 761.0 L647.2 811.2 L658.4 792.2 Z"/><path d="M574.7 777.7 L640.0 825.2 L650.4 805.8 Z"/><path d="M566.6 794.0 L633.8 838.8 L643.4 819.0 Z"/><path d="M558.1 813.0 L627.3 854.7 L635.9 834.5 Z"/><path d="M550.2 833.0 L621.3 871.3 L629.0 850.7 Z"/><path d="M543.5 852.7 L616.3 887.7 L623.0 866.8 Z"/><path d="M536.9 875.6 L611.4 906.8 L617.0 885.5 Z"/><path d="M531.8 897.5 L607.7 924.9 L612.3 903.4 Z"/><path d="M527.7 919.5 L604.9 943.2 L608.5 921.4 Z"/><path d="M524.7 942.5 L603.0 962.2 L605.4 940.3 Z"/><path d="M522.7 966.2 L602.0 981.8 L603.2 959.8 Z"/><path d="M522.0 989.6 L601.9 1001.0 L602.1 979.0 Z"/><path d="M522.5 1013.3 L602.9 1020.5 L601.9 998.6 Z"/><path d="M524.2 1036.7 L604.9 1039.8 L602.7 1017.9 Z"/><path d="M527.0 1060.0 L607.8 1058.9 L604.5 1037.1 Z"/><path d="M531.1 1083.0 L611.6 1077.7 L607.2 1056.2 Z"/><path d="M536.0 1105.0 L616.2 1095.7 L610.8 1074.4 Z"/><path d="M542.2 1127.0 L621.8 1113.7 L615.3 1092.7 Z"/><path d="M549.0 1147.5 L627.9 1130.4 L620.3 1109.7 Z"/><path d="M556.4 1167.0 L634.5 1146.3 L626.0 1126.0 Z"/><path d="M564.7 1186.0 L641.7 1161.7 L632.3 1141.9 Z"/><path d="M573.0 1203.0 L648.9 1175.6 L638.7 1156.1 Z"/><path d="M581.6 1219.0 L656.4 1188.5 L645.4 1169.5 Z"/><path d="M590.5 1234.0 L664.0 1200.7 L652.3 1182.1 Z"/><path d="M599.1 1247.5 L671.4 1211.6 L659.1 1193.4 Z"/></g></g></g>
<path d="M634.5 792 L647.6 790.3 L645.4 829.7 L629.8 837 Z" fill="#E38AA6" opacity="0.45"/>
<path d="M667.7 783.8 L680.8 781.6 L678.6 827.5 L665.5 826 Z" fill="#E88FAA" opacity="0.7"/>
<path d="M638.5 1154.8 L652 1159 L654 1202.7 L641.7 1201.7 Z" fill="#E38AA6" opacity="0.45"/>
<path d="M673 1159 L687.5 1154.8 L687.5 1212 L677 1210 Z" fill="#E88FAA" opacity="0.7"/>
<g clip-path="url(#clipChi)"><ellipse cx="675" cy="993" rx="106" ry="176" fill="#3A1A28" opacity="0.62" filter="url(#blur14)"/></g>
<ellipse cx="665" cy="993" rx="88" ry="166" transform="rotate(0.00 665 993)" fill="url(#lensG)" />
<g clip-path="url(#clipLens)"><ellipse cx="697" cy="993" rx="88" ry="180" fill="#F0F1F0" filter="url(#blur5)"/></g>
<path d="M1338 829 L1354 863 L1379 892 L1374 932 L1377 990 L1360 990 L1340 870 Z" fill="#EA91A9"/>
<g fill="#3F74D9"><path d="M960.0 661.7 L961.6 662.2 L963.7 662.8 L966.1 663.5 L968.8 664.2 L971.7 665.0 L974.9 665.8 L978.2 666.5 L981.6 667.2 L985.1 667.8 L988.6 668.2 L992.1 668.4 L995.5 668.4 L998.9 668.2 L1002.4 667.8 L1006.1 667.3 L1009.8 666.7 L1013.5 666.0 L1017.3 665.2 L1021.1 664.2 L1024.7 663.2 L1028.3 662.1 L1031.7 660.9 L1035.0 659.6 L1038.0 658.3 L1041.0 656.9 L1043.9 655.2 L1046.8 653.4 L1049.5 651.5 L1052.2 649.5 L1054.7 647.5 L1057.0 645.5 L1059.2 643.7 L1061.1 642.0 L1062.9 640.5 L1064.4 639.2 L1065.6 638.3 L1062.8 634.7 L1061.5 635.7 L1059.9 637.0 L1058.1 638.5 L1056.2 640.2 L1054.1 642.0 L1051.8 643.9 L1049.4 645.9 L1046.8 647.8 L1044.2 649.6 L1041.6 651.3 L1038.9 652.8 L1036.1 654.2 L1033.3 655.4 L1030.1 656.6 L1026.8 657.7 L1023.4 658.8 L1019.8 659.8 L1016.2 660.9 L1012.6 661.8 L1009.0 662.7 L1005.4 663.5 L1001.9 664.1 L998.5 664.6 L995.3 665.0 L992.1 665.1 L988.8 665.1 L985.4 664.9 L982.0 664.6 L978.6 664.1 L975.3 663.6 L972.1 663.1 L969.1 662.5 L966.4 662.0 L963.9 661.6 L961.8 661.3 L960.0 661.3 Z"/><path d="M866.3 715.8 L869.2 715.2 L872.8 714.1 L877.0 712.8 L881.8 711.2 L886.9 709.6 L892.3 707.8 L897.8 706.1 L903.3 704.5 L908.7 703.0 L913.8 701.7 L918.6 700.8 L922.8 700.2 L926.6 700.0 L930.4 699.9 L934.0 700.1 L937.6 700.5 L941.0 701.1 L944.4 701.7 L947.6 702.5 L950.9 703.4 L954.0 704.3 L957.2 705.2 L960.3 706.1 L963.3 707.0 L966.3 707.9 L969.1 708.8 L971.8 709.9 L974.5 711.0 L977.1 712.2 L979.7 713.5 L982.2 714.8 L984.6 716.1 L987.0 717.4 L989.4 718.7 L991.7 720.0 L994.0 721.3 L996.2 722.6 L998.4 723.9 L1000.7 725.4 L1002.9 726.9 L1005.0 728.4 L1007.1 729.8 L1009.1 731.3 L1011.0 732.6 L1012.7 733.9 L1014.2 735.0 L1015.6 736.0 L1016.7 736.8 L1020.0 732.0 L1018.9 731.2 L1017.7 730.3 L1016.1 729.2 L1014.4 727.9 L1012.5 726.6 L1010.5 725.1 L1008.4 723.6 L1006.2 722.0 L1003.9 720.5 L1001.5 719.0 L999.2 717.6 L996.9 716.2 L994.6 714.9 L992.2 713.6 L989.8 712.3 L987.4 710.9 L984.9 709.6 L982.3 708.3 L979.6 707.0 L976.8 705.7 L974.0 704.5 L971.1 703.4 L968.1 702.3 L965.0 701.4 L961.9 700.5 L958.8 699.6 L955.6 698.6 L952.3 697.8 L948.9 697.0 L945.4 696.3 L941.8 695.7 L938.1 695.3 L934.3 695.1 L930.4 695.0 L926.4 695.2 L922.2 695.6 L917.7 696.4 L912.8 697.6 L907.6 699.2 L902.2 700.9 L896.7 702.9 L891.3 704.9 L886.0 707.0 L881.0 709.1 L876.4 711.0 L872.3 712.7 L868.8 714.2 L866.2 715.4 Z"/><path d="M906.0 734.5 L907.2 733.6 L908.7 732.4 L910.4 730.8 L912.4 729.1 L914.5 727.2 L916.6 725.2 L918.8 723.1 L920.9 721.0 L922.8 719.0 L924.5 717.0 L926.0 715.1 L927.1 713.3 L927.9 711.6 L928.4 710.0 L928.7 708.4 L928.8 706.9 L928.7 705.4 L928.5 704.1 L928.3 702.8 L928.0 701.7 L927.7 700.8 L927.5 699.9 L927.3 699.3 L927.3 698.8 L924.0 699.1 L924.0 699.9 L924.2 700.7 L924.5 701.6 L924.7 702.6 L925.0 703.6 L925.2 704.6 L925.4 705.7 L925.4 706.9 L925.4 708.0 L925.2 709.2 L924.8 710.4 L924.2 711.7 L923.2 713.1 L921.9 714.9 L920.4 716.8 L918.6 719.0 L916.8 721.2 L914.8 723.4 L912.9 725.6 L911.0 727.7 L909.3 729.7 L907.7 731.4 L906.5 733.0 L905.7 734.2 Z"/><path d="M910.1 801.2 L912.9 799.6 L916.2 797.5 L920.2 794.9 L924.6 792.1 L929.3 788.9 L934.3 785.6 L939.6 782.1 L944.9 778.7 L950.2 775.3 L955.4 772.0 L960.4 768.9 L965.1 766.1 L969.6 763.4 L974.0 760.8 L978.3 758.2 L982.7 755.6 L987.0 753.1 L991.3 750.6 L995.6 748.2 L1000.1 746.0 L1004.6 743.8 L1009.3 741.6 L1014.2 739.6 L1019.2 737.8 L1024.5 735.9 L1030.0 734.2 L1035.7 732.5 L1041.6 730.8 L1047.6 729.3 L1053.6 727.8 L1059.7 726.5 L1065.8 725.2 L1071.9 724.2 L1077.9 723.3 L1083.7 722.5 L1089.5 722.0 L1095.0 721.6 L1100.3 721.2 L1105.3 721.0 L1110.3 721.0 L1115.2 721.0 L1120.2 721.2 L1125.3 721.6 L1130.6 722.2 L1136.2 722.9 L1142.1 723.8 L1148.4 724.9 L1155.2 726.1 L1162.8 727.8 L1171.4 729.9 L1180.8 732.3 L1190.8 735.0 L1200.9 737.9 L1211.2 740.9 L1221.1 743.9 L1230.7 746.7 L1239.5 749.4 L1247.3 751.8 L1253.9 753.7 L1259.1 755.2 L1260.9 748.9 L1255.8 747.4 L1249.2 745.5 L1241.4 743.1 L1232.6 740.5 L1223.0 737.6 L1213.0 734.6 L1202.8 731.6 L1192.5 728.7 L1182.5 726.0 L1173.0 723.5 L1164.3 721.4 L1156.5 719.7 L1149.6 718.4 L1143.1 717.3 L1137.1 716.4 L1131.4 715.6 L1125.9 715.1 L1120.6 714.7 L1115.4 714.5 L1110.3 714.4 L1105.2 714.5 L1099.9 714.7 L1094.5 715.0 L1088.9 715.5 L1083.0 716.2 L1076.9 717.1 L1070.8 718.1 L1064.7 719.4 L1058.5 720.7 L1052.3 722.2 L1046.2 723.8 L1040.1 725.5 L1034.2 727.3 L1028.4 729.2 L1022.8 731.1 L1017.5 733.1 L1012.3 735.1 L1007.4 737.3 L1002.6 739.6 L998.0 741.9 L993.5 744.4 L989.1 746.9 L984.8 749.5 L980.6 752.1 L976.3 754.8 L972.0 757.5 L967.7 760.3 L963.3 763.1 L958.6 766.1 L953.7 769.3 L948.5 772.8 L943.3 776.4 L938.1 780.1 L933.0 783.7 L928.1 787.2 L923.5 790.6 L919.3 793.7 L915.5 796.5 L912.4 798.9 L909.9 800.9 Z"/><path d="M1086.1 753.3 L1087.8 753.4 L1089.9 753.4 L1092.5 753.4 L1095.3 753.4 L1098.4 753.4 L1101.7 753.3 L1105.1 753.2 L1108.5 753.0 L1111.8 752.8 L1115.0 752.4 L1118.0 752.0 L1120.8 751.4 L1123.3 750.7 L1125.8 749.9 L1128.2 749.0 L1130.6 748.0 L1132.9 746.9 L1135.1 745.8 L1137.2 744.6 L1139.2 743.4 L1141.1 742.3 L1143.0 741.1 L1144.7 740.0 L1146.4 738.9 L1147.9 737.7 L1149.4 736.5 L1150.8 735.3 L1152.1 734.1 L1153.4 732.8 L1154.5 731.6 L1155.5 730.4 L1156.4 729.3 L1157.2 728.3 L1158.0 727.4 L1158.6 726.7 L1159.1 726.1 L1156.7 723.9 L1156.1 724.5 L1155.4 725.3 L1154.7 726.2 L1153.9 727.2 L1153.0 728.2 L1152.0 729.4 L1150.9 730.5 L1149.8 731.7 L1148.6 732.9 L1147.3 734.0 L1145.9 735.1 L1144.5 736.1 L1142.9 737.2 L1141.2 738.3 L1139.4 739.4 L1137.5 740.6 L1135.5 741.7 L1133.5 742.9 L1131.4 744.0 L1129.2 745.0 L1127.0 746.0 L1124.7 747.0 L1122.4 747.8 L1120.1 748.6 L1117.5 749.2 L1114.6 749.8 L1111.5 750.3 L1108.3 750.7 L1104.9 751.0 L1101.6 751.4 L1098.4 751.6 L1095.3 751.9 L1092.4 752.1 L1089.9 752.4 L1087.7 752.6 L1086.0 752.9 Z"/><path d="M1023.6 813.7 L1025.9 813.1 L1028.7 812.2 L1031.9 811.1 L1035.6 809.8 L1039.5 808.3 L1043.7 806.9 L1048.0 805.4 L1052.4 803.9 L1056.7 802.5 L1060.9 801.3 L1064.9 800.3 L1068.7 799.5 L1072.2 798.9 L1075.8 798.3 L1079.4 797.9 L1083.0 797.5 L1086.6 797.2 L1090.1 797.1 L1093.6 797.0 L1097.0 797.0 L1100.3 797.1 L1103.5 797.3 L1106.7 797.6 L1109.7 798.1 L1112.6 798.6 L1115.3 799.2 L1118.0 799.9 L1120.6 800.7 L1123.1 801.7 L1125.6 802.7 L1128.0 803.8 L1130.4 804.9 L1132.8 806.2 L1135.1 807.5 L1137.5 808.9 L1139.9 810.4 L1142.2 812.0 L1144.5 813.7 L1146.8 815.5 L1149.1 817.4 L1151.4 819.4 L1153.6 821.5 L1155.8 823.7 L1158.0 825.9 L1160.1 828.1 L1162.3 830.4 L1164.4 832.7 L1166.5 835.0 L1168.6 837.4 L1170.7 840.0 L1172.9 842.8 L1175.1 845.6 L1177.3 848.6 L1179.5 851.5 L1181.5 854.3 L1183.4 857.0 L1185.2 859.4 L1186.8 861.7 L1188.1 863.5 L1189.2 865.0 L1193.3 862.1 L1192.2 860.6 L1190.8 858.7 L1189.3 856.5 L1187.5 854.1 L1185.6 851.4 L1183.5 848.5 L1181.3 845.6 L1179.1 842.6 L1176.9 839.7 L1174.6 836.8 L1172.4 834.1 L1170.2 831.7 L1168.1 829.3 L1165.9 827.0 L1163.8 824.7 L1161.6 822.4 L1159.3 820.1 L1157.0 817.9 L1154.7 815.8 L1152.4 813.7 L1150.0 811.6 L1147.6 809.7 L1145.1 807.9 L1142.6 806.2 L1140.1 804.7 L1137.7 803.2 L1135.2 801.8 L1132.7 800.5 L1130.1 799.2 L1127.5 798.1 L1124.8 797.1 L1122.1 796.2 L1119.3 795.4 L1116.4 794.7 L1113.4 794.1 L1110.3 793.6 L1107.1 793.3 L1103.8 793.0 L1100.5 792.9 L1097.0 792.9 L1093.5 793.0 L1089.9 793.2 L1086.3 793.5 L1082.6 793.8 L1079.0 794.3 L1075.3 794.9 L1071.7 795.6 L1068.0 796.4 L1064.2 797.3 L1060.1 798.5 L1055.9 799.9 L1051.6 801.5 L1047.2 803.2 L1043.0 804.9 L1038.8 806.6 L1035.0 808.2 L1031.4 809.8 L1028.2 811.2 L1025.6 812.3 L1023.5 813.4 Z"/><path d="M894.3 903.3 L896.6 903.9 L899.5 904.4 L902.8 905.1 L906.5 905.8 L910.5 906.6 L914.8 907.4 L919.4 908.2 L924.1 909.0 L928.9 909.7 L933.7 910.5 L938.5 911.1 L943.2 911.6 L948.0 912.1 L953.0 912.6 L958.1 913.0 L963.5 913.5 L968.9 913.9 L974.3 914.2 L979.8 914.5 L985.2 914.8 L990.6 915.0 L995.8 915.2 L1000.9 915.4 L1005.8 915.4 L1010.6 915.5 L1015.3 915.4 L1019.9 915.3 L1024.4 915.2 L1028.9 915.0 L1033.3 914.8 L1037.6 914.6 L1041.9 914.3 L1046.1 913.9 L1050.2 913.6 L1054.2 913.2 L1058.2 912.7 L1062.0 912.3 L1065.7 911.8 L1069.2 911.3 L1072.6 910.8 L1075.9 910.3 L1079.2 909.7 L1082.5 909.0 L1085.9 908.3 L1089.3 907.5 L1092.8 906.6 L1096.5 905.7 L1100.3 904.6 L1104.4 903.4 L1108.6 902.0 L1112.8 900.5 L1117.2 898.9 L1121.6 897.2 L1126.0 895.5 L1130.5 893.7 L1134.9 892.1 L1139.4 890.4 L1143.8 888.9 L1148.2 887.4 L1152.5 886.1 L1156.8 884.9 L1161.1 883.7 L1165.4 882.5 L1169.6 881.4 L1173.8 880.3 L1178.1 879.3 L1182.3 878.4 L1186.6 877.6 L1190.8 877.0 L1195.1 876.4 L1199.5 876.0 L1203.8 875.8 L1208.2 875.8 L1212.6 875.8 L1217.0 876.0 L1221.3 876.3 L1225.7 876.8 L1230.2 877.3 L1234.7 878.0 L1239.3 878.8 L1244.1 879.7 L1249.0 880.7 L1254.1 881.8 L1259.3 883.0 L1265.0 884.5 L1271.2 886.3 L1277.9 888.3 L1284.9 890.6 L1292.0 892.9 L1299.1 895.3 L1306.0 897.7 L1312.5 900.0 L1318.5 902.1 L1323.9 904.0 L1328.5 905.6 L1332.1 906.8 L1333.9 901.2 L1330.4 900.0 L1325.8 898.5 L1320.5 896.6 L1314.4 894.5 L1307.9 892.2 L1301.0 889.8 L1293.9 887.4 L1286.7 885.0 L1279.7 882.8 L1272.9 880.7 L1266.5 878.9 L1260.7 877.4 L1255.4 876.1 L1250.2 875.0 L1245.2 873.9 L1240.4 873.0 L1235.6 872.2 L1231.0 871.5 L1226.4 871.0 L1221.8 870.5 L1217.3 870.2 L1212.8 870.0 L1208.2 869.9 L1203.7 870.0 L1199.1 870.2 L1194.5 870.6 L1190.0 871.2 L1185.6 871.9 L1181.2 872.7 L1176.8 873.7 L1172.5 874.7 L1168.1 875.8 L1163.8 876.9 L1159.5 878.1 L1155.2 879.3 L1150.9 880.5 L1146.4 881.9 L1141.9 883.3 L1137.4 884.9 L1132.9 886.6 L1128.4 888.4 L1123.9 890.2 L1119.5 892.0 L1115.2 893.7 L1110.9 895.4 L1106.8 896.9 L1102.7 898.3 L1098.8 899.5 L1095.1 900.6 L1091.5 901.6 L1088.1 902.5 L1084.7 903.4 L1081.5 904.1 L1078.3 904.8 L1075.1 905.4 L1071.8 906.0 L1068.5 906.6 L1065.0 907.1 L1061.4 907.6 L1057.6 908.1 L1053.7 908.6 L1049.7 909.1 L1045.7 909.5 L1041.5 909.9 L1037.3 910.2 L1033.0 910.6 L1028.7 910.9 L1024.3 911.1 L1019.8 911.3 L1015.2 911.5 L1010.6 911.6 L1005.8 911.7 L1001.0 911.7 L995.9 911.6 L990.7 911.5 L985.3 911.4 L979.9 911.3 L974.5 911.0 L969.0 910.8 L963.6 910.5 L958.4 910.2 L953.2 909.9 L948.2 909.6 L943.5 909.2 L938.8 908.8 L934.0 908.3 L929.1 907.7 L924.3 907.1 L919.6 906.4 L915.1 905.8 L910.7 905.1 L906.7 904.5 L902.9 904.0 L899.6 903.5 L896.8 903.1 L894.4 902.9 Z"/><path d="M1070.5 851.2 L1072.6 850.6 L1075.3 849.6 L1078.5 848.5 L1082.1 847.2 L1086.0 845.7 L1090.0 844.2 L1094.1 842.5 L1098.1 840.9 L1101.9 839.3 L1105.3 837.7 L1108.4 836.2 L1110.9 834.7 L1112.9 833.4 L1114.6 832.0 L1116.1 830.7 L1117.3 829.3 L1118.3 828.0 L1119.1 826.7 L1119.7 825.5 L1120.3 824.2 L1120.7 823.0 L1121.1 821.7 L1121.5 820.5 L1122.0 819.3 L1122.4 817.9 L1122.8 816.3 L1123.0 814.7 L1123.2 813.2 L1123.2 811.6 L1123.3 810.0 L1123.2 808.5 L1123.2 807.2 L1123.2 805.9 L1123.1 804.8 L1123.1 803.9 L1123.1 803.2 L1119.8 803.1 L1119.8 803.9 L1119.8 804.9 L1119.8 806.0 L1119.9 807.3 L1119.9 808.6 L1119.9 810.0 L1119.9 811.5 L1119.8 812.9 L1119.7 814.4 L1119.5 815.7 L1119.2 817.0 L1118.8 818.2 L1118.4 819.4 L1118.0 820.7 L1117.6 821.8 L1117.2 823.0 L1116.7 824.0 L1116.2 825.1 L1115.5 826.1 L1114.7 827.2 L1113.7 828.3 L1112.5 829.5 L1110.9 830.7 L1109.1 831.9 L1106.8 833.3 L1103.9 834.9 L1100.6 836.6 L1096.9 838.4 L1093.1 840.2 L1089.1 842.0 L1085.2 843.8 L1081.4 845.5 L1077.9 847.1 L1074.8 848.5 L1072.2 849.8 L1070.3 850.9 Z"/><path d="M933.8 844.9 L934.6 846.2 L935.6 847.8 L936.8 849.7 L938.1 851.9 L939.6 854.2 L941.2 856.6 L942.9 859.0 L944.8 861.5 L946.7 863.8 L948.7 866.0 L950.8 868.1 L953.0 869.8 L955.2 871.3 L957.6 872.7 L960.0 873.9 L962.5 875.0 L965.1 876.0 L967.8 876.9 L970.5 877.8 L973.2 878.6 L976.0 879.5 L978.8 880.3 L981.6 881.1 L984.5 882.0 L987.4 882.9 L990.5 883.7 L993.7 884.5 L996.9 885.2 L1000.1 885.8 L1003.3 886.5 L1006.6 887.2 L1009.8 887.9 L1012.9 888.6 L1015.9 889.5 L1018.9 890.4 L1021.7 891.5 L1024.5 892.8 L1027.5 894.2 L1030.5 895.9 L1033.5 897.6 L1036.4 899.4 L1039.3 901.3 L1042.1 903.1 L1044.7 904.9 L1047.1 906.5 L1049.3 907.9 L1051.1 909.1 L1052.6 910.1 L1054.9 906.6 L1053.4 905.6 L1051.6 904.5 L1049.4 903.0 L1047.0 901.4 L1044.4 899.6 L1041.6 897.8 L1038.7 895.9 L1035.6 894.0 L1032.5 892.2 L1029.4 890.5 L1026.3 889.0 L1023.3 887.7 L1020.3 886.5 L1017.1 885.5 L1013.9 884.6 L1010.7 883.8 L1007.4 883.1 L1004.2 882.4 L1000.9 881.7 L997.7 881.1 L994.5 880.5 L991.4 879.8 L988.4 879.2 L985.5 878.4 L982.7 877.6 L979.8 876.8 L976.9 876.1 L974.2 875.4 L971.4 874.6 L968.8 873.9 L966.2 873.0 L963.6 872.2 L961.2 871.2 L958.9 870.2 L956.6 869.0 L954.5 867.7 L952.4 866.2 L950.4 864.4 L948.4 862.3 L946.4 860.1 L944.4 857.9 L942.6 855.5 L940.9 853.3 L939.2 851.1 L937.7 849.1 L936.4 847.3 L935.2 845.8 L934.1 844.7 Z"/><path d="M921.5 951.2 L922.9 951.2 L924.8 951.2 L926.9 951.0 L929.4 950.9 L932.1 950.7 L934.9 950.5 L937.7 950.2 L940.5 949.8 L943.3 949.3 L945.9 948.7 L948.2 948.0 L950.3 947.1 L952.1 946.1 L953.7 944.9 L955.2 943.6 L956.5 942.1 L957.7 940.6 L958.7 939.0 L959.7 937.4 L960.6 935.8 L961.4 934.2 L962.2 932.7 L962.9 931.3 L963.6 929.9 L964.3 928.5 L964.9 927.0 L965.4 925.6 L965.8 924.1 L966.2 922.6 L966.6 921.2 L966.9 919.9 L967.1 918.6 L967.3 917.5 L967.5 916.5 L967.7 915.7 L967.9 915.0 L964.6 914.2 L964.5 914.9 L964.3 915.8 L964.1 916.8 L963.8 918.0 L963.6 919.2 L963.3 920.5 L963.0 921.8 L962.6 923.2 L962.2 924.5 L961.8 925.9 L961.2 927.1 L960.6 928.4 L959.9 929.8 L959.2 931.2 L958.4 932.7 L957.6 934.2 L956.8 935.7 L955.9 937.2 L955.0 938.6 L953.9 940.0 L952.8 941.3 L951.6 942.5 L950.3 943.6 L948.9 944.5 L947.2 945.4 L945.1 946.1 L942.7 946.8 L940.1 947.4 L937.4 948.0 L934.6 948.5 L931.9 948.9 L929.2 949.3 L926.8 949.7 L924.6 950.1 L922.8 950.4 L921.4 950.8 Z"/><path d="M996.4 1055.4 L998.3 1056.3 L1000.6 1057.3 L1003.3 1058.4 L1006.3 1059.6 L1009.7 1061.0 L1013.2 1062.4 L1017.0 1063.9 L1020.8 1065.4 L1024.8 1067.1 L1028.8 1068.7 L1032.7 1070.4 L1036.6 1072.0 L1040.5 1073.8 L1044.6 1075.7 L1048.9 1077.7 L1053.3 1079.8 L1057.8 1082.0 L1062.4 1084.1 L1066.9 1086.3 L1071.4 1088.4 L1075.9 1090.4 L1080.2 1092.3 L1084.4 1094.1 L1088.5 1095.6 L1092.4 1097.0 L1096.1 1098.3 L1099.7 1099.4 L1103.2 1100.5 L1106.7 1101.5 L1110.1 1102.4 L1113.5 1103.2 L1116.9 1103.9 L1120.2 1104.7 L1123.6 1105.3 L1127.0 1106.0 L1130.4 1106.6 L1133.9 1107.1 L1137.4 1107.7 L1141.0 1108.1 L1144.5 1108.6 L1148.0 1108.9 L1151.5 1109.3 L1155.0 1109.5 L1158.5 1109.7 L1162.0 1109.9 L1165.5 1110.0 L1169.0 1110.1 L1172.5 1110.1 L1176.0 1110.1 L1179.5 1110.0 L1183.0 1109.8 L1186.4 1109.7 L1189.9 1109.4 L1193.4 1109.1 L1196.8 1108.7 L1200.3 1108.3 L1203.9 1107.8 L1207.4 1107.3 L1211.1 1106.7 L1214.7 1106.0 L1218.3 1105.3 L1221.8 1104.6 L1225.1 1103.8 L1228.5 1103.0 L1231.9 1102.2 L1235.3 1101.3 L1238.9 1100.3 L1242.7 1099.2 L1246.8 1097.9 L1251.1 1096.6 L1255.8 1095.1 L1260.9 1093.4 L1266.8 1091.4 L1273.5 1089.1 L1280.9 1086.5 L1288.7 1083.7 L1296.8 1080.7 L1304.9 1077.8 L1312.8 1074.8 L1320.4 1072.1 L1327.4 1069.5 L1333.7 1067.2 L1338.9 1065.2 L1343.0 1063.7 L1341.0 1058.3 L1336.9 1059.7 L1331.7 1061.7 L1325.4 1064.0 L1318.4 1066.6 L1310.8 1069.4 L1302.9 1072.3 L1294.8 1075.3 L1286.7 1078.2 L1278.9 1081.0 L1271.6 1083.6 L1264.9 1085.9 L1259.1 1087.9 L1254.0 1089.5 L1249.3 1091.0 L1245.0 1092.4 L1241.1 1093.6 L1237.3 1094.7 L1233.8 1095.7 L1230.4 1096.6 L1227.1 1097.4 L1223.8 1098.1 L1220.5 1098.9 L1217.2 1099.6 L1213.6 1100.3 L1210.0 1100.9 L1206.5 1101.5 L1203.0 1102.0 L1199.6 1102.5 L1196.2 1102.9 L1192.8 1103.3 L1189.4 1103.6 L1186.0 1103.8 L1182.7 1104.1 L1179.3 1104.3 L1175.9 1104.4 L1172.5 1104.5 L1169.0 1104.5 L1165.6 1104.5 L1162.2 1104.5 L1158.7 1104.4 L1155.3 1104.2 L1151.9 1104.0 L1148.4 1103.8 L1145.0 1103.5 L1141.5 1103.1 L1138.1 1102.7 L1134.7 1102.3 L1131.2 1101.8 L1127.8 1101.2 L1124.4 1100.7 L1121.1 1100.1 L1117.8 1099.4 L1114.5 1098.8 L1111.2 1098.0 L1107.8 1097.2 L1104.4 1096.3 L1100.9 1095.4 L1097.3 1094.3 L1093.7 1093.1 L1089.8 1091.9 L1085.9 1090.4 L1081.7 1088.8 L1077.3 1087.0 L1072.9 1085.1 L1068.3 1083.1 L1063.8 1081.1 L1059.2 1079.0 L1054.6 1077.0 L1050.2 1075.0 L1045.8 1073.1 L1041.6 1071.3 L1037.6 1069.6 L1033.6 1068.1 L1029.6 1066.6 L1025.6 1065.0 L1021.6 1063.6 L1017.6 1062.1 L1013.8 1060.8 L1010.2 1059.5 L1006.8 1058.4 L1003.7 1057.3 L1000.9 1056.4 L998.5 1055.6 L996.5 1055.0 Z"/><path d="M1041.2 1013.7 L1044.8 1014.1 L1049.5 1014.4 L1055.0 1014.7 L1061.1 1015.0 L1067.8 1015.3 L1074.8 1015.6 L1082.0 1016.0 L1089.1 1016.4 L1096.0 1016.8 L1102.6 1017.3 L1108.6 1017.9 L1113.9 1018.6 L1118.7 1019.4 L1123.3 1020.2 L1127.7 1021.2 L1131.9 1022.2 L1135.9 1023.3 L1139.7 1024.4 L1143.3 1025.6 L1146.8 1026.8 L1150.1 1028.0 L1153.2 1029.2 L1156.2 1030.3 L1159.0 1031.5 L1161.6 1032.6 L1163.9 1033.6 L1165.9 1034.6 L1167.7 1035.6 L1169.3 1036.6 L1170.8 1037.7 L1172.1 1038.8 L1173.5 1039.9 L1174.8 1041.1 L1176.1 1042.5 L1177.5 1043.9 L1179.0 1045.5 L1180.5 1047.1 L1182.0 1048.8 L1183.5 1050.6 L1185.0 1052.5 L1186.5 1054.5 L1187.9 1056.5 L1189.3 1058.6 L1190.6 1060.7 L1191.8 1062.9 L1193.0 1065.1 L1194.2 1067.4 L1195.2 1069.7 L1196.2 1072.2 L1197.1 1075.0 L1198.0 1077.9 L1198.8 1081.1 L1199.5 1084.3 L1200.3 1087.5 L1200.9 1090.6 L1201.5 1093.6 L1202.1 1096.4 L1202.6 1098.9 L1203.0 1101.0 L1203.4 1102.6 L1208.3 1101.5 L1207.9 1099.9 L1207.5 1097.9 L1207.0 1095.4 L1206.4 1092.6 L1205.8 1089.6 L1205.2 1086.4 L1204.4 1083.2 L1203.6 1079.9 L1202.8 1076.6 L1201.9 1073.5 L1200.9 1070.5 L1199.8 1067.8 L1198.7 1065.3 L1197.5 1062.8 L1196.2 1060.5 L1194.9 1058.1 L1193.5 1055.9 L1192.0 1053.7 L1190.5 1051.5 L1189.0 1049.5 L1187.4 1047.5 L1185.9 1045.6 L1184.3 1043.8 L1182.7 1042.0 L1181.1 1040.4 L1179.7 1038.9 L1178.2 1037.5 L1176.8 1036.2 L1175.3 1034.9 L1173.7 1033.7 L1172.0 1032.5 L1170.2 1031.3 L1168.2 1030.2 L1166.1 1029.1 L1163.6 1028.0 L1161.0 1026.9 L1158.1 1025.7 L1155.0 1024.5 L1151.8 1023.4 L1148.3 1022.2 L1144.8 1021.1 L1141.0 1020.0 L1137.0 1018.9 L1132.9 1017.9 L1128.6 1017.0 L1124.0 1016.1 L1119.3 1015.4 L1114.4 1014.7 L1109.0 1014.2 L1102.9 1013.8 L1096.2 1013.5 L1089.2 1013.3 L1082.1 1013.1 L1074.9 1013.0 L1067.9 1013.0 L1061.2 1013.0 L1055.0 1013.0 L1049.5 1013.1 L1044.9 1013.2 L1041.3 1013.3 Z"/><path d="M1097.4 998.1 L1097.9 998.6 L1098.6 999.2 L1099.5 999.9 L1100.5 1000.6 L1101.6 1001.4 L1102.7 1002.2 L1103.9 1003.0 L1105.1 1003.9 L1106.2 1004.7 L1107.2 1005.6 L1108.2 1006.5 L1109.0 1007.3 L1109.8 1008.1 L1110.6 1009.0 L1111.4 1010.1 L1112.2 1011.1 L1113.0 1012.2 L1113.7 1013.3 L1114.4 1014.4 L1115.1 1015.4 L1115.7 1016.4 L1116.2 1017.2 L1116.7 1018.0 L1117.1 1018.5 L1119.5 1016.9 L1119.2 1016.3 L1118.7 1015.6 L1118.2 1014.8 L1117.6 1013.8 L1116.9 1012.8 L1116.2 1011.7 L1115.4 1010.6 L1114.6 1009.4 L1113.7 1008.3 L1112.8 1007.2 L1111.9 1006.1 L1111.0 1005.2 L1109.9 1004.4 L1108.8 1003.6 L1107.6 1002.8 L1106.3 1002.0 L1105.0 1001.3 L1103.7 1000.6 L1102.5 999.9 L1101.3 999.3 L1100.2 998.8 L1099.2 998.3 L1098.3 998.0 L1097.6 997.7 Z"/><path d="M1026.7 1118.9 L1028.3 1119.2 L1030.4 1119.3 L1033.0 1119.5 L1035.8 1119.8 L1038.9 1120.0 L1042.1 1120.2 L1045.4 1120.3 L1048.7 1120.4 L1051.9 1120.5 L1055.0 1120.4 L1057.7 1120.3 L1060.2 1120.0 L1062.4 1119.7 L1064.3 1119.2 L1066.2 1118.7 L1067.9 1118.1 L1069.5 1117.5 L1071.0 1116.7 L1072.4 1116.0 L1073.8 1115.1 L1075.2 1114.3 L1076.6 1113.4 L1078.0 1112.6 L1079.5 1111.7 L1081.2 1110.7 L1082.9 1109.5 L1084.7 1108.3 L1086.5 1107.0 L1088.4 1105.6 L1090.2 1104.3 L1091.9 1103.0 L1093.5 1101.7 L1095.0 1100.6 L1096.3 1099.6 L1097.5 1098.7 L1098.4 1098.0 L1096.6 1095.7 L1095.7 1096.4 L1094.6 1097.3 L1093.2 1098.3 L1091.8 1099.4 L1090.1 1100.7 L1088.4 1102.0 L1086.6 1103.3 L1084.8 1104.6 L1083.0 1105.9 L1081.3 1107.1 L1079.6 1108.2 L1078.0 1109.2 L1076.5 1110.1 L1075.0 1111.0 L1073.6 1111.8 L1072.3 1112.6 L1071.0 1113.4 L1069.6 1114.1 L1068.2 1114.8 L1066.8 1115.5 L1065.3 1116.0 L1063.6 1116.6 L1061.8 1117.1 L1059.8 1117.5 L1057.5 1117.8 L1054.8 1118.0 L1051.9 1118.2 L1048.7 1118.3 L1045.5 1118.4 L1042.2 1118.4 L1039.0 1118.4 L1035.9 1118.4 L1033.0 1118.3 L1030.5 1118.4 L1028.3 1118.4 L1026.7 1118.6 Z"/><path d="M949.6 1188.7 L952.3 1189.3 L955.9 1189.7 L960.2 1190.3 L965.0 1190.8 L970.2 1191.4 L975.7 1192.0 L981.2 1192.7 L986.7 1193.4 L992.0 1194.1 L997.1 1194.8 L1001.6 1195.6 L1005.5 1196.4 L1008.8 1197.2 L1011.8 1198.0 L1014.3 1198.9 L1016.7 1199.9 L1018.8 1200.8 L1020.9 1201.8 L1023.1 1202.9 L1025.3 1204.0 L1027.7 1205.0 L1030.3 1206.1 L1033.2 1207.2 L1036.5 1208.2 L1040.1 1209.2 L1043.9 1210.3 L1047.9 1211.3 L1052.0 1212.4 L1056.3 1213.5 L1060.7 1214.5 L1065.2 1215.6 L1069.8 1216.6 L1074.4 1217.6 L1079.2 1218.5 L1083.9 1219.4 L1088.7 1220.3 L1093.6 1221.2 L1098.5 1222.0 L1103.6 1222.9 L1108.8 1223.8 L1114.1 1224.6 L1119.4 1225.4 L1124.7 1226.1 L1130.1 1226.7 L1135.5 1227.3 L1140.9 1227.7 L1146.3 1228.1 L1151.6 1228.2 L1157.0 1228.3 L1162.4 1228.2 L1167.8 1228.0 L1173.3 1227.7 L1178.8 1227.4 L1184.3 1226.9 L1189.7 1226.3 L1195.0 1225.7 L1200.2 1224.9 L1205.3 1224.0 L1210.2 1223.0 L1214.9 1221.9 L1219.4 1220.8 L1223.7 1219.6 L1227.8 1218.3 L1231.8 1217.0 L1235.6 1215.5 L1239.4 1213.9 L1243.2 1212.2 L1246.9 1210.3 L1250.6 1208.2 L1254.3 1205.9 L1258.1 1203.3 L1262.0 1200.5 L1266.1 1197.2 L1270.4 1193.3 L1274.9 1189.0 L1279.4 1184.5 L1283.9 1179.7 L1288.3 1174.9 L1292.5 1170.1 L1296.5 1165.6 L1300.2 1161.4 L1303.5 1157.7 L1306.2 1154.6 L1308.4 1152.2 L1303.6 1147.8 L1301.3 1150.2 L1298.5 1153.4 L1295.3 1157.1 L1291.6 1161.3 L1287.6 1165.8 L1283.4 1170.5 L1279.1 1175.2 L1274.7 1179.9 L1270.3 1184.4 L1266.0 1188.5 L1261.8 1192.2 L1258.0 1195.3 L1254.3 1198.0 L1250.8 1200.4 L1247.2 1202.5 L1243.8 1204.5 L1240.3 1206.3 L1236.8 1207.9 L1233.2 1209.4 L1229.6 1210.8 L1225.8 1212.1 L1221.8 1213.3 L1217.7 1214.4 L1213.4 1215.6 L1208.8 1216.6 L1204.1 1217.6 L1199.2 1218.4 L1194.1 1219.2 L1188.9 1219.8 L1183.6 1220.4 L1178.3 1220.8 L1172.9 1221.2 L1167.5 1221.5 L1162.2 1221.6 L1156.9 1221.7 L1151.7 1221.8 L1146.5 1221.7 L1141.3 1221.5 L1136.1 1221.2 L1130.8 1220.7 L1125.4 1220.2 L1120.2 1219.6 L1114.9 1218.9 L1109.7 1218.1 L1104.5 1217.4 L1099.4 1216.6 L1094.4 1215.9 L1089.6 1215.1 L1084.8 1214.4 L1080.1 1213.6 L1075.4 1212.7 L1070.8 1211.8 L1066.2 1210.9 L1061.7 1210.0 L1057.3 1209.0 L1053.0 1208.1 L1048.9 1207.1 L1045.0 1206.1 L1041.2 1205.2 L1037.6 1204.3 L1034.4 1203.4 L1031.6 1202.4 L1029.1 1201.5 L1026.8 1200.5 L1024.6 1199.5 L1022.5 1198.5 L1020.3 1197.6 L1018.0 1196.6 L1015.5 1195.7 L1012.7 1194.8 L1009.6 1194.0 L1006.1 1193.2 L1002.1 1192.6 L997.5 1191.9 L992.4 1191.3 L987.0 1190.8 L981.4 1190.3 L975.9 1189.9 L970.4 1189.5 L965.2 1189.1 L960.3 1188.8 L956.0 1188.6 L952.4 1188.4 L949.6 1188.3 Z"/><path d="M894.4 1175.2 L896.1 1175.6 L898.3 1175.8 L900.9 1176.0 L903.8 1176.2 L906.9 1176.4 L910.2 1176.6 L913.6 1176.9 L916.9 1177.2 L920.2 1177.5 L923.2 1177.9 L925.9 1178.4 L928.3 1178.9 L930.4 1179.5 L932.5 1180.3 L934.6 1181.2 L936.6 1182.3 L938.5 1183.4 L940.3 1184.5 L942.0 1185.7 L943.6 1186.8 L945.1 1187.8 L946.4 1188.7 L947.6 1189.5 L948.6 1190.1 L950.6 1186.9 L949.6 1186.4 L948.5 1185.6 L947.2 1184.7 L945.8 1183.7 L944.1 1182.6 L942.3 1181.4 L940.4 1180.2 L938.4 1179.0 L936.2 1177.9 L934.0 1176.9 L931.6 1176.0 L929.2 1175.3 L926.6 1174.7 L923.6 1174.4 L920.4 1174.2 L917.1 1174.1 L913.7 1174.0 L910.3 1174.0 L907.0 1174.1 L903.8 1174.2 L900.9 1174.3 L898.3 1174.4 L896.1 1174.6 L894.4 1174.8 Z"/><path d="M897.5 1211.7 L898.7 1211.9 L900.3 1212.2 L902.1 1212.4 L904.2 1212.7 L906.5 1213.0 L908.9 1213.3 L911.4 1213.5 L913.9 1213.6 L916.3 1213.7 L918.7 1213.6 L920.9 1213.4 L922.9 1213.0 L924.8 1212.5 L926.6 1211.8 L928.3 1210.9 L929.9 1210.0 L931.5 1209.0 L932.9 1207.9 L934.3 1206.7 L935.6 1205.6 L936.9 1204.5 L938.1 1203.4 L939.2 1202.4 L940.4 1201.4 L941.5 1200.5 L942.7 1199.5 L943.8 1198.4 L944.8 1197.4 L945.8 1196.4 L946.8 1195.4 L947.7 1194.4 L948.5 1193.5 L949.2 1192.7 L949.9 1192.0 L950.5 1191.4 L950.9 1190.9 L948.2 1188.3 L947.7 1188.8 L947.1 1189.4 L946.5 1190.2 L945.7 1191.0 L944.9 1191.9 L944.1 1192.8 L943.1 1193.8 L942.2 1194.7 L941.2 1195.7 L940.1 1196.7 L939.1 1197.6 L938.0 1198.6 L936.8 1199.5 L935.6 1200.6 L934.4 1201.7 L933.2 1202.8 L931.9 1203.8 L930.6 1204.9 L929.2 1205.9 L927.9 1206.9 L926.5 1207.8 L925.1 1208.6 L923.6 1209.3 L922.1 1209.9 L920.4 1210.3 L918.4 1210.7 L916.2 1210.9 L913.9 1211.0 L911.4 1211.1 L909.0 1211.1 L906.6 1211.1 L904.4 1211.0 L902.2 1211.0 L900.4 1211.0 L898.8 1211.1 L897.5 1211.3 Z"/><path d="M940.1 1116.8 L941.4 1117.6 L943.1 1118.5 L945.0 1119.4 L947.2 1120.5 L949.7 1121.7 L952.2 1122.9 L954.9 1124.1 L957.5 1125.4 L960.2 1126.7 L962.8 1128.0 L965.4 1129.2 L967.7 1130.4 L970.0 1131.6 L972.5 1132.8 L974.9 1134.0 L977.4 1135.2 L979.8 1136.4 L982.2 1137.6 L984.5 1138.9 L986.8 1140.1 L988.9 1141.4 L990.8 1142.7 L992.5 1144.0 L994.1 1145.3 L995.4 1146.6 L996.5 1147.8 L997.4 1149.1 L998.3 1150.3 L999.0 1151.6 L999.6 1153.0 L1000.3 1154.4 L1000.9 1155.9 L1001.5 1157.6 L1002.2 1159.4 L1003.0 1161.3 L1003.9 1163.3 L1004.9 1165.6 L1006.0 1168.2 L1007.2 1171.0 L1008.4 1173.9 L1009.6 1177.0 L1010.8 1180.1 L1012.0 1183.1 L1013.1 1185.9 L1014.1 1188.6 L1015.0 1191.0 L1015.8 1193.0 L1016.4 1194.5 L1020.3 1193.0 L1019.7 1191.4 L1018.9 1189.5 L1018.0 1187.1 L1017.0 1184.4 L1015.8 1181.6 L1014.7 1178.5 L1013.5 1175.5 L1012.2 1172.4 L1011.0 1169.4 L1009.9 1166.5 L1008.8 1163.9 L1007.7 1161.7 L1006.9 1159.7 L1006.1 1157.8 L1005.4 1156.1 L1004.8 1154.4 L1004.1 1152.8 L1003.4 1151.2 L1002.7 1149.7 L1001.8 1148.1 L1000.8 1146.6 L999.7 1145.2 L998.3 1143.7 L996.8 1142.2 L995.0 1140.8 L993.0 1139.4 L990.8 1138.1 L988.6 1136.9 L986.2 1135.7 L983.8 1134.5 L981.3 1133.3 L978.8 1132.2 L976.2 1131.1 L973.7 1130.0 L971.3 1129.0 L968.9 1127.9 L966.5 1126.8 L963.9 1125.7 L961.2 1124.5 L958.4 1123.4 L955.7 1122.2 L953.0 1121.1 L950.3 1120.1 L947.8 1119.2 L945.5 1118.3 L943.5 1117.5 L941.7 1116.9 L940.3 1116.5 Z"/><path d="M1078.7 1249.2 L1080.3 1249.4 L1082.2 1249.5 L1084.6 1249.8 L1087.2 1250.0 L1090.1 1250.2 L1093.0 1250.4 L1096.1 1250.6 L1099.2 1250.7 L1102.2 1250.7 L1105.1 1250.6 L1107.8 1250.5 L1110.2 1250.2 L1112.4 1249.8 L1114.5 1249.3 L1116.5 1248.6 L1118.3 1247.9 L1120.1 1247.2 L1121.9 1246.4 L1123.5 1245.5 L1125.2 1244.6 L1126.8 1243.6 L1128.3 1242.7 L1129.9 1241.8 L1131.6 1240.9 L1133.3 1239.9 L1135.1 1238.8 L1136.9 1237.6 L1138.7 1236.4 L1140.6 1235.2 L1142.3 1233.9 L1144.0 1232.8 L1145.6 1231.6 L1147.1 1230.6 L1148.4 1229.7 L1149.5 1228.9 L1150.4 1228.3 L1148.8 1225.9 L1147.9 1226.5 L1146.7 1227.3 L1145.4 1228.2 L1144.0 1229.2 L1142.4 1230.4 L1140.7 1231.5 L1138.9 1232.8 L1137.1 1234.0 L1135.3 1235.2 L1133.5 1236.3 L1131.8 1237.4 L1130.1 1238.3 L1128.5 1239.2 L1126.9 1240.2 L1125.3 1241.1 L1123.7 1242.0 L1122.1 1242.9 L1120.5 1243.8 L1118.9 1244.6 L1117.3 1245.3 L1115.5 1246.1 L1113.7 1246.7 L1111.8 1247.3 L1109.8 1247.7 L1107.5 1248.1 L1105.0 1248.4 L1102.2 1248.5 L1099.2 1248.6 L1096.2 1248.7 L1093.1 1248.7 L1090.1 1248.7 L1087.3 1248.6 L1084.6 1248.6 L1082.3 1248.6 L1080.3 1248.6 L1078.8 1248.8 Z"/><path d="M1018.3 1273.1 L1019.4 1273.6 L1020.8 1274.0 L1022.5 1274.3 L1024.4 1274.7 L1026.4 1275.2 L1028.6 1275.6 L1030.7 1276.2 L1032.9 1276.8 L1035.0 1277.5 L1037.0 1278.4 L1038.8 1279.4 L1040.3 1280.4 L1041.8 1281.7 L1043.1 1283.0 L1044.4 1284.4 L1045.6 1285.9 L1046.8 1287.6 L1048.0 1289.3 L1049.1 1291.2 L1050.3 1293.3 L1051.6 1295.5 L1052.9 1297.9 L1054.3 1300.5 L1055.8 1303.3 L1057.5 1306.4 L1059.4 1310.0 L1061.5 1313.9 L1063.7 1318.2 L1066.0 1322.6 L1068.2 1327.0 L1070.4 1331.4 L1072.4 1335.6 L1074.3 1339.4 L1076.0 1342.9 L1077.5 1345.8 L1078.6 1348.0 L1083.1 1345.7 L1081.9 1343.5 L1080.5 1340.6 L1078.8 1337.2 L1076.9 1333.3 L1074.8 1329.2 L1072.7 1324.8 L1070.4 1320.3 L1068.2 1315.9 L1066.0 1311.6 L1063.8 1307.6 L1061.9 1304.0 L1060.0 1300.9 L1058.3 1298.2 L1056.8 1295.7 L1055.3 1293.3 L1053.9 1291.1 L1052.6 1289.0 L1051.2 1287.1 L1049.8 1285.3 L1048.5 1283.6 L1047.0 1282.0 L1045.5 1280.5 L1043.9 1279.2 L1042.2 1277.9 L1040.2 1276.7 L1038.1 1275.8 L1035.9 1275.0 L1033.6 1274.4 L1031.2 1273.9 L1028.9 1273.6 L1026.7 1273.3 L1024.6 1273.1 L1022.7 1273.0 L1021.0 1272.8 L1019.5 1272.8 L1018.4 1272.7 Z"/><path d="M988.1 1297.1 L989.6 1297.8 L991.7 1298.8 L994.1 1299.8 L996.8 1301.0 L999.8 1302.3 L1002.9 1303.6 L1006.2 1304.9 L1009.5 1306.2 L1012.8 1307.3 L1016.1 1308.3 L1019.3 1309.1 L1022.3 1309.7 L1025.3 1310.1 L1028.5 1310.2 L1031.7 1310.2 L1035.0 1310.0 L1038.3 1309.8 L1041.5 1309.5 L1044.5 1309.1 L1047.4 1308.7 L1050.1 1308.4 L1052.4 1308.1 L1054.4 1307.8 L1056.0 1307.7 L1055.7 1304.8 L1054.1 1304.9 L1052.0 1305.2 L1049.7 1305.5 L1047.0 1305.8 L1044.2 1306.2 L1041.2 1306.6 L1038.0 1306.9 L1034.8 1307.1 L1031.6 1307.3 L1028.5 1307.3 L1025.5 1307.2 L1022.7 1306.9 L1019.8 1306.5 L1016.8 1305.8 L1013.5 1305.0 L1010.2 1304.0 L1006.9 1303.0 L1003.6 1301.8 L1000.4 1300.7 L997.4 1299.7 L994.6 1298.7 L992.1 1297.8 L989.9 1297.1 L988.2 1296.7 Z"/><path d="M869.3 1290.8 L871.1 1291.4 L873.3 1291.9 L875.9 1292.4 L878.8 1293.0 L882.0 1293.6 L885.3 1294.3 L888.8 1295.0 L892.3 1295.8 L895.8 1296.7 L899.1 1297.5 L902.3 1298.5 L905.3 1299.5 L908.1 1300.6 L911.0 1301.7 L913.9 1302.9 L916.7 1304.2 L919.5 1305.5 L922.3 1306.9 L925.0 1308.3 L927.7 1309.8 L930.3 1311.4 L932.9 1313.1 L935.3 1314.8 L937.7 1316.5 L939.9 1318.4 L942.2 1320.4 L944.3 1322.5 L946.4 1324.8 L948.5 1327.1 L950.5 1329.5 L952.5 1331.9 L954.5 1334.3 L956.5 1336.7 L958.4 1339.0 L960.4 1341.3 L962.3 1343.4 L964.3 1345.4 L966.3 1347.5 L968.4 1349.6 L970.4 1351.6 L972.4 1353.6 L974.4 1355.6 L976.3 1357.4 L978.0 1359.1 L979.6 1360.7 L981.0 1362.1 L982.2 1363.3 L983.2 1364.3 L986.8 1360.7 L985.8 1359.7 L984.5 1358.5 L983.1 1357.1 L981.5 1355.5 L979.8 1353.8 L977.9 1352.0 L976.0 1350.1 L974.0 1348.1 L971.9 1346.0 L969.9 1344.0 L967.9 1341.9 L966.0 1340.0 L964.1 1337.9 L962.2 1335.8 L960.3 1333.5 L958.4 1331.1 L956.4 1328.7 L954.4 1326.3 L952.3 1323.8 L950.1 1321.4 L947.9 1319.0 L945.6 1316.7 L943.2 1314.6 L940.6 1312.6 L938.1 1310.8 L935.4 1309.1 L932.7 1307.5 L929.9 1306.0 L927.0 1304.5 L924.1 1303.1 L921.2 1301.8 L918.3 1300.6 L915.3 1299.4 L912.3 1298.3 L909.3 1297.3 L906.4 1296.3 L903.2 1295.4 L899.9 1294.6 L896.4 1293.9 L892.8 1293.2 L889.2 1292.6 L885.7 1292.1 L882.3 1291.7 L879.1 1291.3 L876.1 1291.0 L873.5 1290.7 L871.2 1290.5 L869.4 1290.4 Z"/><path d="M898.1 652.2 L901.0 651.5 L904.7 650.6 L909.0 649.5 L913.9 648.3 L919.1 646.9 L924.7 645.5 L930.5 644.1 L936.4 642.7 L942.4 641.3 L948.2 640.1 L953.8 639.0 L959.2 638.0 L964.4 637.2 L969.6 636.3 L974.8 635.5 L980.1 634.7 L985.4 633.9 L990.6 633.2 L995.9 632.7 L1001.1 632.2 L1006.4 631.8 L1011.6 631.6 L1016.8 631.6 L1021.9 631.7 L1027.1 632.1 L1032.2 632.6 L1037.2 633.2 L1042.3 634.0 L1047.3 635.0 L1052.4 636.0 L1057.5 637.2 L1062.6 638.4 L1067.7 639.8 L1072.9 641.2 L1078.1 642.6 L1083.4 644.2 L1088.7 645.7 L1094.0 647.3 L1099.2 649.0 L1104.5 650.7 L1109.8 652.5 L1115.2 654.4 L1120.5 656.5 L1126.0 658.6 L1131.6 660.9 L1137.2 663.3 L1142.9 665.8 L1148.8 668.6 L1155.0 671.5 L1161.6 674.7 L1168.4 678.1 L1175.5 681.7 L1182.6 685.4 L1189.7 689.3 L1196.6 693.1 L1203.4 697.0 L1209.8 700.8 L1215.7 704.6 L1221.1 708.3 L1225.8 711.8 L1229.9 715.1 L1233.2 718.3 L1236.1 721.4 L1238.5 724.4 L1240.7 727.4 L1242.6 730.4 L1244.5 733.6 L1246.4 736.9 L1248.3 740.4 L1250.5 744.1 L1252.9 748.1 L1255.8 752.3 L1258.9 756.6 L1262.1 760.9 L1265.4 765.3 L1268.9 769.8 L1272.3 774.4 L1275.8 779.1 L1279.3 784.0 L1282.8 789.1 L1286.3 794.4 L1289.7 799.9 L1293.0 805.8 L1296.2 811.9 L1299.5 818.5 L1302.8 825.5 L1306.1 832.8 L1309.5 840.5 L1312.8 848.3 L1316.1 856.4 L1319.2 864.5 L1322.3 872.8 L1325.2 881.0 L1327.9 889.2 L1330.4 897.3 L1332.6 905.2 L1334.6 913.2 L1336.4 921.6 L1338.1 930.2 L1339.5 939.0 L1340.9 947.9 L1342.1 956.6 L1343.1 965.2 L1344.2 973.4 L1345.1 981.1 L1346.0 988.3 L1346.8 994.8 L1347.5 1000.6 L1348.2 1005.4 L1348.7 1009.4 L1349.1 1012.6 L1349.4 1015.3 L1349.6 1017.4 L1349.8 1019.2 L1349.8 1020.7 L1349.7 1022.1 L1349.6 1023.5 L1349.4 1025.1 L1349.1 1027.0 L1348.8 1029.2 L1348.3 1031.6 L1347.6 1034.1 L1346.8 1036.7 L1345.8 1039.4 L1344.7 1042.2 L1343.5 1044.9 L1342.4 1047.7 L1341.3 1050.4 L1340.2 1053.0 L1339.3 1055.5 L1338.5 1057.9 L1338.0 1060.3 L1337.8 1062.6 L1338.0 1064.7 L1338.6 1066.6 L1339.5 1068.1 L1340.4 1069.2 L1341.1 1069.8 L1341.5 1070.2 L1341.6 1070.3 L1341.6 1070.3 L1341.6 1070.6 L1341.6 1071.4 L1341.2 1072.8 L1340.5 1074.9 L1339.5 1077.3 L1338.3 1080.1 L1336.9 1083.1 L1335.3 1086.3 L1333.6 1089.7 L1331.8 1093.1 L1329.9 1096.6 L1328.0 1100.1 L1326.2 1103.6 L1324.4 1107.0 L1322.8 1110.3 L1321.2 1113.4 L1319.8 1116.2 L1318.4 1118.9 L1317.1 1121.5 L1315.7 1124.1 L1314.3 1126.7 L1312.9 1129.5 L1311.3 1132.6 L1309.5 1135.9 L1307.6 1139.6 L1305.4 1143.8 L1303.0 1148.4 L1300.3 1153.7 L1297.5 1159.6 L1294.6 1165.9 L1291.6 1172.6 L1288.4 1179.6 L1285.1 1186.7 L1281.6 1194.0 L1277.9 1201.2 L1274.1 1208.4 L1270.1 1215.3 L1266.0 1222.0 L1261.6 1228.3 L1257.0 1234.4 L1251.9 1240.7 L1246.4 1246.9 L1240.7 1253.2 L1234.9 1259.4 L1228.9 1265.5 L1222.9 1271.3 L1217.0 1277.0 L1211.2 1282.3 L1205.6 1287.3 L1200.3 1291.9 L1195.4 1296.1 L1190.9 1299.7 L1186.7 1302.8 L1182.8 1305.5 L1179.1 1307.8 L1175.5 1309.9 L1172.0 1311.7 L1168.5 1313.4 L1165.0 1315.0 L1161.3 1316.5 L1157.5 1318.2 L1153.4 1319.9 L1149.0 1321.8 L1144.5 1323.8 L1139.6 1325.8 L1134.7 1327.8 L1129.5 1329.8 L1124.3 1331.8 L1119.0 1333.7 L1113.7 1335.6 L1108.5 1337.4 L1103.2 1339.1 L1098.1 1340.8 L1093.1 1342.4 L1088.4 1343.8 L1083.7 1345.2 L1079.2 1346.5 L1074.8 1347.7 L1070.5 1348.8 L1066.2 1349.9 L1062.0 1350.9 L1057.7 1351.8 L1053.6 1352.7 L1049.4 1353.5 L1045.2 1354.3 L1040.9 1355.1 L1036.6 1355.9 L1032.3 1356.6 L1028.1 1357.4 L1023.9 1358.1 L1019.7 1358.8 L1015.6 1359.4 L1011.4 1360.0 L1007.2 1360.6 L1003.0 1361.1 L998.6 1361.6 L994.2 1361.9 L989.7 1362.1 L985.0 1362.3 L980.1 1362.3 L974.9 1362.3 L969.6 1362.2 L964.1 1362.0 L958.5 1361.7 L952.9 1361.4 L947.4 1360.9 L941.9 1360.4 L936.6 1359.8 L931.5 1359.0 L926.7 1358.1 L922.2 1357.1 L917.9 1355.9 L913.7 1354.4 L909.5 1352.7 L905.5 1350.8 L901.6 1348.7 L897.8 1346.7 L894.3 1344.6 L891.0 1342.7 L888.0 1340.8 L885.4 1339.2 L883.1 1337.8 L881.1 1336.8 L880.9 1337.2 L882.8 1338.3 L885.0 1339.7 L887.7 1341.4 L890.6 1343.3 L893.8 1345.4 L897.3 1347.6 L901.0 1349.8 L904.9 1351.9 L909.0 1353.9 L913.1 1355.8 L917.4 1357.5 L921.8 1358.9 L926.3 1360.0 L931.2 1361.0 L936.3 1361.9 L941.6 1362.7 L947.1 1363.4 L952.7 1364.0 L958.3 1364.5 L963.9 1364.9 L969.4 1365.2 L974.8 1365.5 L980.0 1365.6 L985.0 1365.7 L989.8 1365.7 L994.4 1365.6 L998.9 1365.4 L1003.3 1365.1 L1007.7 1364.7 L1012.0 1364.2 L1016.2 1363.6 L1020.4 1363.0 L1024.6 1362.3 L1028.8 1361.6 L1033.1 1360.9 L1037.4 1360.1 L1041.7 1359.4 L1046.0 1358.6 L1050.2 1357.8 L1054.4 1357.0 L1058.7 1356.1 L1062.9 1355.1 L1067.2 1354.2 L1071.5 1353.1 L1075.9 1352.0 L1080.4 1350.8 L1085.0 1349.5 L1089.6 1348.2 L1094.5 1346.7 L1099.5 1345.1 L1104.7 1343.5 L1109.9 1341.7 L1115.2 1339.9 L1120.6 1338.1 L1125.9 1336.1 L1131.2 1334.2 L1136.4 1332.2 L1141.4 1330.2 L1146.3 1328.2 L1151.0 1326.2 L1155.3 1324.3 L1159.3 1322.6 L1163.2 1321.0 L1166.9 1319.4 L1170.6 1317.8 L1174.2 1316.1 L1177.9 1314.2 L1181.6 1312.0 L1185.5 1309.6 L1189.6 1306.8 L1193.9 1303.6 L1198.6 1299.9 L1203.6 1295.8 L1209.0 1291.1 L1214.7 1286.2 L1220.6 1280.8 L1226.6 1275.2 L1232.7 1269.3 L1238.8 1263.2 L1244.8 1257.0 L1250.6 1250.7 L1256.2 1244.4 L1261.5 1238.0 L1266.4 1231.7 L1270.9 1225.3 L1275.3 1218.4 L1279.4 1211.4 L1283.4 1204.1 L1287.2 1196.8 L1290.8 1189.5 L1294.2 1182.3 L1297.5 1175.4 L1300.6 1168.7 L1303.6 1162.5 L1306.4 1156.7 L1309.0 1151.6 L1311.5 1147.0 L1313.7 1142.8 L1315.6 1139.2 L1317.4 1135.9 L1319.0 1132.8 L1320.5 1130.0 L1322.0 1127.4 L1323.4 1124.8 L1324.8 1122.2 L1326.2 1119.5 L1327.7 1116.7 L1329.2 1113.7 L1330.9 1110.5 L1332.7 1107.1 L1334.6 1103.7 L1336.5 1100.2 L1338.4 1096.7 L1340.3 1093.2 L1342.1 1089.8 L1343.8 1086.5 L1345.3 1083.4 L1346.7 1080.4 L1347.9 1077.7 L1348.8 1075.2 L1349.4 1072.8 L1349.6 1070.6 L1349.3 1068.5 L1348.7 1066.7 L1347.7 1065.3 L1346.9 1064.3 L1346.3 1063.7 L1346.0 1063.4 L1345.9 1063.3 L1345.9 1063.1 L1345.9 1062.7 L1346.0 1061.7 L1346.4 1060.1 L1347.0 1058.2 L1347.9 1056.0 L1348.9 1053.5 L1350.0 1050.9 L1351.2 1048.2 L1352.4 1045.4 L1353.6 1042.5 L1354.7 1039.5 L1355.8 1036.6 L1356.6 1033.6 L1357.2 1030.8 L1357.6 1028.4 L1358.0 1026.3 L1358.2 1024.5 L1358.4 1022.7 L1358.5 1020.8 L1358.5 1018.9 L1358.4 1016.8 L1358.2 1014.4 L1357.9 1011.6 L1357.5 1008.3 L1357.0 1004.2 L1356.5 999.4 L1355.8 993.8 L1355.1 987.3 L1354.4 980.1 L1353.5 972.3 L1352.6 964.0 L1351.4 955.4 L1350.2 946.5 L1348.7 937.5 L1347.2 928.6 L1345.4 919.7 L1343.5 911.1 L1341.4 902.8 L1339.0 894.7 L1336.4 886.4 L1333.6 878.1 L1330.6 869.7 L1327.5 861.4 L1324.2 853.1 L1320.8 845.0 L1317.4 837.0 L1314.0 829.3 L1310.5 821.9 L1307.1 814.8 L1303.8 808.1 L1300.4 801.7 L1296.9 795.7 L1293.3 789.9 L1289.7 784.5 L1286.0 779.3 L1282.4 774.3 L1278.8 769.5 L1275.3 764.9 L1271.8 760.4 L1268.5 756.1 L1265.3 751.8 L1262.2 747.7 L1259.5 743.8 L1257.1 740.1 L1255.0 736.5 L1253.0 733.1 L1251.0 729.8 L1249.0 726.4 L1246.8 723.1 L1244.4 719.8 L1241.6 716.5 L1238.3 713.1 L1234.5 709.7 L1230.2 706.2 L1225.1 702.6 L1219.4 698.8 L1213.3 695.1 L1206.7 691.2 L1199.8 687.4 L1192.7 683.6 L1185.5 679.9 L1178.2 676.3 L1171.1 672.8 L1164.1 669.4 L1157.5 666.3 L1151.2 663.4 L1145.2 660.8 L1139.3 658.3 L1133.6 655.9 L1127.9 653.7 L1122.3 651.6 L1116.8 649.7 L1111.4 647.8 L1106.0 646.1 L1100.6 644.4 L1095.3 642.8 L1090.0 641.3 L1084.6 639.8 L1079.3 638.4 L1074.0 637.0 L1068.8 635.7 L1063.6 634.4 L1058.4 633.2 L1053.2 632.1 L1048.1 631.1 L1042.9 630.3 L1037.7 629.5 L1032.5 628.9 L1027.3 628.5 L1022.1 628.3 L1016.8 628.2 L1011.5 628.3 L1006.2 628.6 L1000.9 629.1 L995.6 629.7 L990.3 630.4 L985.0 631.2 L979.7 632.1 L974.4 633.0 L969.2 634.0 L964.0 635.0 L958.8 636.0 L953.5 637.1 L947.8 638.3 L942.0 639.7 L936.1 641.2 L930.2 642.8 L924.4 644.4 L918.9 645.9 L913.6 647.4 L908.8 648.7 L904.5 650.0 L900.9 651.0 L897.9 651.8 Z"/><path d="M1351.1 1036.9 L1356.3 1037.8 L1362.9 1038.8 L1370.6 1040.1 L1379.2 1041.4 L1388.6 1043.0 L1398.5 1044.6 L1408.8 1046.2 L1419.3 1047.9 L1429.7 1049.6 L1440.0 1051.3 L1449.8 1052.9 L1459.1 1054.4 L1468.3 1056.0 L1478.1 1057.6 L1488.2 1059.3 L1498.5 1061.1 L1508.8 1062.8 L1518.8 1064.5 L1528.5 1066.2 L1537.7 1067.7 L1546.1 1069.2 L1553.6 1070.5 L1560.0 1071.6 L1565.1 1072.4 L1566.9 1061.6 L1561.8 1060.7 L1555.4 1059.6 L1547.9 1058.3 L1539.5 1056.9 L1530.4 1055.3 L1520.7 1053.7 L1510.6 1052.0 L1500.3 1050.2 L1490.0 1048.5 L1479.9 1046.8 L1470.1 1045.1 L1460.9 1043.6 L1451.6 1042.0 L1441.8 1040.4 L1431.5 1038.8 L1421.0 1037.1 L1410.6 1035.4 L1400.3 1033.7 L1390.3 1032.1 L1380.9 1030.6 L1372.3 1029.2 L1364.6 1028.0 L1358.1 1026.9 L1352.9 1026.1 Z"/></g>
<g fill="#D83468"><path d="M1006.8 652.3 L1008.3 652.9 L1010.1 653.6 L1012.3 654.3 L1014.8 655.0 L1017.5 655.9 L1020.4 656.7 L1023.3 657.6 L1026.2 658.5 L1029.1 659.4 L1031.8 660.3 L1034.3 661.2 L1036.5 662.1 L1038.5 662.9 L1040.5 663.7 L1042.4 664.5 L1044.2 665.3 L1045.9 666.1 L1047.6 666.9 L1049.2 667.7 L1050.8 668.5 L1052.3 669.4 L1053.7 670.3 L1055.2 671.3 L1056.6 672.4 L1057.9 673.7 L1059.3 675.1 L1060.7 676.7 L1062.1 678.4 L1063.5 680.2 L1064.8 682.1 L1066.1 683.9 L1067.2 685.6 L1068.3 687.2 L1069.3 688.6 L1070.1 689.9 L1070.8 690.8 L1074.2 688.4 L1073.5 687.4 L1072.7 686.3 L1071.8 684.9 L1070.7 683.2 L1069.5 681.5 L1068.2 679.7 L1066.9 677.8 L1065.4 675.9 L1063.9 674.0 L1062.4 672.3 L1060.8 670.7 L1059.3 669.2 L1057.7 668.0 L1056.1 666.9 L1054.5 665.8 L1052.8 664.8 L1051.1 663.9 L1049.4 663.1 L1047.6 662.3 L1045.7 661.6 L1043.8 660.9 L1041.8 660.2 L1039.8 659.5 L1037.7 658.8 L1035.3 658.0 L1032.7 657.3 L1029.9 656.5 L1027.0 655.8 L1024.0 655.1 L1021.0 654.5 L1018.1 653.9 L1015.3 653.3 L1012.7 652.8 L1010.4 652.4 L1008.5 652.0 L1006.9 651.9 Z"/><path d="M932.9 710.6 L936.5 710.8 L941.0 710.9 L946.3 711.0 L952.2 711.1 L958.7 711.1 L965.5 711.1 L972.6 710.9 L979.7 710.8 L986.8 710.5 L993.7 710.1 L1000.2 709.5 L1006.2 708.8 L1012.0 708.0 L1017.8 707.0 L1023.6 705.8 L1029.3 704.6 L1035.0 703.2 L1040.6 701.8 L1046.0 700.3 L1051.2 698.7 L1056.2 697.2 L1060.9 695.6 L1065.3 694.1 L1069.4 692.7 L1073.3 691.3 L1076.7 689.8 L1080.0 688.4 L1082.9 687.0 L1085.7 685.6 L1088.2 684.2 L1090.6 682.7 L1092.9 681.3 L1095.0 679.9 L1097.2 678.5 L1099.3 677.1 L1101.4 675.6 L1103.7 674.1 L1105.9 672.4 L1108.1 670.7 L1110.2 668.9 L1112.2 667.2 L1114.2 665.5 L1116.0 663.8 L1117.6 662.2 L1119.2 660.8 L1120.5 659.6 L1121.6 658.5 L1122.6 657.7 L1118.2 652.7 L1117.2 653.6 L1116.0 654.7 L1114.7 656.0 L1113.2 657.4 L1111.5 659.0 L1109.8 660.6 L1107.9 662.3 L1105.9 663.9 L1103.9 665.6 L1101.9 667.2 L1099.8 668.8 L1097.7 670.2 L1095.6 671.6 L1093.5 673.0 L1091.4 674.4 L1089.3 675.8 L1087.2 677.1 L1084.9 678.5 L1082.5 679.8 L1080.0 681.1 L1077.2 682.5 L1074.2 683.8 L1070.9 685.1 L1067.2 686.5 L1063.2 687.9 L1058.8 689.4 L1054.1 690.9 L1049.2 692.5 L1044.1 694.0 L1038.8 695.6 L1033.4 697.2 L1027.9 698.7 L1022.3 700.1 L1016.6 701.4 L1011.0 702.6 L1005.4 703.7 L999.6 704.6 L993.2 705.4 L986.5 706.1 L979.5 706.7 L972.4 707.2 L965.4 707.7 L958.6 708.1 L952.2 708.5 L946.2 708.9 L940.9 709.3 L936.5 709.7 L932.9 710.2 Z"/><path d="M931.0 805.4 L934.3 803.3 L938.4 800.4 L943.2 797.0 L948.6 793.1 L954.5 788.9 L960.6 784.5 L967.0 780.0 L973.3 775.5 L979.6 771.1 L985.6 767.0 L991.3 763.2 L996.5 760.0 L1001.2 757.1 L1005.7 754.4 L1009.9 751.8 L1014.0 749.5 L1018.0 747.2 L1022.0 745.1 L1026.0 743.1 L1030.1 741.2 L1034.3 739.3 L1038.7 737.4 L1043.4 735.6 L1048.4 733.7 L1053.8 731.8 L1059.6 729.8 L1065.6 727.9 L1071.9 725.9 L1078.3 724.0 L1084.8 722.2 L1091.2 720.5 L1097.6 718.9 L1103.8 717.5 L1109.8 716.3 L1115.5 715.3 L1120.8 714.5 L1125.7 714.0 L1130.2 713.7 L1134.5 713.6 L1138.5 713.7 L1142.4 713.9 L1146.2 714.3 L1150.0 714.9 L1153.9 715.6 L1158.0 716.4 L1162.3 717.4 L1166.8 718.5 L1171.7 719.7 L1177.1 721.1 L1183.1 722.9 L1189.6 725.0 L1196.3 727.4 L1203.2 729.9 L1210.1 732.4 L1216.8 734.9 L1223.2 737.3 L1229.1 739.6 L1234.3 741.6 L1238.8 743.3 L1242.3 744.6 L1244.4 738.8 L1240.9 737.5 L1236.5 735.8 L1231.3 733.8 L1225.4 731.6 L1219.0 729.1 L1212.3 726.6 L1205.3 724.0 L1198.4 721.5 L1191.5 719.2 L1185.0 717.0 L1178.8 715.2 L1173.3 713.7 L1168.3 712.4 L1163.7 711.3 L1159.3 710.4 L1155.1 709.5 L1151.0 708.8 L1147.0 708.2 L1142.9 707.8 L1138.7 707.5 L1134.4 707.4 L1129.9 707.6 L1125.2 707.9 L1120.0 708.4 L1114.5 709.1 L1108.6 710.2 L1102.5 711.5 L1096.2 712.9 L1089.7 714.6 L1083.1 716.5 L1076.6 718.4 L1070.2 720.5 L1063.9 722.5 L1057.8 724.7 L1052.0 726.7 L1046.6 728.8 L1041.5 730.8 L1036.8 732.8 L1032.3 734.8 L1028.0 736.8 L1023.9 738.9 L1019.9 741.1 L1015.9 743.3 L1011.8 745.7 L1007.7 748.2 L1003.5 750.8 L999.1 753.7 L994.4 756.7 L989.2 760.2 L983.6 764.1 L977.7 768.4 L971.5 773.0 L965.3 777.7 L959.1 782.4 L953.1 787.1 L947.4 791.5 L942.2 795.7 L937.6 799.3 L933.7 802.5 L930.7 805.0 Z"/><path d="M899.6 760.6 L902.7 760.0 L906.5 759.0 L911.1 757.8 L916.2 756.3 L921.7 754.8 L927.5 753.1 L933.3 751.5 L939.1 750.0 L944.6 748.6 L949.8 747.4 L954.4 746.5 L958.2 745.8 L961.4 745.5 L964.4 745.4 L967.0 745.6 L969.4 745.9 L971.6 746.3 L973.6 746.9 L975.5 747.6 L977.3 748.3 L979.0 749.0 L980.8 749.7 L982.6 750.4 L984.4 751.0 L986.1 751.4 L987.6 752.0 L989.1 752.5 L990.5 753.1 L991.8 753.7 L993.1 754.3 L994.2 754.9 L995.3 755.4 L996.3 755.9 L997.2 756.4 L998.0 756.8 L998.7 757.1 L1000.5 753.3 L999.8 753.0 L999.1 752.7 L998.2 752.2 L997.2 751.7 L996.1 751.1 L994.9 750.5 L993.6 749.9 L992.1 749.3 L990.6 748.7 L989.0 748.1 L987.3 747.5 L985.6 747.0 L984.0 746.4 L982.3 745.8 L980.6 745.1 L978.8 744.4 L976.9 743.7 L974.8 742.9 L972.5 742.3 L970.1 741.8 L967.4 741.4 L964.4 741.3 L961.2 741.3 L957.6 741.7 L953.6 742.4 L948.9 743.5 L943.7 745.0 L938.2 746.6 L932.4 748.5 L926.6 750.4 L921.0 752.3 L915.5 754.2 L910.5 756.0 L906.1 757.7 L902.3 759.0 L899.5 760.2 Z"/><path d="M1074.6 767.9 L1077.4 767.6 L1081.0 767.1 L1085.3 766.4 L1090.2 765.6 L1095.4 764.7 L1100.8 763.7 L1106.3 762.6 L1111.7 761.5 L1116.9 760.4 L1121.6 759.3 L1125.9 758.2 L1129.4 757.2 L1132.4 756.1 L1134.9 755.0 L1137.1 753.9 L1139.0 752.8 L1140.7 751.7 L1142.2 750.6 L1143.5 749.4 L1144.7 748.2 L1145.8 747.0 L1146.9 745.7 L1147.9 744.4 L1149.1 743.0 L1150.4 741.3 L1151.6 739.5 L1152.8 737.5 L1153.8 735.4 L1154.8 733.3 L1155.8 731.2 L1156.7 729.2 L1157.5 727.3 L1158.2 725.5 L1158.8 724.0 L1159.3 722.7 L1159.8 721.7 L1156.0 720.0 L1155.5 721.0 L1155.0 722.4 L1154.3 724.0 L1153.6 725.7 L1152.8 727.6 L1152.0 729.6 L1151.1 731.6 L1150.1 733.6 L1149.1 735.5 L1148.1 737.3 L1147.0 738.9 L1145.9 740.4 L1144.7 741.7 L1143.7 743.0 L1142.7 744.2 L1141.7 745.3 L1140.6 746.4 L1139.5 747.4 L1138.3 748.3 L1136.8 749.3 L1135.2 750.2 L1133.2 751.2 L1130.8 752.2 L1128.1 753.3 L1124.7 754.4 L1120.7 755.7 L1116.0 757.0 L1110.9 758.3 L1105.6 759.6 L1100.2 760.9 L1094.9 762.2 L1089.7 763.5 L1085.0 764.6 L1080.7 765.7 L1077.2 766.6 L1074.5 767.5 Z"/><path d="M1087.1 740.8 L1088.2 741.0 L1089.6 741.1 L1091.3 741.1 L1093.2 741.2 L1095.2 741.2 L1097.4 741.2 L1099.6 741.3 L1101.8 741.5 L1103.9 741.7 L1106.0 742.0 L1107.9 742.4 L1109.5 743.0 L1111.2 743.7 L1112.9 744.6 L1114.6 745.7 L1116.4 746.9 L1118.2 748.3 L1119.9 749.6 L1121.5 751.0 L1123.1 752.3 L1124.5 753.6 L1125.8 754.7 L1126.9 755.6 L1127.9 756.4 L1129.6 754.1 L1128.8 753.4 L1127.7 752.5 L1126.4 751.4 L1125.0 750.1 L1123.4 748.8 L1121.7 747.4 L1119.9 746.0 L1118.1 744.6 L1116.2 743.3 L1114.3 742.1 L1112.4 741.1 L1110.5 740.4 L1108.5 739.8 L1106.3 739.5 L1104.1 739.3 L1101.9 739.2 L1099.6 739.3 L1097.4 739.4 L1095.2 739.5 L1093.1 739.7 L1091.3 739.9 L1089.6 740.1 L1088.2 740.2 L1087.1 740.4 Z"/><path d="M1063.2 807.5 L1065.0 807.5 L1067.3 807.3 L1070.0 806.9 L1073.1 806.5 L1076.4 806.1 L1079.9 805.6 L1083.4 805.2 L1086.9 804.9 L1090.4 804.6 L1093.7 804.6 L1096.7 804.7 L1099.3 805.0 L1101.7 805.5 L1104.1 806.2 L1106.3 807.1 L1108.5 808.0 L1110.6 809.1 L1112.7 810.3 L1114.8 811.6 L1116.8 813.0 L1118.9 814.4 L1121.0 815.9 L1123.1 817.4 L1125.2 818.9 L1127.2 820.3 L1129.2 821.8 L1131.1 823.4 L1132.9 825.0 L1134.8 826.6 L1136.7 828.3 L1138.7 830.0 L1140.7 831.8 L1142.8 833.7 L1145.0 835.7 L1147.3 837.7 L1149.8 839.7 L1152.5 842.0 L1155.5 844.5 L1158.8 847.1 L1162.2 849.9 L1165.6 852.8 L1169.1 855.6 L1172.5 858.4 L1175.7 861.0 L1178.6 863.5 L1181.3 865.6 L1183.5 867.5 L1185.2 868.9 L1188.9 864.4 L1187.2 863.0 L1185.0 861.1 L1182.3 859.0 L1179.4 856.5 L1176.2 853.9 L1172.8 851.1 L1169.3 848.3 L1165.9 845.4 L1162.5 842.6 L1159.2 840.0 L1156.2 837.5 L1153.5 835.3 L1151.1 833.2 L1148.8 831.3 L1146.7 829.4 L1144.6 827.5 L1142.6 825.7 L1140.6 823.9 L1138.6 822.2 L1136.6 820.6 L1134.6 819.0 L1132.5 817.4 L1130.4 815.9 L1128.2 814.5 L1126.0 813.1 L1123.8 811.7 L1121.6 810.3 L1119.4 808.9 L1117.2 807.6 L1115.0 806.3 L1112.7 805.2 L1110.3 804.1 L1107.8 803.1 L1105.3 802.3 L1102.6 801.7 L1099.8 801.2 L1096.8 801.0 L1093.6 801.1 L1090.2 801.4 L1086.6 801.8 L1083.0 802.4 L1079.5 803.1 L1076.0 803.8 L1072.7 804.6 L1069.7 805.3 L1067.1 806.0 L1064.8 806.6 L1063.1 807.1 Z"/><path d="M895.4 936.7 L897.5 937.0 L900.1 937.5 L903.1 938.0 L906.6 938.6 L910.3 939.2 L914.3 939.8 L918.5 940.3 L922.7 940.8 L927.0 941.1 L931.3 941.2 L935.4 941.2 L939.3 940.9 L943.2 940.3 L947.0 939.6 L950.9 938.7 L954.9 937.6 L958.8 936.4 L962.7 935.2 L966.7 933.8 L970.6 932.4 L974.4 931.0 L978.2 929.6 L982.0 928.1 L985.7 926.8 L989.3 925.4 L993.0 923.9 L996.5 922.4 L1000.1 920.8 L1003.5 919.3 L1007.0 917.7 L1010.4 916.1 L1013.9 914.5 L1017.3 912.9 L1020.7 911.4 L1024.1 909.9 L1027.6 908.4 L1031.0 907.0 L1034.3 905.6 L1037.6 904.2 L1040.8 902.9 L1043.9 901.6 L1047.2 900.3 L1050.5 899.0 L1053.9 897.6 L1057.4 896.3 L1061.1 895.0 L1065.0 893.6 L1069.2 892.2 L1073.7 890.7 L1078.5 889.1 L1083.4 887.4 L1088.6 885.7 L1093.8 883.9 L1099.2 882.2 L1104.6 880.6 L1110.1 879.0 L1115.5 877.5 L1120.9 876.2 L1126.2 875.0 L1131.4 874.0 L1136.5 873.2 L1141.6 872.6 L1146.7 872.0 L1151.8 871.6 L1156.8 871.3 L1161.9 871.1 L1167.1 870.9 L1172.2 870.8 L1177.4 870.8 L1182.6 870.8 L1187.9 870.9 L1193.3 871.0 L1198.6 871.1 L1204.0 871.2 L1209.3 871.4 L1214.7 871.6 L1220.1 871.9 L1225.5 872.2 L1231.0 872.6 L1236.5 873.1 L1242.1 873.7 L1247.8 874.4 L1253.6 875.2 L1259.5 876.2 L1265.7 877.3 L1272.5 878.7 L1279.7 880.3 L1287.1 882.1 L1294.6 883.9 L1302.1 885.8 L1309.3 887.7 L1316.2 889.5 L1322.5 891.2 L1328.1 892.7 L1332.9 893.9 L1336.7 894.9 L1338.3 888.5 L1334.5 887.6 L1329.8 886.3 L1324.2 884.8 L1317.8 883.2 L1311.0 881.3 L1303.7 879.5 L1296.2 877.5 L1288.7 875.7 L1281.2 873.9 L1273.9 872.3 L1267.0 870.8 L1260.5 869.7 L1254.5 868.7 L1248.6 867.9 L1242.8 867.2 L1237.1 866.6 L1231.5 866.1 L1226.0 865.7 L1220.5 865.3 L1215.0 865.0 L1209.6 864.8 L1204.2 864.7 L1198.8 864.5 L1193.4 864.4 L1188.0 864.3 L1182.7 864.3 L1177.4 864.3 L1172.2 864.3 L1166.9 864.3 L1161.7 864.5 L1156.5 864.7 L1151.3 865.1 L1146.0 865.5 L1140.8 866.1 L1135.6 866.8 L1130.3 867.6 L1124.9 868.7 L1119.4 870.0 L1113.9 871.4 L1108.4 873.0 L1102.8 874.7 L1097.4 876.5 L1092.0 878.3 L1086.7 880.2 L1081.6 882.0 L1076.6 883.7 L1071.9 885.4 L1067.4 887.0 L1063.2 888.5 L1059.3 889.9 L1055.5 891.4 L1052.0 892.8 L1048.5 894.2 L1045.2 895.6 L1042.0 897.0 L1038.8 898.3 L1035.6 899.7 L1032.4 901.2 L1029.1 902.6 L1025.7 904.1 L1022.3 905.6 L1018.8 907.2 L1015.4 908.9 L1012.0 910.5 L1008.6 912.2 L1005.2 913.8 L1001.8 915.5 L998.3 917.1 L994.9 918.7 L991.4 920.3 L987.9 921.8 L984.3 923.2 L980.7 924.7 L976.9 926.2 L973.2 927.7 L969.4 929.2 L965.5 930.7 L961.7 932.1 L957.8 933.5 L954.0 934.8 L950.2 935.9 L946.4 936.9 L942.7 937.7 L939.0 938.3 L935.2 938.7 L931.2 938.9 L927.1 938.9 L922.9 938.7 L918.7 938.4 L914.5 938.1 L910.5 937.7 L906.8 937.3 L903.3 936.9 L900.2 936.5 L897.6 936.3 L895.4 936.3 Z"/><path d="M1039.1 835.6 L1040.5 836.2 L1042.2 836.8 L1044.2 837.6 L1046.4 838.5 L1048.9 839.4 L1051.6 840.3 L1054.3 841.2 L1057.1 842.1 L1060.0 842.8 L1062.8 843.4 L1065.6 843.8 L1068.3 844.0 L1070.9 843.9 L1073.6 843.7 L1076.2 843.3 L1078.8 842.8 L1081.5 842.2 L1084.1 841.5 L1086.8 840.8 L1089.4 840.0 L1092.1 839.2 L1094.7 838.5 L1097.3 837.7 L1100.0 837.0 L1102.8 836.4 L1105.8 835.6 L1109.0 834.8 L1112.2 834.0 L1115.4 833.2 L1118.6 832.4 L1121.7 831.6 L1124.6 830.9 L1127.3 830.2 L1129.7 829.6 L1131.7 829.1 L1133.3 828.7 L1132.5 825.5 L1130.9 825.9 L1128.9 826.4 L1126.5 827.0 L1123.8 827.7 L1120.9 828.4 L1117.8 829.2 L1114.6 830.0 L1111.4 830.8 L1108.1 831.6 L1105.0 832.4 L1102.0 833.1 L1099.2 833.8 L1096.5 834.5 L1093.8 835.3 L1091.1 836.1 L1088.5 836.9 L1085.9 837.7 L1083.3 838.6 L1080.7 839.3 L1078.2 840.0 L1075.7 840.6 L1073.2 841.0 L1070.8 841.3 L1068.3 841.5 L1065.8 841.4 L1063.2 841.1 L1060.4 840.7 L1057.6 840.1 L1054.8 839.5 L1052.0 838.7 L1049.4 838.0 L1046.9 837.2 L1044.5 836.5 L1042.5 835.9 L1040.7 835.5 L1039.2 835.2 Z"/><path d="M910.0 891.9 L912.7 891.4 L916.1 890.7 L920.0 889.8 L924.3 888.8 L929.1 887.7 L934.1 886.5 L939.3 885.3 L944.5 884.2 L949.8 883.1 L954.9 882.2 L959.8 881.4 L964.4 880.8 L968.8 880.3 L973.1 879.9 L977.5 879.6 L981.8 879.4 L986.1 879.2 L990.4 879.1 L994.7 879.1 L998.9 879.2 L1003.2 879.3 L1007.5 879.5 L1011.8 879.8 L1016.0 880.2 L1020.5 880.7 L1025.2 881.5 L1030.1 882.4 L1035.1 883.5 L1040.1 884.6 L1045.0 885.8 L1049.8 887.0 L1054.3 888.2 L1058.4 889.2 L1062.1 890.2 L1065.3 891.0 L1067.9 891.6 L1068.8 887.6 L1066.3 887.0 L1063.2 886.2 L1059.5 885.2 L1055.4 884.1 L1050.8 883.0 L1046.0 881.8 L1041.1 880.6 L1036.0 879.4 L1030.9 878.3 L1025.9 877.4 L1021.0 876.6 L1016.5 876.1 L1012.1 875.7 L1007.7 875.4 L1003.4 875.2 L999.0 875.0 L994.6 875.0 L990.3 875.2 L985.9 875.4 L981.6 875.6 L977.2 876.0 L972.8 876.4 L968.4 877.0 L964.0 877.6 L959.3 878.3 L954.4 879.3 L949.2 880.4 L944.0 881.7 L938.7 883.0 L933.6 884.4 L928.6 885.8 L923.9 887.2 L919.6 888.5 L915.8 889.6 L912.5 890.6 L910.0 891.5 Z"/><path d="M947.5 916.9 L948.9 917.1 L950.8 917.3 L953.0 917.5 L955.5 917.6 L958.2 917.8 L961.0 918.0 L963.9 918.2 L966.7 918.4 L969.5 918.6 L972.1 918.8 L974.5 919.0 L976.5 919.2 L978.3 919.4 L980.1 919.7 L981.8 920.1 L983.4 920.4 L985.0 920.8 L986.4 921.3 L987.8 921.7 L989.0 922.1 L990.2 922.4 L991.2 922.8 L992.2 923.1 L992.9 923.3 L993.7 920.5 L993.0 920.3 L992.1 920.0 L991.1 919.7 L989.9 919.3 L988.6 918.9 L987.2 918.5 L985.7 918.0 L984.1 917.6 L982.4 917.2 L980.6 916.8 L978.8 916.5 L976.8 916.3 L974.7 916.1 L972.3 915.9 L969.6 915.9 L966.8 915.8 L964.0 915.8 L961.1 915.9 L958.2 915.9 L955.5 916.0 L953.0 916.1 L950.8 916.2 L949.0 916.3 L947.5 916.5 Z"/><path d="M1004.7 1047.1 L1006.7 1048.3 L1009.2 1049.7 L1012.2 1051.4 L1015.6 1053.2 L1019.2 1055.2 L1023.1 1057.3 L1027.2 1059.5 L1031.3 1061.7 L1035.4 1063.9 L1039.4 1066.0 L1043.3 1068.0 L1046.9 1069.9 L1050.4 1071.8 L1053.8 1073.6 L1057.3 1075.5 L1060.8 1077.3 L1064.2 1079.1 L1067.6 1081.0 L1071.1 1082.8 L1074.5 1084.6 L1078.0 1086.3 L1081.4 1088.0 L1084.9 1089.7 L1088.4 1091.3 L1091.8 1092.9 L1095.2 1094.5 L1098.5 1096.1 L1101.8 1097.7 L1105.1 1099.2 L1108.5 1100.7 L1111.9 1102.2 L1115.4 1103.6 L1118.9 1105.0 L1122.6 1106.2 L1126.3 1107.4 L1130.2 1108.5 L1134.1 1109.6 L1138.0 1110.6 L1142.0 1111.6 L1146.0 1112.5 L1150.0 1113.4 L1154.2 1114.2 L1158.6 1114.9 L1163.0 1115.5 L1167.7 1116.0 L1172.6 1116.3 L1177.7 1116.4 L1183.0 1116.4 L1188.6 1116.2 L1194.3 1115.9 L1200.3 1115.5 L1206.6 1115.0 L1212.9 1114.3 L1219.5 1113.5 L1226.1 1112.6 L1232.9 1111.4 L1239.8 1110.1 L1246.8 1108.6 L1253.8 1106.8 L1260.8 1104.9 L1268.3 1102.5 L1276.3 1099.6 L1284.8 1096.2 L1293.5 1092.6 L1302.3 1088.8 L1311.0 1085.0 L1319.4 1081.2 L1327.4 1077.5 L1334.7 1074.1 L1341.3 1071.1 L1346.8 1068.6 L1351.2 1066.7 L1348.8 1061.3 L1344.4 1063.3 L1338.8 1065.8 L1332.3 1068.8 L1325.0 1072.2 L1317.0 1075.9 L1308.6 1079.7 L1300.0 1083.5 L1291.2 1087.3 L1282.6 1090.8 L1274.3 1094.1 L1266.4 1097.0 L1259.2 1099.3 L1252.3 1101.2 L1245.5 1102.9 L1238.6 1104.4 L1231.9 1105.7 L1225.3 1106.8 L1218.7 1107.8 L1212.3 1108.5 L1206.0 1109.2 L1199.9 1109.7 L1194.0 1110.1 L1188.3 1110.5 L1182.8 1110.7 L1177.7 1110.8 L1172.8 1110.8 L1168.1 1110.6 L1163.6 1110.2 L1159.3 1109.7 L1155.1 1109.1 L1151.0 1108.4 L1147.0 1107.6 L1143.1 1106.8 L1139.2 1105.8 L1135.3 1104.9 L1131.4 1104.0 L1127.6 1103.0 L1124.0 1101.9 L1120.4 1100.7 L1117.0 1099.5 L1113.6 1098.2 L1110.2 1096.8 L1106.9 1095.4 L1103.5 1093.9 L1100.2 1092.4 L1096.8 1090.9 L1093.4 1089.4 L1090.0 1087.8 L1086.5 1086.3 L1083.0 1084.7 L1079.6 1083.1 L1076.1 1081.4 L1072.6 1079.7 L1069.2 1078.0 L1065.7 1076.3 L1062.2 1074.5 L1058.7 1072.8 L1055.2 1071.0 L1051.6 1069.3 L1048.1 1067.6 L1044.4 1065.7 L1040.5 1063.8 L1036.4 1061.8 L1032.2 1059.8 L1028.1 1057.7 L1024.0 1055.7 L1020.0 1053.8 L1016.2 1052.0 L1012.8 1050.3 L1009.7 1048.8 L1007.0 1047.6 L1004.9 1046.7 Z"/><path d="M1067.3 1006.4 L1069.3 1006.9 L1071.8 1007.3 L1074.7 1007.7 L1077.9 1008.1 L1081.5 1008.6 L1085.3 1009.1 L1089.2 1009.6 L1093.3 1010.2 L1097.5 1010.9 L1101.6 1011.6 L1105.7 1012.3 L1109.7 1013.1 L1113.7 1014.1 L1118.1 1015.1 L1122.6 1016.2 L1127.3 1017.5 L1132.1 1018.7 L1136.8 1020.0 L1141.5 1021.3 L1146.0 1022.7 L1150.3 1024.0 L1154.4 1025.2 L1158.0 1026.4 L1161.2 1027.5 L1164.0 1028.5 L1166.4 1029.4 L1168.3 1030.1 L1169.9 1030.7 L1171.3 1031.3 L1172.5 1031.8 L1173.6 1032.5 L1174.7 1033.2 L1175.9 1034.2 L1177.3 1035.3 L1179.0 1036.8 L1180.9 1038.6 L1183.1 1040.7 L1185.5 1043.2 L1188.0 1045.9 L1190.7 1048.9 L1193.4 1052.1 L1196.2 1055.4 L1199.0 1058.8 L1201.7 1062.2 L1204.4 1065.6 L1207.1 1068.8 L1209.6 1071.9 L1211.9 1074.8 L1214.2 1077.5 L1216.5 1080.4 L1218.7 1083.2 L1221.0 1086.1 L1223.2 1088.9 L1225.3 1091.6 L1227.3 1094.2 L1229.1 1096.6 L1230.8 1098.8 L1232.4 1100.8 L1233.7 1102.5 L1234.8 1103.9 L1239.4 1100.3 L1238.3 1098.9 L1237.0 1097.2 L1235.5 1095.2 L1233.8 1093.0 L1231.9 1090.6 L1229.9 1088.0 L1227.8 1085.3 L1225.6 1082.5 L1223.3 1079.6 L1221.0 1076.7 L1218.7 1073.9 L1216.4 1071.1 L1214.1 1068.2 L1211.6 1065.1 L1209.0 1061.9 L1206.2 1058.5 L1203.5 1055.1 L1200.7 1051.7 L1197.8 1048.4 L1195.1 1045.1 L1192.4 1042.0 L1189.7 1039.2 L1187.2 1036.6 L1184.9 1034.3 L1182.9 1032.5 L1181.1 1030.9 L1179.5 1029.6 L1178.0 1028.5 L1176.6 1027.6 L1175.1 1026.8 L1173.6 1026.1 L1172.0 1025.4 L1170.2 1024.8 L1168.1 1024.1 L1165.7 1023.4 L1162.9 1022.5 L1159.6 1021.4 L1155.8 1020.3 L1151.7 1019.2 L1147.3 1018.0 L1142.7 1016.8 L1138.0 1015.7 L1133.1 1014.5 L1128.3 1013.4 L1123.5 1012.4 L1118.9 1011.4 L1114.5 1010.5 L1110.3 1009.8 L1106.3 1009.1 L1102.1 1008.5 L1097.9 1008.0 L1093.6 1007.6 L1089.5 1007.2 L1085.5 1006.9 L1081.7 1006.6 L1078.1 1006.4 L1074.8 1006.3 L1071.9 1006.1 L1069.4 1006.0 L1067.3 1006.1 Z"/><path d="M1079.8 1050.2 L1081.5 1050.5 L1083.6 1050.7 L1086.1 1051.0 L1088.9 1051.4 L1092.0 1051.7 L1095.2 1052.0 L1098.6 1052.2 L1101.9 1052.5 L1105.3 1052.6 L1108.5 1052.7 L1111.5 1052.6 L1114.3 1052.4 L1116.9 1052.1 L1119.4 1051.7 L1121.9 1051.2 L1124.3 1050.6 L1126.7 1050.0 L1129.0 1049.3 L1131.2 1048.5 L1133.4 1047.7 L1135.6 1046.9 L1137.7 1046.0 L1139.8 1045.1 L1141.9 1044.2 L1144.1 1043.3 L1146.3 1042.2 L1148.6 1041.1 L1150.8 1039.9 L1153.1 1038.6 L1155.2 1037.4 L1157.3 1036.2 L1159.2 1035.0 L1161.0 1034.0 L1162.6 1033.1 L1163.9 1032.3 L1165.0 1031.7 L1163.3 1028.8 L1162.2 1029.4 L1160.9 1030.2 L1159.3 1031.1 L1157.5 1032.2 L1155.6 1033.3 L1153.6 1034.5 L1151.4 1035.7 L1149.2 1036.9 L1147.0 1038.1 L1144.8 1039.2 L1142.7 1040.3 L1140.6 1041.2 L1138.5 1042.0 L1136.4 1042.9 L1134.3 1043.8 L1132.2 1044.6 L1130.1 1045.4 L1127.9 1046.1 L1125.7 1046.9 L1123.5 1047.6 L1121.2 1048.2 L1118.9 1048.8 L1116.5 1049.3 L1114.0 1049.7 L1111.4 1050.0 L1108.4 1050.1 L1105.3 1050.2 L1102.0 1050.2 L1098.7 1050.2 L1095.3 1050.1 L1092.1 1050.0 L1089.0 1049.9 L1086.2 1049.8 L1083.7 1049.7 L1081.5 1049.7 L1079.8 1049.8 Z"/><path d="M1051.6 1049.8 L1052.3 1050.4 L1053.3 1051.2 L1054.5 1052.1 L1055.8 1053.1 L1057.3 1054.1 L1058.9 1055.3 L1060.4 1056.4 L1062.0 1057.5 L1063.6 1058.6 L1065.0 1059.7 L1066.4 1060.6 L1067.6 1061.5 L1068.6 1062.3 L1069.7 1063.0 L1070.6 1063.7 L1071.5 1064.3 L1072.3 1064.8 L1073.0 1065.4 L1073.8 1065.9 L1074.5 1066.5 L1075.2 1067.2 L1075.9 1067.9 L1076.6 1068.8 L1077.4 1069.8 L1078.3 1070.9 L1079.2 1072.4 L1080.2 1074.0 L1081.2 1075.7 L1082.1 1077.6 L1083.1 1079.4 L1084.1 1081.3 L1085.0 1083.0 L1085.8 1084.6 L1086.5 1086.1 L1087.2 1087.3 L1087.7 1088.3 L1090.6 1086.7 L1090.1 1085.8 L1089.5 1084.6 L1088.8 1083.1 L1088.0 1081.5 L1087.0 1079.7 L1086.1 1077.9 L1085.1 1076.0 L1084.1 1074.1 L1083.0 1072.3 L1082.0 1070.6 L1081.0 1069.1 L1080.1 1067.7 L1079.2 1066.6 L1078.3 1065.6 L1077.4 1064.8 L1076.6 1064.1 L1075.7 1063.4 L1074.8 1062.8 L1074.0 1062.3 L1073.1 1061.7 L1072.2 1061.2 L1071.2 1060.6 L1070.2 1060.0 L1069.1 1059.3 L1067.8 1058.5 L1066.4 1057.6 L1064.9 1056.7 L1063.2 1055.7 L1061.5 1054.7 L1059.8 1053.7 L1058.2 1052.8 L1056.6 1051.9 L1055.1 1051.1 L1053.8 1050.4 L1052.7 1049.8 L1051.8 1049.4 Z"/><path d="M1021.4 1096.0 L1023.1 1097.1 L1025.4 1098.4 L1028.1 1099.9 L1031.1 1101.5 L1034.4 1103.3 L1037.9 1105.2 L1041.5 1107.0 L1045.0 1108.9 L1048.5 1110.6 L1051.7 1112.2 L1054.7 1113.7 L1057.3 1114.9 L1059.5 1116.0 L1061.5 1116.9 L1063.3 1117.8 L1064.9 1118.6 L1066.5 1119.3 L1068.0 1120.0 L1069.5 1120.6 L1071.1 1121.2 L1072.7 1121.7 L1074.5 1122.1 L1076.4 1122.4 L1078.6 1122.7 L1080.8 1122.9 L1083.2 1123.1 L1085.6 1123.1 L1088.2 1123.1 L1090.7 1123.0 L1093.4 1122.8 L1096.1 1122.6 L1098.8 1122.3 L1101.6 1122.0 L1104.5 1121.6 L1107.4 1121.2 L1110.3 1120.8 L1113.5 1120.3 L1117.0 1119.7 L1120.6 1119.0 L1124.5 1118.2 L1128.3 1117.3 L1132.2 1116.5 L1135.9 1115.6 L1139.5 1114.8 L1142.7 1114.1 L1145.6 1113.4 L1148.1 1112.9 L1150.0 1112.5 L1149.1 1108.4 L1147.2 1108.8 L1144.7 1109.4 L1141.8 1110.0 L1138.5 1110.8 L1135.0 1111.6 L1131.3 1112.4 L1127.5 1113.3 L1123.6 1114.1 L1119.8 1114.9 L1116.2 1115.6 L1112.8 1116.2 L1109.7 1116.7 L1106.8 1117.1 L1103.9 1117.5 L1101.1 1117.9 L1098.4 1118.2 L1095.7 1118.5 L1093.0 1118.7 L1090.5 1118.9 L1088.0 1119.0 L1085.6 1119.1 L1083.3 1119.1 L1081.1 1119.1 L1078.9 1118.9 L1077.0 1118.7 L1075.2 1118.5 L1073.6 1118.2 L1072.1 1117.8 L1070.7 1117.3 L1069.3 1116.8 L1067.9 1116.2 L1066.3 1115.6 L1064.7 1114.8 L1062.8 1114.0 L1060.8 1113.1 L1058.5 1112.2 L1055.9 1111.0 L1052.9 1109.7 L1049.6 1108.2 L1046.1 1106.7 L1042.5 1105.0 L1038.8 1103.3 L1035.3 1101.7 L1031.8 1100.1 L1028.7 1098.6 L1025.9 1097.4 L1023.5 1096.3 L1021.5 1095.7 Z"/><path d="M913.2 1202.3 L915.2 1202.0 L917.8 1201.6 L920.8 1201.1 L924.2 1200.4 L927.8 1199.7 L931.7 1199.0 L935.6 1198.2 L939.6 1197.5 L943.5 1196.8 L947.3 1196.1 L950.8 1195.5 L954.0 1195.0 L956.9 1194.6 L959.6 1194.3 L962.2 1193.9 L964.7 1193.6 L967.1 1193.4 L969.5 1193.1 L971.9 1192.9 L974.3 1192.8 L976.8 1192.6 L979.4 1192.5 L982.1 1192.4 L985.1 1192.4 L988.1 1192.3 L991.4 1192.3 L994.7 1192.3 L998.1 1192.3 L1001.6 1192.4 L1005.1 1192.5 L1008.7 1192.6 L1012.3 1192.8 L1015.9 1193.0 L1019.5 1193.2 L1023.0 1193.5 L1026.4 1193.9 L1029.9 1194.3 L1033.3 1194.7 L1036.8 1195.2 L1040.2 1195.8 L1043.6 1196.3 L1047.1 1196.9 L1050.5 1197.6 L1053.9 1198.3 L1057.4 1199.1 L1060.8 1199.8 L1064.3 1200.7 L1067.7 1201.5 L1071.0 1202.5 L1074.2 1203.5 L1077.3 1204.7 L1080.4 1205.9 L1083.6 1207.2 L1086.8 1208.5 L1090.1 1209.8 L1093.6 1211.1 L1097.2 1212.4 L1101.1 1213.5 L1105.1 1214.6 L1109.4 1215.5 L1114.0 1216.3 L1118.9 1217.1 L1124.0 1217.9 L1129.3 1218.7 L1134.7 1219.4 L1140.3 1219.9 L1145.9 1220.4 L1151.5 1220.8 L1157.0 1221.1 L1162.4 1221.2 L1167.7 1221.2 L1172.7 1221.0 L1177.6 1220.6 L1182.4 1220.1 L1187.2 1219.4 L1191.9 1218.5 L1196.5 1217.6 L1201.0 1216.5 L1205.4 1215.4 L1209.7 1214.2 L1213.9 1213.0 L1218.0 1211.8 L1221.8 1210.6 L1225.6 1209.4 L1229.2 1208.2 L1232.4 1207.0 L1235.5 1205.8 L1238.4 1204.5 L1241.1 1203.2 L1243.8 1201.9 L1246.5 1200.5 L1249.2 1199.1 L1252.0 1197.6 L1254.9 1196.0 L1258.1 1194.3 L1261.5 1192.5 L1265.4 1190.4 L1269.8 1188.1 L1274.4 1185.5 L1279.3 1182.7 L1284.3 1179.9 L1289.3 1177.1 L1294.2 1174.3 L1298.8 1171.7 L1303.1 1169.3 L1306.9 1167.1 L1310.1 1165.3 L1312.6 1163.9 L1309.4 1158.1 L1306.9 1159.6 L1303.6 1161.4 L1299.8 1163.6 L1295.6 1166.0 L1291.0 1168.6 L1286.1 1171.4 L1281.1 1174.2 L1276.1 1177.0 L1271.3 1179.7 L1266.6 1182.3 L1262.3 1184.6 L1258.5 1186.7 L1255.0 1188.5 L1251.8 1190.2 L1248.9 1191.8 L1246.1 1193.3 L1243.5 1194.7 L1240.9 1196.1 L1238.3 1197.3 L1235.7 1198.5 L1233.0 1199.7 L1230.1 1200.8 L1227.0 1202.0 L1223.6 1203.1 L1219.9 1204.3 L1216.0 1205.5 L1212.0 1206.7 L1208.0 1207.9 L1203.8 1209.1 L1199.5 1210.2 L1195.1 1211.2 L1190.6 1212.1 L1186.1 1212.9 L1181.6 1213.6 L1177.0 1214.1 L1172.3 1214.4 L1167.5 1214.6 L1162.5 1214.6 L1157.2 1214.5 L1151.9 1214.2 L1146.4 1213.9 L1140.9 1213.4 L1135.4 1212.9 L1130.1 1212.3 L1124.8 1211.6 L1119.8 1210.9 L1115.0 1210.2 L1110.6 1209.5 L1106.5 1208.7 L1102.6 1207.8 L1099.0 1206.7 L1095.5 1205.6 L1092.2 1204.4 L1088.9 1203.2 L1085.7 1202.0 L1082.5 1200.7 L1079.2 1199.5 L1075.9 1198.4 L1072.5 1197.3 L1069.0 1196.4 L1065.5 1195.6 L1062.0 1194.8 L1058.4 1194.0 L1054.9 1193.4 L1051.4 1192.7 L1047.9 1192.1 L1044.4 1191.6 L1040.9 1191.0 L1037.4 1190.6 L1033.9 1190.2 L1030.4 1189.8 L1026.9 1189.4 L1023.3 1189.2 L1019.7 1188.9 L1016.1 1188.7 L1012.5 1188.6 L1008.8 1188.5 L1005.2 1188.5 L1001.6 1188.5 L998.1 1188.5 L994.7 1188.6 L991.3 1188.7 L988.1 1188.8 L984.9 1188.9 L982.0 1189.0 L979.2 1189.2 L976.6 1189.3 L974.0 1189.6 L971.6 1189.8 L969.2 1190.1 L966.7 1190.4 L964.3 1190.7 L961.8 1191.1 L959.2 1191.5 L956.4 1192.0 L953.5 1192.5 L950.3 1193.1 L946.8 1193.8 L943.1 1194.6 L939.2 1195.4 L935.2 1196.3 L931.3 1197.2 L927.5 1198.2 L923.9 1199.0 L920.5 1199.9 L917.5 1200.6 L915.0 1201.3 L913.1 1201.9 Z"/><path d="M933.9 1138.7 L935.3 1139.1 L937.0 1139.5 L939.0 1140.0 L941.3 1140.4 L943.7 1140.9 L946.3 1141.4 L949.1 1142.0 L952.0 1142.5 L954.9 1143.1 L957.9 1143.7 L960.9 1144.3 L963.9 1145.0 L967.0 1145.6 L970.3 1146.2 L973.8 1146.8 L977.4 1147.5 L981.0 1148.1 L984.7 1148.8 L988.3 1149.5 L991.9 1150.3 L995.5 1151.1 L998.9 1152.0 L1002.2 1152.9 L1005.2 1153.9 L1008.1 1155.0 L1010.9 1156.1 L1013.6 1157.3 L1016.2 1158.5 L1018.8 1159.7 L1021.3 1161.0 L1023.7 1162.3 L1026.1 1163.7 L1028.5 1165.3 L1030.9 1166.9 L1033.4 1168.6 L1035.8 1170.4 L1038.3 1172.4 L1041.0 1174.8 L1043.8 1177.4 L1046.6 1180.1 L1049.4 1182.9 L1052.1 1185.8 L1054.7 1188.6 L1057.2 1191.3 L1059.5 1193.8 L1061.6 1196.0 L1063.3 1197.9 L1064.8 1199.4 L1067.7 1196.5 L1066.4 1195.0 L1064.6 1193.2 L1062.6 1191.0 L1060.3 1188.5 L1057.8 1185.8 L1055.1 1182.9 L1052.4 1180.0 L1049.5 1177.2 L1046.6 1174.3 L1043.8 1171.7 L1041.0 1169.2 L1038.4 1167.1 L1035.8 1165.2 L1033.3 1163.4 L1030.8 1161.8 L1028.3 1160.2 L1025.8 1158.7 L1023.2 1157.3 L1020.6 1155.9 L1018.0 1154.7 L1015.2 1153.5 L1012.4 1152.3 L1009.5 1151.3 L1006.5 1150.2 L1003.2 1149.3 L999.8 1148.4 L996.3 1147.6 L992.6 1146.9 L988.9 1146.2 L985.2 1145.6 L981.5 1145.0 L977.8 1144.5 L974.2 1144.0 L970.8 1143.5 L967.5 1143.0 L964.4 1142.5 L961.4 1142.0 L958.3 1141.5 L955.3 1141.1 L952.3 1140.6 L949.4 1140.2 L946.6 1139.8 L943.9 1139.5 L941.5 1139.1 L939.2 1138.9 L937.2 1138.6 L935.4 1138.4 L934.0 1138.3 Z"/><path d="M900.6 1166.9 L901.7 1167.1 L903.1 1167.2 L904.7 1167.3 L906.5 1167.3 L908.4 1167.4 L910.5 1167.5 L912.6 1167.7 L914.7 1167.8 L916.8 1168.0 L918.8 1168.2 L920.6 1168.5 L922.3 1168.9 L923.8 1169.3 L925.2 1169.7 L926.6 1170.2 L928.0 1170.7 L929.3 1171.3 L930.6 1171.9 L931.8 1172.6 L933.1 1173.2 L934.4 1173.9 L935.7 1174.7 L937.1 1175.4 L938.4 1176.2 L939.8 1177.1 L941.3 1178.1 L942.9 1179.2 L944.5 1180.4 L946.1 1181.6 L947.6 1182.9 L949.2 1184.1 L950.6 1185.2 L951.9 1186.3 L953.1 1187.2 L954.1 1188.0 L954.9 1188.7 L956.7 1186.3 L955.9 1185.7 L954.9 1184.9 L953.8 1184.0 L952.4 1182.9 L951.0 1181.8 L949.4 1180.6 L947.8 1179.3 L946.2 1178.1 L944.6 1176.9 L943.0 1175.7 L941.4 1174.7 L939.9 1173.8 L938.5 1172.9 L937.2 1172.1 L935.8 1171.4 L934.5 1170.7 L933.1 1170.0 L931.7 1169.4 L930.3 1168.8 L928.9 1168.2 L927.5 1167.7 L925.9 1167.3 L924.4 1166.9 L922.7 1166.6 L921.0 1166.3 L919.0 1166.1 L917.0 1166.0 L914.8 1165.9 L912.7 1165.9 L910.5 1165.9 L908.5 1166.0 L906.5 1166.1 L904.7 1166.2 L903.1 1166.2 L901.7 1166.3 L900.6 1166.5 Z"/><path d="M1081.8 1241.9 L1083.2 1242.2 L1084.8 1242.7 L1086.7 1243.2 L1088.9 1243.7 L1091.3 1244.3 L1093.8 1244.9 L1096.5 1245.4 L1099.2 1245.9 L1102.0 1246.4 L1104.7 1246.7 L1107.4 1246.9 L1110.0 1246.9 L1112.6 1246.8 L1115.2 1246.7 L1117.9 1246.4 L1120.5 1246.0 L1123.3 1245.6 L1126.0 1245.1 L1128.7 1244.5 L1131.4 1243.9 L1134.0 1243.2 L1136.6 1242.5 L1139.2 1241.8 L1141.7 1241.0 L1144.2 1240.1 L1146.9 1239.1 L1149.5 1237.9 L1152.2 1236.7 L1154.8 1235.5 L1157.4 1234.2 L1159.8 1233.0 L1162.1 1231.9 L1164.2 1230.8 L1166.1 1229.8 L1167.7 1229.0 L1169.0 1228.4 L1167.7 1225.8 L1166.4 1226.4 L1164.8 1227.2 L1162.9 1228.2 L1160.8 1229.3 L1158.5 1230.4 L1156.1 1231.6 L1153.6 1232.9 L1151.0 1234.1 L1148.4 1235.3 L1145.8 1236.4 L1143.2 1237.4 L1140.8 1238.2 L1138.4 1239.0 L1135.8 1239.7 L1133.3 1240.4 L1130.7 1241.1 L1128.0 1241.8 L1125.4 1242.4 L1122.8 1243.0 L1120.1 1243.5 L1117.5 1243.9 L1115.0 1244.3 L1112.4 1244.6 L1110.0 1244.7 L1107.5 1244.8 L1104.9 1244.7 L1102.2 1244.5 L1099.5 1244.2 L1096.8 1243.8 L1094.1 1243.4 L1091.6 1243.0 L1089.2 1242.5 L1087.0 1242.2 L1085.0 1241.8 L1083.3 1241.6 L1081.9 1241.5 Z"/><path d="M989.2 1309.6 L992.1 1309.4 L995.9 1309.0 L1000.4 1308.4 L1005.4 1307.7 L1010.9 1307.0 L1016.6 1306.3 L1022.3 1305.5 L1028.1 1304.8 L1033.6 1304.1 L1038.9 1303.5 L1043.6 1303.1 L1047.6 1302.7 L1051.2 1302.5 L1054.4 1302.4 L1057.3 1302.3 L1059.9 1302.3 L1062.4 1302.3 L1064.7 1302.5 L1067.0 1302.6 L1069.1 1302.8 L1071.3 1303.1 L1073.6 1303.4 L1075.9 1303.8 L1078.4 1304.1 L1081.0 1304.6 L1083.6 1305.0 L1086.1 1305.5 L1088.7 1306.0 L1091.3 1306.6 L1093.8 1307.3 L1096.4 1308.0 L1099.0 1308.7 L1101.5 1309.6 L1104.1 1310.4 L1106.7 1311.4 L1109.2 1312.3 L1111.9 1313.5 L1114.7 1314.8 L1117.6 1316.2 L1120.6 1317.8 L1123.6 1319.4 L1126.6 1321.1 L1129.4 1322.7 L1132.1 1324.3 L1134.6 1325.7 L1136.8 1327.0 L1138.7 1328.1 L1140.2 1328.9 L1142.3 1325.3 L1140.8 1324.4 L1138.9 1323.4 L1136.7 1322.1 L1134.2 1320.6 L1131.5 1319.1 L1128.6 1317.5 L1125.6 1315.8 L1122.6 1314.1 L1119.5 1312.5 L1116.5 1311.0 L1113.6 1309.7 L1110.8 1308.5 L1108.1 1307.5 L1105.5 1306.5 L1102.8 1305.6 L1100.2 1304.8 L1097.5 1304.0 L1094.9 1303.3 L1092.3 1302.6 L1089.6 1302.0 L1087.0 1301.4 L1084.3 1300.9 L1081.7 1300.4 L1079.1 1300.0 L1076.5 1299.6 L1074.1 1299.3 L1071.8 1299.1 L1069.5 1298.9 L1067.2 1298.7 L1064.9 1298.6 L1062.5 1298.5 L1059.9 1298.6 L1057.2 1298.6 L1054.2 1298.8 L1050.9 1299.0 L1047.4 1299.4 L1043.2 1299.8 L1038.5 1300.4 L1033.3 1301.2 L1027.7 1302.1 L1022.0 1303.0 L1016.2 1304.0 L1010.6 1305.0 L1005.2 1306.0 L1000.2 1306.9 L995.7 1307.8 L992.0 1308.5 L989.1 1309.2 Z"/><path d="M1003.7 1275.2 L1005.8 1275.9 L1008.6 1276.6 L1012.0 1277.4 L1015.7 1278.3 L1019.7 1279.2 L1024.0 1280.2 L1028.3 1281.2 L1032.5 1282.3 L1036.7 1283.4 L1040.5 1284.6 L1044.0 1285.7 L1047.0 1286.8 L1049.6 1287.9 L1052.1 1289.3 L1054.4 1290.8 L1056.7 1292.3 L1058.8 1293.9 L1060.8 1295.5 L1062.6 1297.1 L1064.3 1298.6 L1065.8 1300.0 L1067.2 1301.3 L1068.4 1302.4 L1069.5 1303.2 L1071.3 1300.9 L1070.3 1300.1 L1069.1 1299.1 L1067.8 1297.9 L1066.2 1296.5 L1064.5 1294.9 L1062.6 1293.3 L1060.6 1291.6 L1058.4 1289.9 L1056.0 1288.3 L1053.5 1286.8 L1050.9 1285.3 L1048.0 1284.1 L1044.9 1282.9 L1041.3 1281.8 L1037.3 1280.8 L1033.1 1279.9 L1028.8 1279.0 L1024.4 1278.1 L1020.1 1277.4 L1016.0 1276.7 L1012.2 1276.0 L1008.9 1275.5 L1006.0 1275.1 L1003.8 1274.8 Z"/><path d="M882.9 1312.7 L884.9 1312.8 L887.2 1312.8 L890.0 1312.7 L893.2 1312.5 L896.6 1312.4 L900.2 1312.2 L903.9 1312.1 L907.8 1312.0 L911.6 1311.9 L915.4 1311.9 L919.0 1311.9 L922.5 1312.0 L925.9 1312.2 L929.3 1312.3 L932.7 1312.5 L936.2 1312.7 L939.6 1312.9 L943.1 1313.2 L946.5 1313.5 L949.9 1314.0 L953.4 1314.5 L956.8 1315.2 L960.2 1315.9 L963.5 1316.8 L966.9 1317.9 L970.4 1319.2 L973.9 1320.5 L977.4 1322.0 L980.9 1323.5 L984.4 1325.2 L988.0 1326.9 L991.4 1328.6 L994.9 1330.4 L998.2 1332.1 L1001.5 1333.9 L1004.7 1335.5 L1007.8 1337.2 L1011.0 1339.1 L1014.2 1341.0 L1017.5 1343.0 L1020.7 1345.0 L1023.7 1347.0 L1026.7 1348.9 L1029.5 1350.8 L1032.0 1352.5 L1034.3 1354.0 L1036.2 1355.3 L1037.8 1356.3 L1040.5 1352.1 L1038.9 1351.1 L1037.0 1349.8 L1034.8 1348.3 L1032.2 1346.6 L1029.4 1344.8 L1026.5 1342.8 L1023.3 1340.8 L1020.1 1338.8 L1016.8 1336.7 L1013.5 1334.8 L1010.2 1332.9 L1007.0 1331.1 L1003.8 1329.4 L1000.5 1327.7 L997.2 1325.9 L993.7 1324.2 L990.2 1322.4 L986.6 1320.7 L983.0 1319.0 L979.3 1317.4 L975.7 1315.9 L972.0 1314.5 L968.4 1313.3 L964.8 1312.3 L961.2 1311.5 L957.6 1310.8 L954.0 1310.2 L950.5 1309.8 L946.9 1309.5 L943.4 1309.2 L939.8 1309.0 L936.3 1308.9 L932.8 1308.9 L929.4 1308.9 L925.9 1308.8 L922.5 1308.8 L919.0 1308.9 L915.3 1309.0 L911.5 1309.2 L907.6 1309.5 L903.8 1309.8 L900.0 1310.2 L896.4 1310.5 L893.0 1310.9 L889.9 1311.3 L887.2 1311.6 L884.8 1312.0 L882.9 1312.3 Z"/><path d="M904.8 1337.7 L906.2 1337.9 L907.9 1338.0 L910.0 1338.2 L912.3 1338.3 L914.9 1338.5 L917.5 1338.6 L920.3 1338.7 L923.0 1338.8 L925.8 1338.9 L928.4 1338.9 L930.8 1338.8 L933.0 1338.7 L935.0 1338.6 L937.0 1338.5 L938.9 1338.3 L940.8 1338.1 L942.6 1337.9 L944.4 1337.6 L946.2 1337.3 L947.9 1336.9 L949.6 1336.5 L951.2 1335.9 L952.8 1335.3 L954.4 1334.6 L956.0 1333.8 L957.5 1332.8 L959.1 1331.7 L960.6 1330.4 L962.0 1329.2 L963.4 1327.9 L964.6 1326.6 L965.8 1325.4 L966.9 1324.3 L967.9 1323.3 L968.7 1322.5 L969.3 1321.9 L967.3 1319.8 L966.6 1320.4 L965.8 1321.3 L964.8 1322.3 L963.7 1323.4 L962.6 1324.5 L961.3 1325.8 L960.0 1327.0 L958.7 1328.2 L957.3 1329.4 L955.9 1330.4 L954.5 1331.3 L953.1 1332.0 L951.7 1332.6 L950.2 1333.2 L948.7 1333.7 L947.2 1334.1 L945.6 1334.4 L943.9 1334.8 L942.2 1335.0 L940.5 1335.3 L938.6 1335.6 L936.8 1335.8 L934.8 1336.0 L932.8 1336.3 L930.7 1336.4 L928.3 1336.6 L925.7 1336.7 L923.0 1336.8 L920.3 1336.9 L917.6 1336.9 L914.9 1336.9 L912.4 1337.0 L910.0 1337.0 L907.9 1337.1 L906.2 1337.1 L904.8 1337.3 Z"/><path d="M895.5 642.1 L898.4 641.5 L902.0 640.7 L906.4 639.8 L911.3 638.7 L916.6 637.5 L922.3 636.3 L928.2 635.1 L934.3 633.9 L940.3 632.7 L946.3 631.7 L952.2 630.7 L957.7 629.9 L962.9 629.3 L968.2 628.6 L973.5 627.9 L978.9 627.3 L984.3 626.7 L989.7 626.2 L995.1 625.8 L1000.5 625.6 L1005.9 625.4 L1011.3 625.4 L1016.7 625.6 L1022.1 626.0 L1027.4 626.6 L1032.6 627.3 L1037.8 628.3 L1043.0 629.3 L1048.1 630.5 L1053.2 631.8 L1058.4 633.2 L1063.6 634.4 L1068.8 635.7 L1074.0 637.0 L1079.3 638.4 L1084.6 639.8 L1090.0 641.3 L1095.3 642.8 L1100.7 644.4 L1106.0 646.1 L1111.4 647.8 L1116.9 649.7 L1122.4 651.6 L1127.9 653.7 L1133.6 655.9 L1139.4 658.3 L1145.2 660.8 L1151.2 663.4 L1157.5 666.3 L1164.2 669.5 L1171.1 672.8 L1178.3 676.3 L1185.5 679.9 L1192.7 683.6 L1199.8 687.4 L1206.7 691.2 L1213.3 695.1 L1219.5 698.9 L1225.1 702.6 L1230.2 706.2 L1234.6 709.7 L1238.3 713.2 L1241.6 716.5 L1244.4 719.9 L1246.8 723.2 L1249.0 726.5 L1251.0 729.8 L1253.0 733.1 L1255.0 736.6 L1257.1 740.1 L1259.5 743.8 L1262.3 747.7 L1265.3 751.9 L1268.5 756.1 L1271.9 760.4 L1275.3 764.9 L1278.8 769.5 L1282.4 774.3 L1286.1 779.3 L1289.7 784.5 L1293.3 790.0 L1296.9 795.7 L1300.4 801.7 L1303.8 808.1 L1307.1 814.8 L1310.5 821.9 L1314.0 829.3 L1317.4 837.0 L1320.8 845.0 L1324.2 853.1 L1327.5 861.4 L1330.6 869.8 L1333.6 878.1 L1336.4 886.5 L1339.0 894.7 L1341.4 902.8 L1343.5 911.1 L1345.5 919.7 L1347.2 928.6 L1348.8 937.6 L1350.2 946.5 L1351.4 955.4 L1352.6 964.0 L1353.5 972.2 L1354.3 980.0 L1355.1 987.2 L1355.8 993.7 L1356.4 999.4 L1357.0 1004.2 L1357.5 1008.2 L1357.9 1011.6 L1358.2 1014.4 L1358.4 1016.8 L1358.5 1018.9 L1358.5 1020.8 L1358.4 1022.6 L1358.2 1024.4 L1358.0 1026.3 L1357.6 1028.3 L1357.2 1030.7 L1356.6 1033.6 L1355.8 1036.5 L1354.8 1039.5 L1353.6 1042.4 L1352.4 1045.3 L1351.2 1048.1 L1350.0 1050.9 L1348.9 1053.5 L1347.9 1055.9 L1347.0 1058.1 L1346.4 1060.1 L1346.0 1061.5 L1346.2 1061.2 L1352.3 1061.6 L1352.0 1060.6 L1351.6 1059.9 L1346.4 1063.8 L1346.8 1064.3 L1347.7 1065.2 L1348.6 1066.6 L1349.3 1068.5 L1349.6 1070.6 L1349.4 1072.8 L1348.8 1075.1 L1347.9 1077.7 L1346.7 1080.4 L1345.4 1083.4 L1343.8 1086.5 L1342.2 1089.8 L1340.4 1093.2 L1338.5 1096.7 L1336.6 1100.2 L1334.7 1103.7 L1332.8 1107.1 L1331.0 1110.4 L1329.3 1113.6 L1327.7 1116.7 L1326.2 1119.5 L1324.8 1122.2 L1323.4 1124.7 L1322.0 1127.3 L1320.6 1130.0 L1319.1 1132.8 L1317.4 1135.8 L1315.6 1139.1 L1313.7 1142.8 L1311.5 1146.9 L1309.0 1151.5 L1306.4 1156.7 L1303.6 1162.4 L1300.6 1168.7 L1297.5 1175.4 L1294.3 1182.3 L1290.8 1189.5 L1287.2 1196.8 L1283.4 1204.1 L1279.5 1211.3 L1275.3 1218.4 L1270.9 1225.3 L1266.4 1231.7 L1261.5 1238.0 L1256.3 1244.4 L1250.7 1250.7 L1244.8 1257.0 L1238.8 1263.2 L1232.7 1269.3 L1226.6 1275.2 L1220.6 1280.8 L1214.7 1286.1 L1209.0 1291.1 L1203.6 1295.7 L1198.6 1299.9 L1193.9 1303.6 L1189.6 1306.8 L1185.5 1309.6 L1181.6 1312.0 L1177.9 1314.2 L1174.2 1316.1 L1170.6 1317.8 L1166.9 1319.4 L1163.2 1321.0 L1159.4 1322.6 L1155.3 1324.3 L1151.0 1326.2 L1146.3 1328.2 L1141.4 1330.2 L1136.4 1332.2 L1131.2 1334.2 L1125.9 1336.1 L1120.6 1338.1 L1115.2 1339.9 L1109.9 1341.7 L1104.7 1343.5 L1099.5 1345.1 L1094.5 1346.7 L1089.7 1348.2 L1085.0 1349.5 L1080.4 1350.8 L1075.9 1352.0 L1071.5 1353.1 L1067.2 1354.2 L1062.9 1355.1 L1058.7 1356.1 L1054.4 1357.0 L1050.2 1357.8 L1046.0 1358.6 L1041.7 1359.4 L1037.3 1360.2 L1033.0 1361.1 L1028.8 1362.0 L1024.7 1363.0 L1020.5 1363.9 L1016.3 1364.7 L1012.1 1365.5 L1007.8 1366.2 L1003.5 1366.8 L999.0 1367.3 L994.5 1367.8 L989.8 1368.1 L985.0 1368.3 L980.0 1368.5 L974.7 1368.6 L969.3 1368.6 L963.7 1368.5 L958.0 1368.4 L952.3 1368.2 L946.6 1367.8 L941.0 1367.4 L935.5 1366.8 L930.2 1366.2 L925.1 1365.3 L920.3 1364.4 L915.5 1363.1 L910.8 1361.5 L906.3 1359.7 L901.9 1357.8 L897.7 1355.7 L893.7 1353.6 L890.0 1351.6 L886.6 1349.6 L883.6 1347.9 L880.9 1346.3 L878.8 1345.1 L877.0 1344.2 L876.8 1344.7 L878.5 1345.6 L880.6 1346.8 L883.3 1348.4 L886.3 1350.2 L889.6 1352.3 L893.3 1354.4 L897.3 1356.6 L901.4 1358.7 L905.8 1360.8 L910.4 1362.7 L915.1 1364.3 L920.0 1365.7 L924.9 1366.8 L930.0 1367.7 L935.3 1368.5 L940.9 1369.1 L946.5 1369.7 L952.2 1370.1 L957.9 1370.4 L963.6 1370.7 L969.3 1370.8 L974.7 1370.9 L980.0 1370.9 L985.1 1370.9 L989.9 1370.7 L994.7 1370.5 L999.3 1370.1 L1003.8 1369.7 L1008.2 1369.1 L1012.6 1368.5 L1016.9 1367.7 L1021.1 1366.8 L1025.3 1366.0 L1029.5 1365.1 L1033.7 1364.1 L1037.9 1363.2 L1042.2 1362.4 L1046.5 1361.7 L1050.8 1360.9 L1055.1 1360.1 L1059.3 1359.2 L1063.6 1358.3 L1067.9 1357.3 L1072.3 1356.3 L1076.8 1355.2 L1081.3 1354.0 L1085.9 1352.7 L1090.6 1351.3 L1095.5 1349.9 L1100.5 1348.3 L1105.7 1346.7 L1111.0 1345.0 L1116.4 1343.2 L1121.7 1341.3 L1127.1 1339.4 L1132.4 1337.5 L1137.7 1335.5 L1142.8 1333.5 L1147.7 1331.5 L1152.4 1329.5 L1156.7 1327.6 L1160.7 1325.9 L1164.6 1324.3 L1168.4 1322.7 L1172.1 1321.1 L1175.8 1319.3 L1179.6 1317.4 L1183.5 1315.2 L1187.6 1312.7 L1191.8 1309.9 L1196.2 1306.6 L1201.0 1302.9 L1206.1 1298.7 L1211.5 1294.1 L1217.3 1289.1 L1223.3 1283.8 L1229.4 1278.1 L1235.6 1272.3 L1241.8 1266.2 L1247.9 1260.0 L1253.9 1253.6 L1259.6 1247.2 L1265.0 1240.8 L1270.0 1234.4 L1274.8 1227.8 L1279.3 1220.9 L1283.6 1213.7 L1287.7 1206.4 L1291.6 1199.0 L1295.3 1191.7 L1298.8 1184.5 L1302.1 1177.5 L1305.3 1170.9 L1308.3 1164.7 L1311.1 1159.1 L1313.7 1154.0 L1316.2 1149.5 L1318.4 1145.4 L1320.4 1141.7 L1322.2 1138.4 L1323.9 1135.4 L1325.4 1132.6 L1326.9 1130.0 L1328.3 1127.4 L1329.7 1124.8 L1331.2 1122.2 L1332.7 1119.4 L1334.4 1116.4 L1336.1 1113.2 L1337.9 1109.9 L1339.8 1106.5 L1341.8 1103.1 L1343.8 1099.6 L1345.7 1096.1 L1347.6 1092.7 L1349.4 1089.3 L1351.0 1086.1 L1352.5 1083.0 L1353.8 1080.0 L1354.9 1077.0 L1355.7 1073.9 L1356.0 1070.5 L1355.7 1067.0 L1354.5 1063.7 L1353.0 1061.3 L1351.7 1059.9 L1351.1 1059.2 L1345.7 1063.0 L1345.9 1063.2 L1345.9 1063.4 L1352.1 1064.3 L1352.5 1063.0 L1352.7 1062.0 L1353.3 1060.5 L1354.1 1058.5 L1355.1 1056.2 L1356.2 1053.6 L1357.5 1050.9 L1358.8 1048.0 L1360.0 1045.0 L1361.3 1041.9 L1362.4 1038.7 L1363.4 1035.3 L1364.2 1032.1 L1364.6 1029.5 L1365.0 1027.4 L1365.3 1025.3 L1365.6 1023.2 L1365.7 1021.0 L1365.7 1018.7 L1365.6 1016.3 L1365.5 1013.7 L1365.2 1010.8 L1364.9 1007.4 L1364.4 1003.4 L1363.9 998.6 L1363.4 992.9 L1362.8 986.5 L1362.1 979.2 L1361.4 971.4 L1360.5 963.0 L1359.2 954.3 L1357.9 945.4 L1356.3 936.3 L1354.7 927.2 L1352.8 918.2 L1350.7 909.4 L1348.4 900.9 L1345.9 892.6 L1343.2 884.2 L1340.3 875.8 L1337.1 867.3 L1333.8 858.9 L1330.4 850.6 L1327.0 842.4 L1323.4 834.4 L1319.9 826.6 L1316.3 819.1 L1312.8 812.0 L1309.3 805.2 L1305.7 798.7 L1302.1 792.6 L1298.3 786.7 L1294.6 781.1 L1290.8 775.9 L1287.1 770.8 L1283.4 766.0 L1279.8 761.4 L1276.3 757.0 L1272.9 752.7 L1269.7 748.6 L1266.7 744.5 L1264.0 740.8 L1261.7 737.2 L1259.6 733.8 L1257.5 730.4 L1255.5 727.1 L1253.4 723.7 L1251.1 720.2 L1248.4 716.7 L1245.4 713.1 L1241.8 709.5 L1237.8 705.9 L1233.2 702.2 L1227.9 698.5 L1222.1 694.7 L1215.7 690.9 L1209.0 687.1 L1202.0 683.3 L1194.8 679.6 L1187.5 675.9 L1180.2 672.3 L1173.0 668.8 L1166.0 665.6 L1159.2 662.5 L1152.9 659.6 L1146.8 657.0 L1140.9 654.5 L1135.1 652.2 L1129.3 650.0 L1123.7 648.0 L1118.1 646.1 L1112.6 644.3 L1107.1 642.5 L1101.7 640.9 L1096.3 639.4 L1090.9 637.9 L1085.6 636.4 L1080.2 635.0 L1074.9 633.7 L1069.6 632.4 L1064.3 631.1 L1059.1 630.0 L1054.0 628.6 L1048.8 627.4 L1043.6 626.2 L1038.4 625.2 L1033.1 624.3 L1027.8 623.6 L1022.3 623.1 L1016.9 622.7 L1011.4 622.6 L1005.9 622.6 L1000.4 622.8 L994.9 623.3 L989.4 623.8 L984.0 624.4 L978.6 625.1 L973.2 625.8 L967.9 626.6 L962.7 627.4 L957.4 628.1 L951.9 629.0 L946.0 630.1 L940.0 631.3 L934.0 632.6 L928.0 633.9 L922.1 635.3 L916.4 636.6 L911.1 637.9 L906.2 639.0 L901.9 640.1 L898.3 640.9 L895.4 641.6 Z"/><path d="M1355.2 1025.9 L1360.2 1026.8 L1366.5 1027.8 L1373.8 1029.0 L1382.1 1030.3 L1391.1 1031.8 L1400.6 1033.3 L1410.5 1034.9 L1420.5 1036.6 L1430.6 1038.2 L1440.5 1039.8 L1450.1 1041.4 L1459.2 1042.9 L1468.3 1044.5 L1477.9 1046.1 L1488.0 1047.8 L1498.3 1049.5 L1508.6 1051.3 L1518.7 1053.0 L1528.4 1054.7 L1537.6 1056.2 L1546.1 1057.7 L1553.6 1059.0 L1560.0 1060.1 L1565.2 1060.9 L1566.8 1051.1 L1561.7 1050.2 L1555.3 1049.1 L1547.7 1047.8 L1539.3 1046.4 L1530.1 1044.8 L1520.3 1043.1 L1510.2 1041.4 L1499.9 1039.7 L1489.7 1037.9 L1479.6 1036.2 L1469.9 1034.6 L1460.8 1033.1 L1451.7 1031.6 L1442.2 1030.0 L1432.2 1028.3 L1422.1 1026.7 L1412.1 1025.1 L1402.2 1023.4 L1392.7 1021.9 L1383.7 1020.4 L1375.4 1019.1 L1368.1 1017.9 L1361.8 1016.9 L1356.8 1016.1 Z"/></g>
<path d="M1210 746 L1283 819" stroke="#8C8FD0" stroke-width="1" opacity="0.8"/>
<text x="417.5" y="527.3" font-size="56" textLength="143.7" lengthAdjust="spacingAndGlyphs">Sclera</text>
<text x="251.6" y="639.4" font-size="56" textLength="262.8" lengthAdjust="spacingAndGlyphs">Ora serrata</text>
<text x="99.0" y="752.5" font-size="56" textLength="302.7" lengthAdjust="spacingAndGlyphs">Cilliary body</text>
<text x="246.2" y="864.2" font-size="56" textLength="110.3" lengthAdjust="spacingAndGlyphs">Lens</text>
<text x="238.7" y="976.3" font-size="56" textLength="69.5" lengthAdjust="spacingAndGlyphs">Iris</text>
<text x="68.7" y="1079.4" font-size="56" textLength="182.0" lengthAdjust="spacingAndGlyphs">Cornea</text>
<text x="1250.0" y="547.5" font-size="56" textLength="193.0" lengthAdjust="spacingAndGlyphs">Choroid</text>
<text x="1428.5" y="678.9" font-size="56" textLength="150.9" lengthAdjust="spacingAndGlyphs">Retina</text>
<text x="1555.1" y="816.1" font-size="56" textLength="140.1" lengthAdjust="spacingAndGlyphs">Fovea</text>
<text x="1394.7" y="1339.7" font-size="56" textLength="438.4" lengthAdjust="spacingAndGlyphs">Central retina vein</text>
<text x="1470.9" y="1408.3" font-size="56" textLength="286.7" lengthAdjust="spacingAndGlyphs">and arteries</text>
<path d="M577.6 512 L807.8 512 L856 558.7" fill="none" stroke="#231F20" stroke-width="7.2"/>
<path d="M529.7 622 L617 622 L757.6 763.6" fill="none" stroke="#231F20" stroke-width="7.2"/>
<path d="M411 738.7 L663.3 738.7" fill="none" stroke="#231F20" stroke-width="7.2"/>
<path d="M368 851.7 L639 851.7" fill="none" stroke="#231F20" stroke-width="7.2"/>
<path d="M321.4 961 L524 961" fill="none" stroke="#231F20" stroke-width="7.2"/>
<path d="M305 1074.7 L445 1074.7" fill="none" stroke="#231F20" stroke-width="7.2"/>
<path d="M1243.4 545.4 L1145.3 598.4" fill="none" stroke="#231F20" stroke-width="7.2"/>
<path d="M1419.4 669.4 L1300 736.9" fill="none" stroke="#231F20" stroke-width="7.2"/>
<path d="M1540 805.8 L1388 888" fill="none" stroke="#231F20" stroke-width="7.2"/>
<path d="M1361.9 859.7 L1378.3 854.6 L1397.6 927.5 L1381.9 932.3" fill="none" stroke="#231F20" stroke-width="7.2"/>
<path d="M1531 1281 L1499 1078 L1500.8 1046.7 M1499 1078 L1475 1052.5" fill="none" stroke="#231F20" stroke-width="7.2"/>
</svg>
</body></html>
